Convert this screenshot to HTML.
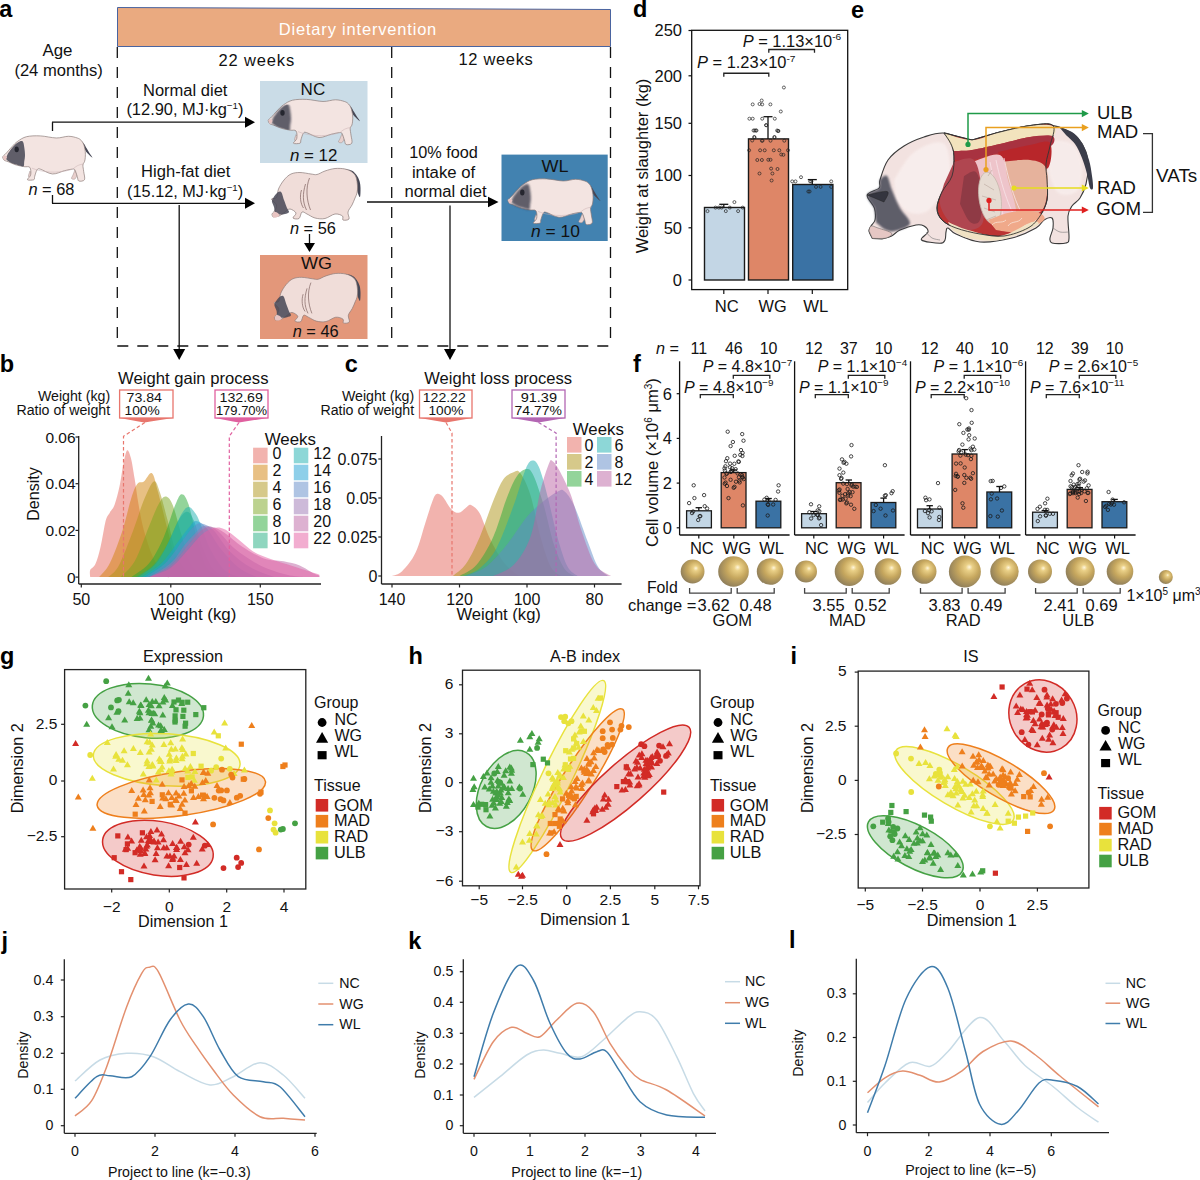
<!DOCTYPE html>
<html><head><meta charset="utf-8"><style>
html,body{margin:0;padding:0;background:#fff;width:1200px;height:1180px;overflow:hidden}
svg{display:block}
text{font-family:"Liberation Sans", sans-serif}
</style></head><body>
<svg width="1200" height="1180" viewBox="0 0 1200 1180" font-family='"Liberation Sans", sans-serif'>
<rect width="1200" height="1180" fill="#fff"/>
<defs><filter id="soft" x="-20%" y="-20%" width="140%" height="140%"><feGaussianBlur stdDeviation="0.8"/></filter></defs>
<text x="-0.7" y="16.8" font-size="23.5" text-anchor="start" fill="#000" font-weight="bold" >a</text>
<path d="M117.5,7.5 L610.5,9.5 L610.5,46.5 L117.5,46.5 Z" fill="#eaaa80" stroke="#4a64a0" stroke-width="1" />
<text x="278.8" y="35.3" font-size="16.5" text-anchor="start" fill="#fff" textLength="157.5" lengthAdjust="spacing" >Dietary intervention</text>
<line x1="117.3" y1="47.0" x2="117.3" y2="346.0" stroke="#111" stroke-width="1.3" stroke-dasharray="11,9"/>
<line x1="391.7" y1="47.0" x2="391.7" y2="346.0" stroke="#111" stroke-width="1.3" stroke-dasharray="11,9"/>
<line x1="610.5" y1="47.0" x2="610.5" y2="346.0" stroke="#111" stroke-width="1.3" stroke-dasharray="11,9"/>
<line x1="117.3" y1="346.0" x2="610.5" y2="346.0" stroke="#111" stroke-width="1.3" stroke-dasharray="11,9"/>
<text x="42.4" y="55.6" font-size="16" text-anchor="start" fill="#111" textLength="30.0" lengthAdjust="spacingAndGlyphs" >Age</text>
<text x="14.4" y="75.6" font-size="16" text-anchor="start" fill="#111" textLength="88.4" lengthAdjust="spacingAndGlyphs" >(24 months)</text>
<text x="218.5" y="65.5" font-size="16.5" text-anchor="start" fill="#111" textLength="75.7" lengthAdjust="spacing" >22 weeks</text>
<text x="458.5" y="65.3" font-size="16.5" text-anchor="start" fill="#111" textLength="74.3" lengthAdjust="spacing" >12 weeks</text>
<text x="143.0" y="95.6" font-size="16" text-anchor="start" fill="#111" textLength="84.4" lengthAdjust="spacingAndGlyphs" >Normal diet</text>
<text x="126.4" y="115.0" font-size="16" text-anchor="start" fill="#111" textLength="117.0" lengthAdjust="spacingAndGlyphs" >(12.90, MJ·kg<tspan font-size="9.5" dy="-6">−1</tspan><tspan dy="6">)</tspan></text>
<text x="141.1" y="177.3" font-size="16" text-anchor="start" fill="#111" textLength="89.3" lengthAdjust="spacingAndGlyphs" >High-fat diet</text>
<text x="127.1" y="197.3" font-size="16" text-anchor="start" fill="#111" textLength="116.0" lengthAdjust="spacingAndGlyphs" >(15.12, MJ·kg<tspan font-size="9.5" dy="-6">−1</tspan><tspan dy="6">)</tspan></text>
<line x1="52.5" y1="131.0" x2="52.5" y2="122.2" stroke="#111" stroke-width="1.3" />
<line x1="52.0" y1="122.2" x2="246.0" y2="122.2" stroke="#111" stroke-width="1.3" /><path d="M245.0,116.7 L255.0,122.2 L245.0,127.7 Z" fill="#000" stroke="none" stroke-width="1" />
<line x1="52.5" y1="195.0" x2="52.5" y2="203.3" stroke="#111" stroke-width="1.3" />
<line x1="52.0" y1="203.3" x2="246.0" y2="203.3" stroke="#111" stroke-width="1.3" /><path d="M245.0,197.8 L255.0,203.3 L245.0,208.8 Z" fill="#000" stroke="none" stroke-width="1" />
<g transform="translate(2.5,135.5) scale(0.9783,0.9891)"><path d="M74.0,34.8 C73.7,35.7 72.6,38.5 72.0,40.0 C71.4,41.5 70.2,42.8 70.5,43.5 C70.8,44.2 73.1,44.6 74.0,44.0 C74.9,43.4 76.0,41.5 76.0,40.0 C76.0,38.5 74.3,35.7 74.0,34.8 Z" fill="#e8cfcc" stroke="#8a7a78" stroke-width="0.4" /><path d="M28.0,36.0 C27.8,36.8 26.5,39.9 26.5,41.0 C26.5,42.1 27.4,42.8 28.0,42.5 C28.6,42.2 30.0,40.1 30.0,39.0 C30.0,37.9 28.3,36.5 28.0,36.0 Z" fill="#e8cfcc" stroke="#8a7a78" stroke-width="0.4" /><path d="M79.0,4.5 C79.7,5.1 81.8,6.6 83.0,8.0 C84.2,9.4 85.0,11.3 86.0,13.0 C87.0,14.7 88.0,16.4 89.0,18.0 C90.0,19.6 91.9,22.0 92.0,22.4 C92.1,22.8 90.5,21.4 89.5,20.5 C88.5,19.6 87.0,18.2 86.0,17.0 C85.0,15.8 84.7,15.1 83.5,13.0 C82.3,10.9 79.8,5.9 79.0,4.5 Z" fill="#464755" stroke="none" stroke-width="1" /><path d="M0.0,21.5 C0.4,21.1 1.5,20.2 2.5,19.2 C3.5,18.2 4.8,16.9 6.0,15.5 C7.2,14.1 8.4,12.6 10.0,11.0 C11.6,9.4 13.2,7.4 15.6,5.8 C18.0,4.2 20.8,2.1 24.6,1.2 C28.4,0.3 33.5,0.2 38.6,0.4 C43.7,0.6 50.2,2.4 55.0,2.5 C59.8,2.6 63.8,0.8 67.4,0.8 C71.0,0.8 74.2,1.8 76.4,2.5 C78.6,3.2 79.4,3.9 80.5,5.0 C81.6,6.1 82.3,7.2 83.0,9.0 C83.7,10.8 84.3,13.8 84.6,16.0 C84.9,18.2 84.7,20.6 84.6,22.4 C84.5,24.1 84.2,25.3 83.8,26.5 C83.4,27.7 82.3,28.1 82.2,29.8 C82.1,31.5 82.7,34.0 83.0,36.5 C83.3,39.0 84.6,43.1 83.8,44.7 C83.0,46.3 79.2,46.5 78.0,46.0 C76.8,45.5 77.1,43.3 76.4,41.4 C75.7,39.5 74.8,36.0 74.0,34.8 C73.2,33.6 73.3,33.9 71.5,34.0 C69.7,34.1 66.7,34.8 63.3,35.6 C59.9,36.4 55.1,39.2 51.0,38.9 C46.9,38.6 41.2,34.7 38.6,34.0 C36.0,33.3 36.2,33.6 35.3,34.8 C34.3,36.0 33.4,39.8 32.9,41.4 C32.4,43.0 33.2,44.2 32.0,44.7 C30.8,45.2 26.0,45.5 25.5,44.7 C25.0,43.9 28.4,41.9 28.8,39.8 C29.2,37.7 29.1,33.7 28.0,32.3 C26.9,30.9 24.5,31.9 22.2,31.5 C19.9,31.1 16.7,30.6 14.0,29.8 C11.3,29.0 7.9,27.3 5.8,26.5 C3.7,25.7 2.6,25.7 1.6,24.9 C0.6,24.1 0.3,22.1 0.0,21.5 Z" fill="#f3e4e1" stroke="#8a7a78" stroke-width="0.7" /><path d="M5.3,18.6 C6.1,17.6 8.2,14.3 9.9,12.4 C11.6,10.5 13.8,8.1 15.6,7.0 C17.4,5.9 19.4,5.0 20.5,5.8 C21.6,6.6 21.8,9.2 22.2,11.6 C22.6,13.9 23.0,17.4 23.0,19.9 C23.0,22.4 22.5,24.6 22.2,26.5 C21.9,28.4 22.5,30.6 21.4,31.1 C20.3,31.7 17.5,30.3 15.6,29.8 C13.7,29.3 11.5,28.8 9.9,28.1 C8.3,27.4 6.8,26.5 5.8,25.7 C4.8,24.9 3.8,24.4 3.7,23.2 C3.6,22.0 5.0,19.4 5.3,18.6 Z" fill="#464755" stroke="none" stroke-width="1" opacity="0.85" filter="url(#soft)"/><ellipse cx="14.5" cy="14" rx="2.2" ry="3" fill="#25262f"/><path d="M0.5,21.5 C2,20 3.5,20.5 4.5,22 C4,24 3,25 1.6,24.9 Z" fill="#e8c4c2" stroke="none" stroke-width="1" /><path d="M30,33 C40,37 55,39 70,34.5 M72,34 C76,30 80,29 83,29" fill="none" stroke="#c8aeb0" stroke-width="0.5" /></g>
<text x="28.4" y="195.3" font-size="16" text-anchor="start" fill="#111" textLength="46.0" lengthAdjust="spacingAndGlyphs" ><tspan font-style="italic">n</tspan> = 68</text>
<rect x="260.0" y="81.0" width="107.5" height="82.0" fill="#cadce7" stroke="none" stroke-width="1" />
<text x="300.6" y="95.0" font-size="16" text-anchor="start" fill="#111" textLength="24.6" lengthAdjust="spacingAndGlyphs" >NC</text>
<g transform="translate(268.0,99.0) scale(1.0000,0.9891)"><path d="M74.0,34.8 C73.7,35.7 72.6,38.5 72.0,40.0 C71.4,41.5 70.2,42.8 70.5,43.5 C70.8,44.2 73.1,44.6 74.0,44.0 C74.9,43.4 76.0,41.5 76.0,40.0 C76.0,38.5 74.3,35.7 74.0,34.8 Z" fill="#e8cfcc" stroke="#8a7a78" stroke-width="0.4" /><path d="M28.0,36.0 C27.8,36.8 26.5,39.9 26.5,41.0 C26.5,42.1 27.4,42.8 28.0,42.5 C28.6,42.2 30.0,40.1 30.0,39.0 C30.0,37.9 28.3,36.5 28.0,36.0 Z" fill="#e8cfcc" stroke="#8a7a78" stroke-width="0.4" /><path d="M79.0,4.5 C79.7,5.1 81.8,6.6 83.0,8.0 C84.2,9.4 85.0,11.3 86.0,13.0 C87.0,14.7 88.0,16.4 89.0,18.0 C90.0,19.6 91.9,22.0 92.0,22.4 C92.1,22.8 90.5,21.4 89.5,20.5 C88.5,19.6 87.0,18.2 86.0,17.0 C85.0,15.8 84.7,15.1 83.5,13.0 C82.3,10.9 79.8,5.9 79.0,4.5 Z" fill="#464755" stroke="none" stroke-width="1" /><path d="M0.0,21.5 C0.4,21.1 1.5,20.2 2.5,19.2 C3.5,18.2 4.8,16.9 6.0,15.5 C7.2,14.1 8.4,12.6 10.0,11.0 C11.6,9.4 13.2,7.4 15.6,5.8 C18.0,4.2 20.8,2.1 24.6,1.2 C28.4,0.3 33.5,0.2 38.6,0.4 C43.7,0.6 50.2,2.4 55.0,2.5 C59.8,2.6 63.8,0.8 67.4,0.8 C71.0,0.8 74.2,1.8 76.4,2.5 C78.6,3.2 79.4,3.9 80.5,5.0 C81.6,6.1 82.3,7.2 83.0,9.0 C83.7,10.8 84.3,13.8 84.6,16.0 C84.9,18.2 84.7,20.6 84.6,22.4 C84.5,24.1 84.2,25.3 83.8,26.5 C83.4,27.7 82.3,28.1 82.2,29.8 C82.1,31.5 82.7,34.0 83.0,36.5 C83.3,39.0 84.6,43.1 83.8,44.7 C83.0,46.3 79.2,46.5 78.0,46.0 C76.8,45.5 77.1,43.3 76.4,41.4 C75.7,39.5 74.8,36.0 74.0,34.8 C73.2,33.6 73.3,33.9 71.5,34.0 C69.7,34.1 66.7,34.8 63.3,35.6 C59.9,36.4 55.1,39.2 51.0,38.9 C46.9,38.6 41.2,34.7 38.6,34.0 C36.0,33.3 36.2,33.6 35.3,34.8 C34.3,36.0 33.4,39.8 32.9,41.4 C32.4,43.0 33.2,44.2 32.0,44.7 C30.8,45.2 26.0,45.5 25.5,44.7 C25.0,43.9 28.4,41.9 28.8,39.8 C29.2,37.7 29.1,33.7 28.0,32.3 C26.9,30.9 24.5,31.9 22.2,31.5 C19.9,31.1 16.7,30.6 14.0,29.8 C11.3,29.0 7.9,27.3 5.8,26.5 C3.7,25.7 2.6,25.7 1.6,24.9 C0.6,24.1 0.3,22.1 0.0,21.5 Z" fill="#f3e4e1" stroke="#8a7a78" stroke-width="0.7" /><path d="M5.3,18.6 C6.1,17.6 8.2,14.3 9.9,12.4 C11.6,10.5 13.8,8.1 15.6,7.0 C17.4,5.9 19.4,5.0 20.5,5.8 C21.6,6.6 21.8,9.2 22.2,11.6 C22.6,13.9 23.0,17.4 23.0,19.9 C23.0,22.4 22.5,24.6 22.2,26.5 C21.9,28.4 22.5,30.6 21.4,31.1 C20.3,31.7 17.5,30.3 15.6,29.8 C13.7,29.3 11.5,28.8 9.9,28.1 C8.3,27.4 6.8,26.5 5.8,25.7 C4.8,24.9 3.8,24.4 3.7,23.2 C3.6,22.0 5.0,19.4 5.3,18.6 Z" fill="#464755" stroke="none" stroke-width="1" opacity="0.85" filter="url(#soft)"/><ellipse cx="14.5" cy="14" rx="2.2" ry="3" fill="#25262f"/><path d="M0.5,21.5 C2,20 3.5,20.5 4.5,22 C4,24 3,25 1.6,24.9 Z" fill="#e8c4c2" stroke="none" stroke-width="1" /><path d="M30,33 C40,37 55,39 70,34.5 M72,34 C76,30 80,29 83,29" fill="none" stroke="#c8aeb0" stroke-width="0.5" /></g>
<text x="289.9" y="161.0" font-size="16" text-anchor="start" fill="#111" textLength="47.5" lengthAdjust="spacingAndGlyphs" ><tspan font-style="italic">n</tspan> = 12</text>
<g transform="translate(271.5,168.0) scale(1.0000,1.0000)"><path d="M72.0,1.0 C73.3,1.2 77.8,1.5 80.0,2.5 C82.2,3.5 83.7,5.2 85.0,7.0 C86.3,8.8 87.3,10.8 88.0,13.0 C88.7,15.2 88.9,17.3 89.0,20.0 C89.1,22.7 89.0,28.3 88.5,29.0 C88.0,29.7 86.7,26.0 86.0,24.0 C85.3,22.0 85.3,19.5 84.5,17.0 C83.7,14.5 82.4,11.0 81.0,9.0 C79.6,7.0 77.5,6.3 76.0,5.0 C74.5,3.7 72.7,1.7 72.0,1.0 Z" fill="#464755" stroke="none" stroke-width="1" /><path d="M1.5,49.0 C1.3,48.5 0.2,47.0 0.5,46.0 C0.8,45.0 2.2,44.5 3.0,43.0 C3.8,41.5 5.5,39.0 5.0,37.0 C4.5,35.0 0.0,32.2 0.0,31.0 C0.0,29.8 3.8,31.2 5.0,29.5 C6.2,27.8 5.8,23.9 7.0,21.0 C8.2,18.1 10.4,14.5 12.5,12.0 C14.6,9.5 16.8,7.2 19.5,6.0 C22.2,4.8 25.2,4.5 28.5,4.5 C31.8,4.5 36.7,5.7 39.5,6.0 C42.3,6.3 43.2,7.0 45.5,6.5 C47.8,6.0 50.5,4.0 53.5,3.0 C56.5,2.0 60.2,0.8 63.5,0.5 C66.8,0.2 70.7,0.4 73.5,1.0 C76.3,1.6 78.7,2.7 80.5,4.0 C82.3,5.3 83.6,6.7 84.5,9.0 C85.4,11.3 85.8,15.3 86.0,18.0 C86.2,20.7 85.9,23.0 85.5,25.0 C85.1,27.0 84.3,28.0 83.5,30.0 C82.7,32.0 81.7,34.7 80.5,37.0 C79.3,39.3 77.0,41.7 76.5,44.0 C76.0,46.3 78.3,49.7 77.5,51.0 C76.7,52.3 72.6,52.5 71.5,52.0 C70.4,51.5 72.3,49.0 71.0,48.0 C69.7,47.0 66.4,45.6 63.5,46.0 C60.6,46.4 56.8,49.8 53.5,50.5 C50.2,51.2 46.5,50.8 43.5,50.0 C40.5,49.2 37.7,47.0 35.5,46.0 C33.3,45.0 31.8,43.2 30.5,44.0 C29.2,44.8 29.0,49.5 27.5,50.5 C26.0,51.5 22.0,50.9 21.5,50.0 C21.0,49.1 25.0,46.5 24.5,45.0 C24.0,43.5 20.3,41.2 18.5,41.0 C16.7,40.8 15.3,42.8 13.5,44.0 C11.7,45.2 9.5,47.2 7.5,48.0 C5.5,48.8 2.5,48.8 1.5,49.0 Z" fill="#f0ddd9" stroke="#8a7a78" stroke-width="0.7" /><path d="M1.0,31.0 C1.7,30.1 3.6,26.7 5.0,25.5 C6.4,24.3 8.2,22.9 9.5,24.0 C10.8,25.1 11.5,29.3 12.5,32.0 C13.5,34.7 14.7,38.0 15.5,40.0 C16.3,42.0 17.8,43.0 17.5,44.0 C17.2,45.0 15.2,45.6 13.5,46.0 C11.8,46.4 9.2,46.8 7.5,46.5 C5.8,46.2 4.3,45.2 3.5,44.0 C2.7,42.8 3.0,40.7 2.5,39.0 C2.0,37.3 0.8,35.3 0.5,34.0 C0.2,32.7 0.9,31.5 1.0,31.0 Z" fill="#464755" stroke="none" stroke-width="1" opacity="0.85"/><path d="M1.5,49 C0.5,47 1,45 3,44 C6,44 8,46 7.5,48 C6,49.5 3,50 1.5,49 Z" fill="#e8c4c2" stroke="none" stroke-width="1" /><path d="M38,10 C34,20 35,32 39,42 M34,16 C31,26 31,34 35,42 M30,22 C28,28 29,36 32,40" fill="none" stroke="#8a6e6c" stroke-width="0.8" /></g>
<text x="289.9" y="233.5" font-size="16" text-anchor="start" fill="#111" textLength="46.0" lengthAdjust="spacingAndGlyphs" ><tspan font-style="italic">n</tspan> = 56</text>
<line x1="309.5" y1="234.0" x2="309.5" y2="244.0" stroke="#111" stroke-width="1.3" /><path d="M304.0,243.0 L309.5,252.0 L315.0,243.0 Z" fill="#000" stroke="none" stroke-width="1" />
<rect x="260.0" y="255.0" width="107.5" height="84.0" fill="#e3977a" stroke="none" stroke-width="1" />
<text x="301.1" y="269.0" font-size="16" text-anchor="start" fill="#111" textLength="31.0" lengthAdjust="spacingAndGlyphs" >WG</text>
<g transform="translate(274.0,273.0) scale(0.9718,0.9615)"><path d="M72.0,1.0 C73.3,1.2 77.8,1.5 80.0,2.5 C82.2,3.5 83.7,5.2 85.0,7.0 C86.3,8.8 87.3,10.8 88.0,13.0 C88.7,15.2 88.9,17.3 89.0,20.0 C89.1,22.7 89.0,28.3 88.5,29.0 C88.0,29.7 86.7,26.0 86.0,24.0 C85.3,22.0 85.3,19.5 84.5,17.0 C83.7,14.5 82.4,11.0 81.0,9.0 C79.6,7.0 77.5,6.3 76.0,5.0 C74.5,3.7 72.7,1.7 72.0,1.0 Z" fill="#464755" stroke="none" stroke-width="1" /><path d="M1.5,49.0 C1.3,48.5 0.2,47.0 0.5,46.0 C0.8,45.0 2.2,44.5 3.0,43.0 C3.8,41.5 5.5,39.0 5.0,37.0 C4.5,35.0 0.0,32.2 0.0,31.0 C0.0,29.8 3.8,31.2 5.0,29.5 C6.2,27.8 5.8,23.9 7.0,21.0 C8.2,18.1 10.4,14.5 12.5,12.0 C14.6,9.5 16.8,7.2 19.5,6.0 C22.2,4.8 25.2,4.5 28.5,4.5 C31.8,4.5 36.7,5.7 39.5,6.0 C42.3,6.3 43.2,7.0 45.5,6.5 C47.8,6.0 50.5,4.0 53.5,3.0 C56.5,2.0 60.2,0.8 63.5,0.5 C66.8,0.2 70.7,0.4 73.5,1.0 C76.3,1.6 78.7,2.7 80.5,4.0 C82.3,5.3 83.6,6.7 84.5,9.0 C85.4,11.3 85.8,15.3 86.0,18.0 C86.2,20.7 85.9,23.0 85.5,25.0 C85.1,27.0 84.3,28.0 83.5,30.0 C82.7,32.0 81.7,34.7 80.5,37.0 C79.3,39.3 77.0,41.7 76.5,44.0 C76.0,46.3 78.3,49.7 77.5,51.0 C76.7,52.3 72.6,52.5 71.5,52.0 C70.4,51.5 72.3,49.0 71.0,48.0 C69.7,47.0 66.4,45.6 63.5,46.0 C60.6,46.4 56.8,49.8 53.5,50.5 C50.2,51.2 46.5,50.8 43.5,50.0 C40.5,49.2 37.7,47.0 35.5,46.0 C33.3,45.0 31.8,43.2 30.5,44.0 C29.2,44.8 29.0,49.5 27.5,50.5 C26.0,51.5 22.0,50.9 21.5,50.0 C21.0,49.1 25.0,46.5 24.5,45.0 C24.0,43.5 20.3,41.2 18.5,41.0 C16.7,40.8 15.3,42.8 13.5,44.0 C11.7,45.2 9.5,47.2 7.5,48.0 C5.5,48.8 2.5,48.8 1.5,49.0 Z" fill="#f0ddd9" stroke="#8a7a78" stroke-width="0.7" /><path d="M1.0,31.0 C1.7,30.1 3.6,26.7 5.0,25.5 C6.4,24.3 8.2,22.9 9.5,24.0 C10.8,25.1 11.5,29.3 12.5,32.0 C13.5,34.7 14.7,38.0 15.5,40.0 C16.3,42.0 17.8,43.0 17.5,44.0 C17.2,45.0 15.2,45.6 13.5,46.0 C11.8,46.4 9.2,46.8 7.5,46.5 C5.8,46.2 4.3,45.2 3.5,44.0 C2.7,42.8 3.0,40.7 2.5,39.0 C2.0,37.3 0.8,35.3 0.5,34.0 C0.2,32.7 0.9,31.5 1.0,31.0 Z" fill="#464755" stroke="none" stroke-width="1" opacity="0.85"/><path d="M1.5,49 C0.5,47 1,45 3,44 C6,44 8,46 7.5,48 C6,49.5 3,50 1.5,49 Z" fill="#e8c4c2" stroke="none" stroke-width="1" /><path d="M38,10 C34,20 35,32 39,42 M34,16 C31,26 31,34 35,42 M30,22 C28,28 29,36 32,40" fill="none" stroke="#8a6e6c" stroke-width="0.8" /></g>
<text x="292.7" y="337.3" font-size="16" text-anchor="start" fill="#111" textLength="46.0" lengthAdjust="spacingAndGlyphs" ><tspan font-style="italic">n</tspan> = 46</text>
<line x1="367.0" y1="202.0" x2="489.0" y2="202.0" stroke="#111" stroke-width="1.3" /><path d="M488.0,196.7 L498.5,202.0 L488.0,207.3 Z" fill="#000" stroke="none" stroke-width="1" />
<text x="409.2" y="157.7" font-size="16" text-anchor="start" fill="#111" textLength="68.7" lengthAdjust="spacingAndGlyphs" >10% food</text>
<text x="411.9" y="177.5" font-size="16" text-anchor="start" fill="#111" textLength="63.3" lengthAdjust="spacingAndGlyphs" >intake of</text>
<text x="404.4" y="196.7" font-size="16" text-anchor="start" fill="#111" textLength="82.2" lengthAdjust="spacingAndGlyphs" >normal diet</text>
<rect x="501.5" y="154.6" width="106.2" height="86.4" fill="#4282b0" stroke="none" stroke-width="1" />
<text x="541.4" y="171.7" font-size="16" text-anchor="start" fill="#111" textLength="27.0" lengthAdjust="spacingAndGlyphs" >WL</text>
<g transform="translate(507.7,178.5) scale(1.0076,0.9978)"><path d="M74.0,34.8 C73.7,35.7 72.6,38.5 72.0,40.0 C71.4,41.5 70.2,42.8 70.5,43.5 C70.8,44.2 73.1,44.6 74.0,44.0 C74.9,43.4 76.0,41.5 76.0,40.0 C76.0,38.5 74.3,35.7 74.0,34.8 Z" fill="#e8cfcc" stroke="#8a7a78" stroke-width="0.4" /><path d="M28.0,36.0 C27.8,36.8 26.5,39.9 26.5,41.0 C26.5,42.1 27.4,42.8 28.0,42.5 C28.6,42.2 30.0,40.1 30.0,39.0 C30.0,37.9 28.3,36.5 28.0,36.0 Z" fill="#e8cfcc" stroke="#8a7a78" stroke-width="0.4" /><path d="M79.0,4.5 C79.7,5.1 81.8,6.6 83.0,8.0 C84.2,9.4 85.0,11.3 86.0,13.0 C87.0,14.7 88.0,16.4 89.0,18.0 C90.0,19.6 91.9,22.0 92.0,22.4 C92.1,22.8 90.5,21.4 89.5,20.5 C88.5,19.6 87.0,18.2 86.0,17.0 C85.0,15.8 84.7,15.1 83.5,13.0 C82.3,10.9 79.8,5.9 79.0,4.5 Z" fill="#464755" stroke="none" stroke-width="1" /><path d="M0.0,21.5 C0.4,21.1 1.5,20.2 2.5,19.2 C3.5,18.2 4.8,16.9 6.0,15.5 C7.2,14.1 8.4,12.6 10.0,11.0 C11.6,9.4 13.2,7.4 15.6,5.8 C18.0,4.2 20.8,2.1 24.6,1.2 C28.4,0.3 33.5,0.2 38.6,0.4 C43.7,0.6 50.2,2.4 55.0,2.5 C59.8,2.6 63.8,0.8 67.4,0.8 C71.0,0.8 74.2,1.8 76.4,2.5 C78.6,3.2 79.4,3.9 80.5,5.0 C81.6,6.1 82.3,7.2 83.0,9.0 C83.7,10.8 84.3,13.8 84.6,16.0 C84.9,18.2 84.7,20.6 84.6,22.4 C84.5,24.1 84.2,25.3 83.8,26.5 C83.4,27.7 82.3,28.1 82.2,29.8 C82.1,31.5 82.7,34.0 83.0,36.5 C83.3,39.0 84.6,43.1 83.8,44.7 C83.0,46.3 79.2,46.5 78.0,46.0 C76.8,45.5 77.1,43.3 76.4,41.4 C75.7,39.5 74.8,36.0 74.0,34.8 C73.2,33.6 73.3,33.9 71.5,34.0 C69.7,34.1 66.7,34.8 63.3,35.6 C59.9,36.4 55.1,39.2 51.0,38.9 C46.9,38.6 41.2,34.7 38.6,34.0 C36.0,33.3 36.2,33.6 35.3,34.8 C34.3,36.0 33.4,39.8 32.9,41.4 C32.4,43.0 33.2,44.2 32.0,44.7 C30.8,45.2 26.0,45.5 25.5,44.7 C25.0,43.9 28.4,41.9 28.8,39.8 C29.2,37.7 29.1,33.7 28.0,32.3 C26.9,30.9 24.5,31.9 22.2,31.5 C19.9,31.1 16.7,30.6 14.0,29.8 C11.3,29.0 7.9,27.3 5.8,26.5 C3.7,25.7 2.6,25.7 1.6,24.9 C0.6,24.1 0.3,22.1 0.0,21.5 Z" fill="#f3e4e1" stroke="#8a7a78" stroke-width="0.7" /><path d="M5.3,18.6 C6.1,17.6 8.2,14.3 9.9,12.4 C11.6,10.5 13.8,8.1 15.6,7.0 C17.4,5.9 19.4,5.0 20.5,5.8 C21.6,6.6 21.8,9.2 22.2,11.6 C22.6,13.9 23.0,17.4 23.0,19.9 C23.0,22.4 22.5,24.6 22.2,26.5 C21.9,28.4 22.5,30.6 21.4,31.1 C20.3,31.7 17.5,30.3 15.6,29.8 C13.7,29.3 11.5,28.8 9.9,28.1 C8.3,27.4 6.8,26.5 5.8,25.7 C4.8,24.9 3.8,24.4 3.7,23.2 C3.6,22.0 5.0,19.4 5.3,18.6 Z" fill="#464755" stroke="none" stroke-width="1" opacity="0.85" filter="url(#soft)"/><ellipse cx="14.5" cy="14" rx="2.2" ry="3" fill="#25262f"/><path d="M0.5,21.5 C2,20 3.5,20.5 4.5,22 C4,24 3,25 1.6,24.9 Z" fill="#e8c4c2" stroke="none" stroke-width="1" /><path d="M30,33 C40,37 55,39 70,34.5 M72,34 C76,30 80,29 83,29" fill="none" stroke="#c8aeb0" stroke-width="0.5" /></g>
<text x="531.1" y="236.9" font-size="16" text-anchor="start" fill="#111" textLength="48.9" lengthAdjust="spacingAndGlyphs" ><tspan font-style="italic">n</tspan> = 10</text>
<line x1="179.2" y1="205.0" x2="179.2" y2="350.0" stroke="#111" stroke-width="1.3" /><path d="M173.2,349.0 L179.2,360.0 L185.2,349.0 Z" fill="#000" stroke="none" stroke-width="1" />
<line x1="450.0" y1="205.6" x2="450.0" y2="350.0" stroke="#111" stroke-width="1.3" /><path d="M444.0,349.0 L450.0,360.0 L456.0,349.0 Z" fill="#000" stroke="none" stroke-width="1" />
<text x="-0.2" y="371.7" font-size="23.5" text-anchor="start" fill="#000" font-weight="bold" >b</text>
<path d="M90.2,577.1 C90.2,575.9 89.4,572.3 90.2,570.1 C91.1,567.9 93.7,567.9 95.4,564.0 C97.2,560.1 98.9,553.9 100.6,546.7 C102.3,539.6 104.2,526.7 105.6,521.1 C107.1,515.4 108.1,515.6 109.6,512.9 C111.1,510.2 112.9,509.2 114.6,504.7 C116.3,500.2 118.1,492.8 119.6,486.0 C121.1,479.2 122.1,469.8 123.4,463.9 C124.6,457.9 125.9,451.3 127.1,450.3 C128.4,449.3 129.6,453.3 130.9,458.0 C132.1,462.7 133.4,470.8 134.6,478.6 C135.9,486.3 137.0,496.1 138.6,504.7 C140.1,513.4 141.6,521.8 143.9,530.4 C146.3,539.0 149.3,548.7 152.5,556.1 C155.8,563.5 160.6,571.3 163.6,574.8 C166.7,578.3 169.6,576.7 170.8,577.1 L170.8,577.1 L90.2,577.1 Z" fill="#e5675d" fill-opacity="0.5" stroke="none"/>
<path d="M99.2,577.1 C101.0,574.8 106.1,570.9 109.9,563.1 C113.8,555.3 118.9,541.3 122.5,530.4 C126.0,519.5 128.9,505.5 131.4,497.7 C133.9,489.9 135.4,486.4 137.5,483.7 C139.6,481.0 141.5,483.1 143.9,481.4 C146.4,479.6 149.6,471.2 152.0,473.2 C154.4,475.1 155.6,483.5 158.3,493.0 C160.9,502.6 164.8,519.1 167.8,530.4 C170.7,541.7 173.0,553.0 176.2,560.8 C179.4,568.5 185.1,574.4 186.9,577.1 L186.9,577.1 L99.2,577.1 Z" fill="#d18109" fill-opacity="0.5" stroke="none"/>
<path d="M108.2,577.1 C109.9,575.2 114.7,573.2 118.9,565.4 C123.1,557.6 129.0,541.3 133.2,530.4 C137.4,519.5 140.5,508.2 143.9,500.0 C147.4,491.9 151.1,482.5 153.8,481.4 C156.5,480.2 157.7,486.4 160.1,493.0 C162.4,499.7 164.8,510.2 167.8,521.1 C170.7,532.0 173.9,549.1 178.0,558.4 C182.0,567.8 189.9,574.0 192.3,577.1 L192.3,577.1 L108.2,577.1 Z" fill="#ad9315" fill-opacity="0.5" stroke="none"/>
<path d="M120.7,577.1 C123.1,574.4 130.2,569.3 135.0,560.8 C139.8,552.2 145.4,535.1 149.3,525.7 C153.2,516.4 155.6,509.6 158.3,504.7 C161.0,499.9 163.0,496.5 165.4,496.5 C167.8,496.5 169.9,498.3 172.6,504.7 C175.3,511.1 178.6,525.3 181.5,535.1 C184.5,544.8 186.9,556.1 190.5,563.1 C194.1,570.1 200.9,574.8 203.0,577.1 L203.0,577.1 L120.7,577.1 Z" fill="#79a51f" fill-opacity="0.5" stroke="none"/>
<path d="M131.4,577.1 C134.4,574.8 143.9,569.7 149.3,563.1 C154.7,556.5 159.5,546.7 163.6,537.4 C167.8,528.1 171.4,514.2 174.4,507.1 C177.4,499.9 179.2,494.6 181.5,494.2 C183.9,493.8 186.0,496.7 188.7,504.7 C191.4,512.7 194.7,531.6 197.7,542.1 C200.6,552.6 203.0,561.9 206.6,567.8 C210.2,573.6 217.0,575.5 219.1,577.1 L219.1,577.1 L131.4,577.1 Z" fill="#27a935" fill-opacity="0.5" stroke="none"/>
<path d="M135.0,577.1 C138.0,575.2 147.5,570.9 152.9,565.4 C158.3,560.0 163.0,551.8 167.2,544.4 C171.4,537.0 174.7,526.5 178.0,521.1 C181.2,515.6 184.2,511.7 186.9,511.7 C189.6,511.7 191.4,514.8 194.1,521.1 C196.8,527.3 199.7,540.9 203.0,549.1 C206.3,557.3 209.6,565.4 213.8,570.1 C217.9,574.8 225.7,575.9 228.1,577.1 L228.1,577.1 L135.0,577.1 Z" fill="#1fad7f" fill-opacity="0.5" stroke="none"/>
<path d="M138.6,577.1 C141.6,574.8 151.1,569.7 156.5,563.1 C161.9,556.5 166.6,545.6 170.8,537.4 C175.0,529.2 178.6,519.1 181.5,514.1 C184.5,509.0 186.3,507.1 188.7,507.1 C191.1,507.1 193.8,510.9 195.9,514.1 C197.9,517.2 198.8,519.9 201.2,525.7 C203.6,531.6 206.3,541.7 210.2,549.1 C214.1,556.5 219.7,565.4 224.5,570.1 C229.3,574.8 236.4,575.9 238.8,577.1 L238.8,577.1 L138.6,577.1 Z" fill="#1bafaf" fill-opacity="0.5" stroke="none"/>
<path d="M142.2,577.1 C145.4,574.8 155.9,568.9 161.8,563.1 C167.8,557.3 173.5,547.9 178.0,542.1 C182.4,536.2 185.7,531.6 188.7,528.1 C191.7,524.6 192.9,521.1 195.9,521.1 C198.8,521.1 202.4,523.4 206.6,528.1 C210.8,532.7 215.6,542.5 220.9,549.1 C226.3,555.7 232.9,563.1 238.8,567.8 C244.8,572.4 253.7,575.5 256.7,577.1 L256.7,577.1 L142.2,577.1 Z" fill="#1d9fd3" fill-opacity="0.5" stroke="none"/>
<path d="M145.7,577.1 C149.0,574.8 159.5,568.9 165.4,563.1 C171.4,557.3 177.1,547.9 181.5,542.1 C186.0,536.2 189.0,531.2 192.3,528.1 C195.6,525.0 197.7,523.0 201.2,523.4 C204.8,523.8 209.0,525.7 213.8,530.4 C218.5,535.1 223.6,545.2 229.9,551.4 C236.1,557.6 243.9,563.5 251.4,567.8 C258.8,572.0 270.7,575.5 274.6,577.1 L274.6,577.1 L145.7,577.1 Z" fill="#5f89c7" fill-opacity="0.5" stroke="none"/>
<path d="M149.3,577.1 C152.9,574.8 164.8,568.5 170.8,563.1 C176.8,557.6 180.9,549.5 185.1,544.4 C189.3,539.4 192.6,535.8 195.9,532.7 C199.1,529.6 201.2,526.1 204.8,525.7 C208.4,525.3 212.3,526.5 217.3,530.4 C222.4,534.3 228.1,543.2 235.2,549.1 C242.4,554.9 251.6,561.1 260.3,565.4 C269.0,569.7 279.7,572.8 287.1,574.8 C294.6,576.7 302.1,576.7 305.1,577.1 L305.1,577.1 L149.3,577.1 Z" fill="#9b75b3" fill-opacity="0.5" stroke="none"/>
<path d="M149.3,577.1 C152.9,575.2 164.2,570.9 170.8,565.4 C177.4,560.0 183.6,550.2 188.7,544.4 C193.8,538.6 197.4,533.3 201.2,530.4 C205.1,527.5 208.1,526.5 212.0,526.9 C215.8,527.3 219.4,529.4 224.5,532.7 C229.6,536.0 235.8,542.5 242.4,546.7 C249.0,551.0 257.0,556.0 263.9,558.4 C270.7,560.8 277.6,560.1 283.6,561.2 C289.5,562.4 294.6,563.4 299.7,565.4 C304.8,567.5 310.7,571.9 314.0,573.6 C317.3,575.3 318.5,575.3 319.4,575.7 L319.4,577.1 L149.3,577.1 Z" fill="#bb63a3" fill-opacity="0.5" stroke="none"/>
<path d="M149.3,577.1 C152.9,575.5 164.2,572.4 170.8,567.8 C177.4,563.1 183.6,554.5 188.7,549.1 C193.8,543.6 197.1,538.6 201.2,535.1 C205.4,531.6 209.9,529.0 213.8,528.1 C217.6,527.1 220.3,527.3 224.5,529.2 C228.7,531.2 234.0,536.0 238.8,539.7 C243.6,543.4 248.1,548.3 253.1,551.4 C258.2,554.5 263.6,556.3 269.2,558.4 C274.9,560.6 281.2,562.3 287.1,564.3 C293.1,566.2 299.7,568.3 305.1,570.1 C310.4,571.8 317.0,574.0 319.4,574.8 L319.4,577.1 L149.3,577.1 Z" fill="#e55ba1" fill-opacity="0.5" stroke="none"/>
<line x1="78.7" y1="436.0" x2="78.7" y2="584.0" stroke="#222" stroke-width="1.3" />
<line x1="78.7" y1="584.0" x2="321.0" y2="584.0" stroke="#222" stroke-width="1.3" />
<line x1="75.5" y1="577.1" x2="78.7" y2="577.1" stroke="#222" stroke-width="1.2" />
<text x="75.6" y="582.6" font-size="15.5" text-anchor="end" fill="#111" >0</text>
<line x1="75.5" y1="530.4" x2="78.7" y2="530.4" stroke="#222" stroke-width="1.2" />
<text x="75.6" y="535.9" font-size="15.5" text-anchor="end" fill="#111" >0.02</text>
<line x1="75.5" y1="483.7" x2="78.7" y2="483.7" stroke="#222" stroke-width="1.2" />
<text x="75.6" y="489.2" font-size="15.5" text-anchor="end" fill="#111" >0.04</text>
<line x1="75.5" y1="437.0" x2="78.7" y2="437.0" stroke="#222" stroke-width="1.2" />
<text x="75.6" y="442.5" font-size="15.5" text-anchor="end" fill="#111" >0.06</text>
<line x1="81.3" y1="584.0" x2="81.3" y2="587.5" stroke="#222" stroke-width="1.2" />
<text x="81.3" y="604.5" font-size="16" text-anchor="middle" fill="#111" >50</text>
<line x1="170.8" y1="584.0" x2="170.8" y2="587.5" stroke="#222" stroke-width="1.2" />
<text x="170.8" y="604.5" font-size="16" text-anchor="middle" fill="#111" >100</text>
<line x1="260.3" y1="584.0" x2="260.3" y2="587.5" stroke="#222" stroke-width="1.2" />
<text x="260.3" y="604.5" font-size="16" text-anchor="middle" fill="#111" >150</text>
<text x="150.4" y="619.5" font-size="16" text-anchor="start" fill="#111" textLength="86.0" lengthAdjust="spacingAndGlyphs" >Weight (kg)</text>
<text x="38.5" y="494.0" font-size="16" text-anchor="middle" fill="#111" textLength="53.6" lengthAdjust="spacingAndGlyphs" transform="rotate(-90 38.5 494)">Density</text>
<text x="118.1" y="383.5" font-size="16.5" text-anchor="start" fill="#111" textLength="150.4" lengthAdjust="spacingAndGlyphs" >Weight gain process</text>
<text x="37.9" y="401.0" font-size="14" text-anchor="start" fill="#111" textLength="72.3" lengthAdjust="spacingAndGlyphs" >Weight (kg)</text>
<text x="16.4" y="414.8" font-size="14" text-anchor="start" fill="#111" textLength="93.8" lengthAdjust="spacingAndGlyphs" >Ratio of weight</text>
<rect x="119.6" y="390.0" width="53.4" height="28.0" fill="#fff" stroke="#e8766d" stroke-width="1.3" />
<path d="M119.6,418.0 L173.0,418.0 L150.5,421.5 L144.5,422.5 L138.5,421.5 Z" fill="#e8766d" stroke="none" stroke-width="1" />
<text x="126.5" y="402.3" font-size="13.5" text-anchor="start" fill="#111" textLength="35.5" lengthAdjust="spacingAndGlyphs" >73.84</text>
<text x="124.5" y="415.3" font-size="13.5" text-anchor="start" fill="#111" textLength="35.3" lengthAdjust="spacingAndGlyphs" >100%</text>
<rect x="215.0" y="390.0" width="53.0" height="28.0" fill="#fff" stroke="#e0609f" stroke-width="1.3" />
<path d="M215.0,418.0 L268.0,418.0 L245.0,421.5 L239.0,422.5 L233.0,421.5 Z" fill="#e0609f" stroke="none" stroke-width="1" />
<text x="219.5" y="402.3" font-size="13.5" text-anchor="start" fill="#111" textLength="43.4" lengthAdjust="spacingAndGlyphs" >132.69</text>
<text x="215.9" y="415.3" font-size="13.5" text-anchor="start" fill="#111" textLength="51.2" lengthAdjust="spacingAndGlyphs" >179.70%</text>
<path d="M144.8,422.5 L123.5,436.3 L123.5,577" fill="none" stroke="#e8766d" stroke-width="1.2" stroke-dasharray="3.5,2.5"/>
<path d="M239,422.5 L229.3,436.3 L229.3,577" fill="none" stroke="#e0609f" stroke-width="1.2" stroke-dasharray="3.5,2.5"/>
<text x="264.7" y="444.9" font-size="16.5" text-anchor="start" fill="#111" textLength="51.3" lengthAdjust="spacingAndGlyphs" >Weeks</text>
<rect x="253.1" y="447.7" width="14.5" height="15.6" fill="#f2b3ae" stroke="none" stroke-width="1" />
<text x="272.6" y="459.3" font-size="16" text-anchor="start" fill="#111" >0</text>
<rect x="253.1" y="464.7" width="14.5" height="15.6" fill="#e8c084" stroke="none" stroke-width="1" />
<text x="272.6" y="476.3" font-size="16" text-anchor="start" fill="#111" >2</text>
<rect x="253.1" y="481.7" width="14.5" height="15.6" fill="#d6c98a" stroke="none" stroke-width="1" />
<text x="272.6" y="493.3" font-size="16" text-anchor="start" fill="#111" >4</text>
<rect x="253.1" y="498.7" width="14.5" height="15.6" fill="#bcd28f" stroke="none" stroke-width="1" />
<text x="272.6" y="510.3" font-size="16" text-anchor="start" fill="#111" >6</text>
<rect x="253.1" y="515.7" width="14.5" height="15.6" fill="#93d49a" stroke="none" stroke-width="1" />
<text x="272.6" y="527.3" font-size="16" text-anchor="start" fill="#111" >8</text>
<rect x="253.1" y="532.7" width="14.5" height="15.6" fill="#8fd6bf" stroke="none" stroke-width="1" />
<text x="272.6" y="544.3" font-size="16" text-anchor="start" fill="#111" >10</text>
<rect x="293.8" y="447.7" width="14.5" height="15.6" fill="#8dd7d7" stroke="none" stroke-width="1" />
<text x="313.3" y="459.3" font-size="16" text-anchor="start" fill="#111" >12</text>
<rect x="293.8" y="464.7" width="14.5" height="15.6" fill="#8ecfe9" stroke="none" stroke-width="1" />
<text x="313.3" y="476.3" font-size="16" text-anchor="start" fill="#111" >14</text>
<rect x="293.8" y="481.7" width="14.5" height="15.6" fill="#afc4e3" stroke="none" stroke-width="1" />
<text x="313.3" y="493.3" font-size="16" text-anchor="start" fill="#111" >16</text>
<rect x="293.8" y="498.7" width="14.5" height="15.6" fill="#cdbad9" stroke="none" stroke-width="1" />
<text x="313.3" y="510.3" font-size="16" text-anchor="start" fill="#111" >18</text>
<rect x="293.8" y="515.7" width="14.5" height="15.6" fill="#ddb1d1" stroke="none" stroke-width="1" />
<text x="313.3" y="527.3" font-size="16" text-anchor="start" fill="#111" >20</text>
<rect x="293.8" y="532.7" width="14.5" height="15.6" fill="#f2add0" stroke="none" stroke-width="1" />
<text x="313.3" y="544.3" font-size="16" text-anchor="start" fill="#111" >22</text>
<text x="344.8" y="372.0" font-size="23.5" text-anchor="start" fill="#000" font-weight="bold" >c</text>
<path d="M392.0,576.0 C393.7,575.2 398.2,575.2 402.1,571.3 C406.1,567.4 411.7,560.9 415.6,552.6 C419.6,544.3 422.9,530.0 425.8,521.4 C428.6,512.8 430.7,505.7 432.5,501.1 C434.3,496.6 434.9,494.9 436.6,494.1 C438.2,493.3 440.2,494.0 442.6,496.4 C445.0,498.9 448.4,506.2 451.1,508.9 C453.8,511.7 456.3,513.1 458.8,512.8 C461.4,512.6 464.2,508.7 466.2,507.4 C468.3,506.1 468.7,504.0 471.0,505.0 C473.2,506.1 476.6,508.0 479.8,513.6 C482.9,519.2 485.9,530.5 489.9,538.6 C493.8,546.6 498.9,556.0 503.4,562.0 C507.9,567.9 513.5,572.1 516.9,574.4 C520.2,576.8 522.5,575.7 523.6,576.0 L523.6,576.0 L392.0,576.0 Z" fill="#e5675d" fill-opacity="0.5" stroke="none"/>
<path d="M452.8,576.0 C455.0,573.9 461.8,570.0 466.2,563.5 C470.8,557.0 475.2,547.4 479.8,537.0 C484.2,526.6 489.3,510.7 493.2,501.1 C497.2,491.5 500.0,484.1 503.4,479.3 C506.8,474.5 510.7,473.3 513.5,472.3 C516.3,471.2 517.4,469.3 520.2,473.0 C523.1,476.8 527.0,484.2 530.4,494.9 C533.8,505.5 537.1,525.0 540.5,537.0 C543.9,549.0 547.2,560.1 550.6,566.6 C554.0,573.1 559.1,574.4 560.8,576.0 L560.8,576.0 L452.8,576.0 Z" fill="#ad9315" fill-opacity="0.5" stroke="none"/>
<path d="M459.5,576.0 C462.3,574.2 470.8,571.6 476.4,565.1 C482.0,558.6 488.2,548.2 493.2,537.0 C498.3,525.8 502.8,508.1 506.8,498.0 C510.7,487.9 513.5,481.0 516.9,476.2 C520.2,471.3 524.2,469.1 527.0,469.1 C529.8,469.1 530.9,470.0 533.8,476.2 C536.6,482.3 540.5,494.4 543.9,505.8 C547.2,517.2 550.6,534.4 554.0,544.8 C557.4,555.2 560.8,563.0 564.1,568.2 C567.5,573.4 572.6,574.7 574.2,576.0 L574.2,576.0 L459.5,576.0 Z" fill="#27a935" fill-opacity="0.5" stroke="none"/>
<path d="M462.9,576.0 C465.7,574.7 474.1,572.9 479.8,568.2 C485.4,563.5 491.0,558.3 496.6,547.9 C502.2,537.5 508.7,518.8 513.5,505.8 C518.3,492.8 522.2,477.5 525.3,469.9 C528.4,462.4 529.8,461.1 532.1,460.6 C534.3,460.0 536.3,461.1 538.8,466.8 C541.3,472.5 544.2,483.2 547.2,494.9 C550.3,506.6 554.0,525.0 557.4,537.0 C560.8,549.0 564.1,560.1 567.5,566.6 C570.9,573.1 575.9,574.4 577.6,576.0 L577.6,576.0 L462.9,576.0 Z" fill="#1bafaf" fill-opacity="0.5" stroke="none"/>
<path d="M466.2,576.0 C469.6,574.4 479.8,571.8 486.5,566.6 C493.2,561.4 500.0,553.1 506.8,544.8 C513.5,536.5 520.8,524.0 527.0,516.7 C533.2,509.4 538.8,505.3 543.9,501.1 C548.9,497.0 554.0,493.4 557.4,491.8 C560.8,490.1 561.3,488.6 564.1,491.0 C566.9,493.3 570.3,497.4 574.2,505.8 C578.2,514.2 583.8,531.5 587.8,541.7 C591.7,551.8 594.5,560.9 597.9,566.6 C601.2,572.4 606.3,574.4 608.0,576.0 L608.0,576.0 L466.2,576.0 Z" fill="#5f89c7" fill-opacity="0.5" stroke="none"/>
<path d="M493.2,576.0 C496.6,574.2 507.3,571.6 513.5,565.1 C519.7,558.6 525.9,549.5 530.4,537.0 C534.9,524.5 537.4,502.4 540.5,490.2 C543.6,478.0 547.0,468.6 548.9,463.7 C550.9,458.8 550.6,459.8 552.3,460.9 C554.0,461.9 556.0,464.3 559.1,469.9 C562.2,475.6 567.2,485.0 570.9,494.9 C574.5,504.8 577.1,517.8 581.0,529.2 C584.9,540.6 590.0,556.0 594.5,563.5 C599.0,571.1 604.9,572.4 608.0,574.4 C611.1,576.5 612.2,575.7 613.1,576.0 L613.1,576.0 L493.2,576.0 Z" fill="#bb63a3" fill-opacity="0.5" stroke="none"/>
<line x1="381.5" y1="436.0" x2="381.5" y2="584.0" stroke="#222" stroke-width="1.3" />
<line x1="381.5" y1="584.0" x2="621.6" y2="584.0" stroke="#222" stroke-width="1.3" />
<line x1="378.3" y1="576.0" x2="381.5" y2="576.0" stroke="#222" stroke-width="1.2" />
<text x="377.5" y="581.5" font-size="16" text-anchor="end" fill="#111" >0</text>
<line x1="378.3" y1="537.0" x2="381.5" y2="537.0" stroke="#222" stroke-width="1.2" />
<text x="377.5" y="542.5" font-size="16" text-anchor="end" fill="#111" >0.025</text>
<line x1="378.3" y1="498.0" x2="381.5" y2="498.0" stroke="#222" stroke-width="1.2" />
<text x="377.5" y="503.5" font-size="16" text-anchor="end" fill="#111" >0.05</text>
<line x1="378.3" y1="459.0" x2="381.5" y2="459.0" stroke="#222" stroke-width="1.2" />
<text x="377.5" y="464.5" font-size="16" text-anchor="end" fill="#111" >0.075</text>
<line x1="392.0" y1="584.0" x2="392.0" y2="587.5" stroke="#222" stroke-width="1.2" />
<text x="392.0" y="604.5" font-size="16" text-anchor="middle" fill="#111" >140</text>
<line x1="459.5" y1="584.0" x2="459.5" y2="587.5" stroke="#222" stroke-width="1.2" />
<text x="459.5" y="604.5" font-size="16" text-anchor="middle" fill="#111" >120</text>
<line x1="527.0" y1="584.0" x2="527.0" y2="587.5" stroke="#222" stroke-width="1.2" />
<text x="527.0" y="604.5" font-size="16" text-anchor="middle" fill="#111" >100</text>
<line x1="594.5" y1="584.0" x2="594.5" y2="587.5" stroke="#222" stroke-width="1.2" />
<text x="594.5" y="604.5" font-size="16" text-anchor="middle" fill="#111" >80</text>
<text x="456.4" y="619.5" font-size="16" text-anchor="start" fill="#111" textLength="84.5" lengthAdjust="spacingAndGlyphs" >Weight (kg)</text>
<text x="424.3" y="383.5" font-size="16.5" text-anchor="start" fill="#111" textLength="147.8" lengthAdjust="spacingAndGlyphs" >Weight loss process</text>
<text x="341.9" y="401.0" font-size="14" text-anchor="start" fill="#111" textLength="72.3" lengthAdjust="spacingAndGlyphs" >Weight (kg)</text>
<text x="320.4" y="414.8" font-size="14" text-anchor="start" fill="#111" textLength="93.8" lengthAdjust="spacingAndGlyphs" >Ratio of weight</text>
<rect x="419.5" y="390.0" width="52.5" height="28.0" fill="#fff" stroke="#e8766d" stroke-width="1.3" />
<path d="M419.5,418.0 L472.0,418.0 L452.0,421.5 L446.0,422.5 L440.0,421.5 Z" fill="#e8766d" stroke="none" stroke-width="1" />
<text x="422.8" y="402.3" font-size="13.5" text-anchor="start" fill="#111" textLength="42.9" lengthAdjust="spacingAndGlyphs" >122.22</text>
<text x="428.5" y="415.3" font-size="13.5" text-anchor="start" fill="#111" textLength="35.0" lengthAdjust="spacingAndGlyphs" >100%</text>
<rect x="512.0" y="390.0" width="53.0" height="28.0" fill="#fff" stroke="#b366b3" stroke-width="1.3" />
<path d="M512.0,418.0 L565.0,418.0 L544.5,421.5 L538.5,422.5 L532.5,421.5 Z" fill="#b366b3" stroke="none" stroke-width="1" />
<text x="520.7" y="402.3" font-size="13.5" text-anchor="start" fill="#111" textLength="36.3" lengthAdjust="spacingAndGlyphs" >91.39</text>
<text x="514.5" y="415.3" font-size="13.5" text-anchor="start" fill="#111" textLength="47.4" lengthAdjust="spacingAndGlyphs" >74.77%</text>
<path d="M446,422.5 L452.0,433 L452.0,576" fill="none" stroke="#e8766d" stroke-width="1.2" stroke-dasharray="3.5,2.5"/>
<path d="M538.5,422.5 L556.1,433 L556.1,576" fill="none" stroke="#b366b3" stroke-width="1.2" stroke-dasharray="3.5,2.5"/>
<text x="572.8" y="435.0" font-size="16.5" text-anchor="start" fill="#111" textLength="51.0" lengthAdjust="spacingAndGlyphs" >Weeks</text>
<rect x="567.0" y="437.0" width="14.5" height="15.6" fill="#f2b3ae" stroke="none" stroke-width="1" />
<text x="584.4" y="451.0" font-size="16" text-anchor="start" fill="#111" >0</text>
<rect x="567.0" y="454.0" width="14.5" height="15.6" fill="#d6c98a" stroke="none" stroke-width="1" />
<text x="584.4" y="468.0" font-size="16" text-anchor="start" fill="#111" >2</text>
<rect x="567.0" y="471.0" width="14.5" height="15.6" fill="#93d49a" stroke="none" stroke-width="1" />
<text x="584.4" y="485.0" font-size="16" text-anchor="start" fill="#111" >4</text>
<rect x="597.0" y="437.0" width="14.5" height="15.6" fill="#8dd7d7" stroke="none" stroke-width="1" />
<text x="614.4" y="451.0" font-size="16" text-anchor="start" fill="#111" >6</text>
<rect x="597.0" y="454.0" width="14.5" height="15.6" fill="#afc4e3" stroke="none" stroke-width="1" />
<text x="614.4" y="468.0" font-size="16" text-anchor="start" fill="#111" >8</text>
<rect x="597.0" y="471.0" width="14.5" height="15.6" fill="#ddb1d1" stroke="none" stroke-width="1" />
<text x="614.4" y="485.0" font-size="16" text-anchor="start" fill="#111" >12</text>
<text x="633.1" y="17.3" font-size="23.5" text-anchor="start" fill="#000" font-weight="bold" >d</text>
<rect x="691.7" y="30.3" width="156.0" height="259.3" fill="none" stroke="#111" stroke-width="1.3" />
<line x1="688.5" y1="280.0" x2="691.7" y2="280.0" stroke="#111" stroke-width="1.2" />
<text x="682.0" y="285.8" font-size="16.5" text-anchor="end" fill="#111" >0</text>
<line x1="688.5" y1="227.8" x2="691.7" y2="227.8" stroke="#111" stroke-width="1.2" />
<text x="682.0" y="233.6" font-size="16.5" text-anchor="end" fill="#111" >50</text>
<line x1="688.5" y1="175.5" x2="691.7" y2="175.5" stroke="#111" stroke-width="1.2" />
<text x="682.0" y="181.3" font-size="16.5" text-anchor="end" fill="#111" >100</text>
<line x1="688.5" y1="123.3" x2="691.7" y2="123.3" stroke="#111" stroke-width="1.2" />
<text x="682.0" y="129.1" font-size="16.5" text-anchor="end" fill="#111" >150</text>
<line x1="688.5" y1="75.8" x2="691.7" y2="75.8" stroke="#111" stroke-width="1.2" />
<text x="682.0" y="81.6" font-size="16.5" text-anchor="end" fill="#111" >200</text>
<line x1="688.5" y1="30.5" x2="691.7" y2="30.5" stroke="#111" stroke-width="1.2" />
<text x="682.0" y="36.3" font-size="16.5" text-anchor="end" fill="#111" >250</text>
<rect x="704.5" y="207.5" width="40.0" height="72.5" fill="#c3d6e5" stroke="#1a1a1a" stroke-width="1.4" />
<line x1="723.8" y1="207.5" x2="723.8" y2="204.3" stroke="#111" stroke-width="1.3" />
<line x1="719.3" y1="204.3" x2="728.3" y2="204.3" stroke="#111" stroke-width="1.3" />
<line x1="723.8" y1="289.6" x2="723.8" y2="294.0" stroke="#111" stroke-width="1.2" />
<rect x="748.5" y="138.9" width="40.0" height="141.1" fill="#de8667" stroke="#1a1a1a" stroke-width="1.4" />
<line x1="768.0" y1="138.9" x2="768.0" y2="116.7" stroke="#111" stroke-width="1.3" />
<line x1="763.5" y1="116.7" x2="772.5" y2="116.7" stroke="#111" stroke-width="1.3" />
<line x1="768.0" y1="289.6" x2="768.0" y2="294.0" stroke="#111" stroke-width="1.2" />
<rect x="792.7" y="184.5" width="40.2" height="95.5" fill="#3a72a4" stroke="#1a1a1a" stroke-width="1.4" />
<line x1="812.3" y1="184.5" x2="812.3" y2="179.6" stroke="#111" stroke-width="1.3" />
<line x1="807.8" y1="179.6" x2="816.8" y2="179.6" stroke="#111" stroke-width="1.3" />
<line x1="812.3" y1="289.6" x2="812.3" y2="294.0" stroke="#111" stroke-width="1.2" />
<text x="714.8" y="311.6" font-size="16.5" text-anchor="start" fill="#111" textLength="24.0" lengthAdjust="spacingAndGlyphs" >NC</text>
<text x="758.5" y="311.6" font-size="16.5" text-anchor="start" fill="#111" textLength="28.1" lengthAdjust="spacingAndGlyphs" >WG</text>
<text x="803.3" y="311.6" font-size="16.5" text-anchor="start" fill="#111" textLength="25.0" lengthAdjust="spacingAndGlyphs" >WL</text>
<text x="648.0" y="166.0" font-size="16.5" text-anchor="middle" fill="#111" textLength="174.7" lengthAdjust="spacingAndGlyphs" transform="rotate(-90 648 166)">Weight at slaughter (kg)</text>
<circle cx="707.5" cy="211.1" r="1.5" fill="none" stroke="#222" stroke-width="0.7"/>
<circle cx="715.5" cy="207.6" r="1.5" fill="none" stroke="#222" stroke-width="0.7"/>
<circle cx="718.8" cy="207.6" r="1.5" fill="none" stroke="#222" stroke-width="0.7"/>
<circle cx="721.6" cy="207.6" r="1.5" fill="none" stroke="#222" stroke-width="0.7"/>
<circle cx="725.8" cy="211.1" r="1.5" fill="none" stroke="#222" stroke-width="0.7"/>
<circle cx="729.8" cy="207.6" r="1.5" fill="none" stroke="#222" stroke-width="0.7"/>
<circle cx="734.4" cy="202.1" r="1.5" fill="none" stroke="#222" stroke-width="0.7"/>
<circle cx="738.1" cy="211.1" r="1.5" fill="none" stroke="#222" stroke-width="0.7"/>
<circle cx="742.7" cy="207.6" r="1.5" fill="none" stroke="#222" stroke-width="0.7"/>
<circle cx="749.1" cy="150.3" r="1.5" fill="none" stroke="#222" stroke-width="0.7"/>
<circle cx="752.2" cy="140.5" r="1.5" fill="none" stroke="#222" stroke-width="0.7"/>
<circle cx="754.6" cy="137.4" r="1.5" fill="none" stroke="#222" stroke-width="0.7"/>
<circle cx="757.3" cy="160.0" r="1.5" fill="none" stroke="#222" stroke-width="0.7"/>
<circle cx="759.5" cy="173.5" r="1.5" fill="none" stroke="#222" stroke-width="0.7"/>
<circle cx="760.1" cy="150.3" r="1.5" fill="none" stroke="#222" stroke-width="0.7"/>
<circle cx="761.9" cy="140.7" r="1.5" fill="none" stroke="#222" stroke-width="0.7"/>
<circle cx="761.9" cy="160.0" r="1.5" fill="none" stroke="#222" stroke-width="0.7"/>
<circle cx="762.5" cy="140.7" r="1.5" fill="none" stroke="#222" stroke-width="0.7"/>
<circle cx="764.7" cy="150.3" r="1.5" fill="none" stroke="#222" stroke-width="0.7"/>
<circle cx="768.3" cy="159.8" r="1.5" fill="none" stroke="#222" stroke-width="0.7"/>
<circle cx="770.5" cy="159.8" r="1.5" fill="none" stroke="#222" stroke-width="0.7"/>
<circle cx="771.1" cy="168.6" r="1.5" fill="none" stroke="#222" stroke-width="0.7"/>
<circle cx="771.6" cy="180.5" r="1.5" fill="none" stroke="#222" stroke-width="0.7"/>
<circle cx="772.4" cy="173.5" r="1.5" fill="none" stroke="#222" stroke-width="0.7"/>
<circle cx="770.5" cy="140.7" r="1.5" fill="none" stroke="#222" stroke-width="0.7"/>
<circle cx="773.8" cy="150.3" r="1.5" fill="none" stroke="#222" stroke-width="0.7"/>
<circle cx="774.4" cy="137.4" r="1.5" fill="none" stroke="#222" stroke-width="0.7"/>
<circle cx="777.5" cy="169.0" r="1.5" fill="none" stroke="#222" stroke-width="0.7"/>
<circle cx="779.3" cy="150.3" r="1.5" fill="none" stroke="#222" stroke-width="0.7"/>
<circle cx="781.2" cy="154.5" r="1.5" fill="none" stroke="#222" stroke-width="0.7"/>
<circle cx="783.4" cy="154.8" r="1.5" fill="none" stroke="#222" stroke-width="0.7"/>
<circle cx="784.3" cy="140.7" r="1.5" fill="none" stroke="#222" stroke-width="0.7"/>
<circle cx="788.0" cy="150.3" r="1.5" fill="none" stroke="#222" stroke-width="0.7"/>
<circle cx="754.6" cy="130.5" r="1.5" fill="none" stroke="#222" stroke-width="0.7"/>
<circle cx="755.9" cy="130.5" r="1.5" fill="none" stroke="#222" stroke-width="0.7"/>
<circle cx="766.1" cy="125.1" r="1.5" fill="none" stroke="#222" stroke-width="0.7"/>
<circle cx="777.1" cy="130.5" r="1.5" fill="none" stroke="#222" stroke-width="0.7"/>
<circle cx="778.4" cy="131.0" r="1.5" fill="none" stroke="#222" stroke-width="0.7"/>
<circle cx="752.7" cy="104.4" r="1.5" fill="none" stroke="#222" stroke-width="0.7"/>
<circle cx="759.5" cy="104.0" r="1.5" fill="none" stroke="#222" stroke-width="0.7"/>
<circle cx="761.7" cy="100.5" r="1.5" fill="none" stroke="#222" stroke-width="0.7"/>
<circle cx="762.2" cy="104.4" r="1.5" fill="none" stroke="#222" stroke-width="0.7"/>
<circle cx="770.4" cy="104.4" r="1.5" fill="none" stroke="#222" stroke-width="0.7"/>
<circle cx="783.9" cy="87.5" r="1.5" fill="none" stroke="#222" stroke-width="0.7"/>
<circle cx="780.8" cy="111.5" r="1.5" fill="none" stroke="#222" stroke-width="0.7"/>
<circle cx="749.4" cy="118.7" r="1.5" fill="none" stroke="#222" stroke-width="0.7"/>
<circle cx="752.7" cy="118.7" r="1.5" fill="none" stroke="#222" stroke-width="0.7"/>
<circle cx="762.2" cy="118.7" r="1.5" fill="none" stroke="#222" stroke-width="0.7"/>
<circle cx="774.8" cy="118.7" r="1.5" fill="none" stroke="#222" stroke-width="0.7"/>
<circle cx="766.2" cy="125.3" r="1.5" fill="none" stroke="#222" stroke-width="0.7"/>
<circle cx="753.5" cy="130.5" r="1.5" fill="none" stroke="#222" stroke-width="0.7"/>
<circle cx="756.5" cy="130.5" r="1.5" fill="none" stroke="#222" stroke-width="0.7"/>
<circle cx="778.2" cy="131.0" r="1.5" fill="none" stroke="#222" stroke-width="0.7"/>
<circle cx="754.2" cy="137.0" r="1.5" fill="none" stroke="#222" stroke-width="0.7"/>
<circle cx="774.5" cy="137.0" r="1.5" fill="none" stroke="#222" stroke-width="0.7"/>
<circle cx="792.2" cy="181.4" r="1.5" fill="none" stroke="#222" stroke-width="0.7"/>
<circle cx="795.5" cy="181.4" r="1.5" fill="none" stroke="#222" stroke-width="0.7"/>
<circle cx="801.0" cy="177.2" r="1.5" fill="none" stroke="#222" stroke-width="0.7"/>
<circle cx="808.3" cy="191.5" r="1.5" fill="none" stroke="#222" stroke-width="0.7"/>
<circle cx="809.6" cy="191.5" r="1.5" fill="none" stroke="#222" stroke-width="0.7"/>
<circle cx="810.1" cy="181.4" r="1.5" fill="none" stroke="#222" stroke-width="0.7"/>
<circle cx="816.0" cy="186.9" r="1.5" fill="none" stroke="#222" stroke-width="0.7"/>
<circle cx="820.6" cy="186.9" r="1.5" fill="none" stroke="#222" stroke-width="0.7"/>
<circle cx="831.2" cy="181.4" r="1.5" fill="none" stroke="#222" stroke-width="0.7"/>
<circle cx="831.2" cy="186.9" r="1.5" fill="none" stroke="#222" stroke-width="0.7"/>
<circle cx="811.4" cy="181.4" r="1.5" fill="none" stroke="#222" stroke-width="0.7"/>
<text x="697.0" y="68.3" font-size="16" text-anchor="start" fill="#111" textLength="98.5" lengthAdjust="spacingAndGlyphs" ><tspan font-style="italic">P</tspan> = 1.23×10<tspan font-size="9.9" dy="-6.7">-7</tspan></text>
<path d="M723.8,76.7 L723.8,73.25 L768.8,73.25 L768.8,76.7" fill="none" stroke="#222" stroke-width="1.3" />
<text x="742.7" y="47.0" font-size="16" text-anchor="start" fill="#111" textLength="98.5" lengthAdjust="spacingAndGlyphs" ><tspan font-style="italic">P</tspan> = 1.13×10<tspan font-size="9.9" dy="-6.7">-6</tspan></text>
<path d="M768.8,52.7 L768.8,49.5 L814.5,49.5 L814.5,52.7" fill="none" stroke="#222" stroke-width="1.3" />
<defs><radialGradient id="sph" cx="0.58" cy="0.42" r="0.66" fx="0.64" fy="0.36"><stop offset="0" stop-color="#fff6dc"/><stop offset="0.16" stop-color="#ead087"/><stop offset="0.5" stop-color="#c6a75e"/><stop offset="1" stop-color="#85775a"/></radialGradient></defs>
<text x="632.9" y="371.7" font-size="23.5" text-anchor="start" fill="#000" font-weight="bold" >f</text>
<text x="656.1" y="354.4" font-size="16" text-anchor="start" fill="#111" textLength="23.0" lengthAdjust="spacingAndGlyphs" ><tspan font-style="italic">n</tspan> =</text>
<line x1="679.6" y1="361.3" x2="679.6" y2="535.0" stroke="#111" stroke-width="1.3" />
<line x1="679.6" y1="535.0" x2="789.6" y2="535.0" stroke="#111" stroke-width="1.3" />
<rect x="686.6" y="510.8" width="24.8" height="17.0" fill="#c3d6e5" stroke="#1a1a1a" stroke-width="1.3" />
<line x1="698.8" y1="535.0" x2="698.8" y2="538.6" stroke="#111" stroke-width="1.2" />
<text x="698.8" y="354.4" font-size="16" text-anchor="middle" fill="#111" >11</text>
<text x="701.8" y="554.3" font-size="16.5" text-anchor="middle" fill="#111" >NC</text>
<circle cx="692.6" cy="571.5" r="11.9" fill="url(#sph)"/>
<rect x="721.2" y="472.6" width="24.8" height="55.2" fill="#de8667" stroke="#1a1a1a" stroke-width="1.3" />
<line x1="733.8" y1="535.0" x2="733.8" y2="538.6" stroke="#111" stroke-width="1.2" />
<text x="733.8" y="354.4" font-size="16" text-anchor="middle" fill="#111" >46</text>
<text x="736.8" y="554.3" font-size="16.5" text-anchor="middle" fill="#111" >WG</text>
<circle cx="733.5" cy="571.5" r="15.3" fill="url(#sph)"/>
<rect x="756.0" y="501.2" width="24.8" height="26.6" fill="#3a72a4" stroke="#1a1a1a" stroke-width="1.3" />
<line x1="768.6" y1="535.0" x2="768.6" y2="538.6" stroke="#111" stroke-width="1.2" />
<text x="768.6" y="354.4" font-size="16" text-anchor="middle" fill="#111" >10</text>
<text x="771.6" y="554.3" font-size="16.5" text-anchor="middle" fill="#111" >WL</text>
<circle cx="770.1" cy="571.5" r="13.3" fill="url(#sph)"/>
<circle cx="698.2" cy="520.0" r="1.7" fill="none" stroke="#1a1a1a" stroke-width="0.8"/>
<circle cx="693.7" cy="485.3" r="1.7" fill="none" stroke="#1a1a1a" stroke-width="0.8"/>
<circle cx="699.7" cy="516.2" r="1.7" fill="none" stroke="#1a1a1a" stroke-width="0.8"/>
<circle cx="700.3" cy="516.1" r="1.7" fill="none" stroke="#1a1a1a" stroke-width="0.8"/>
<circle cx="689.1" cy="503.1" r="1.7" fill="none" stroke="#1a1a1a" stroke-width="0.8"/>
<circle cx="693.1" cy="511.5" r="1.7" fill="none" stroke="#1a1a1a" stroke-width="0.8"/>
<circle cx="694.4" cy="498.1" r="1.7" fill="none" stroke="#1a1a1a" stroke-width="0.8"/>
<circle cx="707.1" cy="508.5" r="1.7" fill="none" stroke="#1a1a1a" stroke-width="0.8"/>
<circle cx="704.1" cy="495.1" r="1.7" fill="none" stroke="#1a1a1a" stroke-width="0.8"/>
<circle cx="692.0" cy="513.1" r="1.7" fill="none" stroke="#1a1a1a" stroke-width="0.8"/>
<circle cx="704.7" cy="506.2" r="1.7" fill="none" stroke="#1a1a1a" stroke-width="0.8"/>
<circle cx="742.9" cy="505.4" r="1.7" fill="none" stroke="#1a1a1a" stroke-width="0.8"/>
<circle cx="727.7" cy="431.7" r="1.7" fill="none" stroke="#1a1a1a" stroke-width="0.8"/>
<circle cx="738.9" cy="477.3" r="1.7" fill="none" stroke="#1a1a1a" stroke-width="0.8"/>
<circle cx="742.4" cy="456.0" r="1.7" fill="none" stroke="#1a1a1a" stroke-width="0.8"/>
<circle cx="742.6" cy="452.9" r="1.7" fill="none" stroke="#1a1a1a" stroke-width="0.8"/>
<circle cx="730.7" cy="471.8" r="1.7" fill="none" stroke="#1a1a1a" stroke-width="0.8"/>
<circle cx="730.9" cy="471.8" r="1.7" fill="none" stroke="#1a1a1a" stroke-width="0.8"/>
<circle cx="734.3" cy="463.8" r="1.7" fill="none" stroke="#1a1a1a" stroke-width="0.8"/>
<circle cx="739.3" cy="480.7" r="1.7" fill="none" stroke="#1a1a1a" stroke-width="0.8"/>
<circle cx="726.0" cy="461.2" r="1.7" fill="none" stroke="#1a1a1a" stroke-width="0.8"/>
<circle cx="738.8" cy="461.9" r="1.7" fill="none" stroke="#1a1a1a" stroke-width="0.8"/>
<circle cx="739.7" cy="482.4" r="1.7" fill="none" stroke="#1a1a1a" stroke-width="0.8"/>
<circle cx="741.0" cy="450.1" r="1.7" fill="none" stroke="#1a1a1a" stroke-width="0.8"/>
<circle cx="724.5" cy="477.5" r="1.7" fill="none" stroke="#1a1a1a" stroke-width="0.8"/>
<circle cx="742.7" cy="477.5" r="1.7" fill="none" stroke="#1a1a1a" stroke-width="0.8"/>
<circle cx="725.6" cy="482.6" r="1.7" fill="none" stroke="#1a1a1a" stroke-width="0.8"/>
<circle cx="730.6" cy="446.1" r="1.7" fill="none" stroke="#1a1a1a" stroke-width="0.8"/>
<circle cx="736.0" cy="481.7" r="1.7" fill="none" stroke="#1a1a1a" stroke-width="0.8"/>
<circle cx="742.2" cy="434.1" r="1.7" fill="none" stroke="#1a1a1a" stroke-width="0.8"/>
<circle cx="730.6" cy="479.8" r="1.7" fill="none" stroke="#1a1a1a" stroke-width="0.8"/>
<circle cx="742.3" cy="477.3" r="1.7" fill="none" stroke="#1a1a1a" stroke-width="0.8"/>
<circle cx="734.7" cy="455.8" r="1.7" fill="none" stroke="#1a1a1a" stroke-width="0.8"/>
<circle cx="730.0" cy="467.3" r="1.7" fill="none" stroke="#1a1a1a" stroke-width="0.8"/>
<circle cx="730.1" cy="463.6" r="1.7" fill="none" stroke="#1a1a1a" stroke-width="0.8"/>
<circle cx="727.3" cy="458.2" r="1.7" fill="none" stroke="#1a1a1a" stroke-width="0.8"/>
<circle cx="725.4" cy="466.3" r="1.7" fill="none" stroke="#1a1a1a" stroke-width="0.8"/>
<circle cx="726.8" cy="473.7" r="1.7" fill="none" stroke="#1a1a1a" stroke-width="0.8"/>
<circle cx="737.6" cy="473.4" r="1.7" fill="none" stroke="#1a1a1a" stroke-width="0.8"/>
<circle cx="743.7" cy="479.1" r="1.7" fill="none" stroke="#1a1a1a" stroke-width="0.8"/>
<circle cx="727.0" cy="486.0" r="1.7" fill="none" stroke="#1a1a1a" stroke-width="0.8"/>
<circle cx="724.8" cy="483.8" r="1.7" fill="none" stroke="#1a1a1a" stroke-width="0.8"/>
<circle cx="743.5" cy="440.7" r="1.7" fill="none" stroke="#1a1a1a" stroke-width="0.8"/>
<circle cx="734.5" cy="486.8" r="1.7" fill="none" stroke="#1a1a1a" stroke-width="0.8"/>
<circle cx="731.9" cy="470.6" r="1.7" fill="none" stroke="#1a1a1a" stroke-width="0.8"/>
<circle cx="728.5" cy="498.1" r="1.7" fill="none" stroke="#1a1a1a" stroke-width="0.8"/>
<circle cx="735.7" cy="469.2" r="1.7" fill="none" stroke="#1a1a1a" stroke-width="0.8"/>
<circle cx="740.3" cy="454.9" r="1.7" fill="none" stroke="#1a1a1a" stroke-width="0.8"/>
<circle cx="732.9" cy="442.0" r="1.7" fill="none" stroke="#1a1a1a" stroke-width="0.8"/>
<circle cx="732.2" cy="468.2" r="1.7" fill="none" stroke="#1a1a1a" stroke-width="0.8"/>
<circle cx="724.9" cy="470.6" r="1.7" fill="none" stroke="#1a1a1a" stroke-width="0.8"/>
<circle cx="742.1" cy="475.2" r="1.7" fill="none" stroke="#1a1a1a" stroke-width="0.8"/>
<circle cx="724.5" cy="468.4" r="1.7" fill="none" stroke="#1a1a1a" stroke-width="0.8"/>
<circle cx="733.7" cy="487.8" r="1.7" fill="none" stroke="#1a1a1a" stroke-width="0.8"/>
<circle cx="740.6" cy="474.5" r="1.7" fill="none" stroke="#1a1a1a" stroke-width="0.8"/>
<circle cx="726.4" cy="473.6" r="1.7" fill="none" stroke="#1a1a1a" stroke-width="0.8"/>
<circle cx="738.4" cy="461.4" r="1.7" fill="none" stroke="#1a1a1a" stroke-width="0.8"/>
<circle cx="767.7" cy="515.5" r="1.7" fill="none" stroke="#1a1a1a" stroke-width="0.8"/>
<circle cx="778.6" cy="485.3" r="1.7" fill="none" stroke="#1a1a1a" stroke-width="0.8"/>
<circle cx="775.6" cy="499.9" r="1.7" fill="none" stroke="#1a1a1a" stroke-width="0.8"/>
<circle cx="778.1" cy="491.5" r="1.7" fill="none" stroke="#1a1a1a" stroke-width="0.8"/>
<circle cx="767.7" cy="504.3" r="1.7" fill="none" stroke="#1a1a1a" stroke-width="0.8"/>
<circle cx="768.4" cy="500.4" r="1.7" fill="none" stroke="#1a1a1a" stroke-width="0.8"/>
<circle cx="773.2" cy="504.5" r="1.7" fill="none" stroke="#1a1a1a" stroke-width="0.8"/>
<circle cx="768.2" cy="504.9" r="1.7" fill="none" stroke="#1a1a1a" stroke-width="0.8"/>
<circle cx="764.4" cy="499.6" r="1.7" fill="none" stroke="#1a1a1a" stroke-width="0.8"/>
<circle cx="766.7" cy="497.8" r="1.7" fill="none" stroke="#1a1a1a" stroke-width="0.8"/>
<line x1="698.8" y1="510.8" x2="698.8" y2="507.7" stroke="#111" stroke-width="1.3" />
<line x1="695.6" y1="507.7" x2="702.0" y2="507.7" stroke="#111" stroke-width="1.3" />
<line x1="733.8" y1="472.6" x2="733.8" y2="469.9" stroke="#111" stroke-width="1.3" />
<line x1="730.6" y1="469.9" x2="737.0" y2="469.9" stroke="#111" stroke-width="1.3" />
<line x1="768.6" y1="501.2" x2="768.6" y2="498.5" stroke="#111" stroke-width="1.3" />
<line x1="765.4" y1="498.5" x2="771.8" y2="498.5" stroke="#111" stroke-width="1.3" />
<text x="702.7" y="372.4" font-size="16" text-anchor="start" fill="#111" ><tspan font-style="italic">P</tspan> = 4.8×10<tspan font-size="9.9" dy="-6.7">−7</tspan></text>
<path d="M733.3,378.7 L733.3,375.3 L769.8,375.3 L769.8,378.7" fill="none" stroke="#222" stroke-width="1.3" />
<text x="684.0" y="392.7" font-size="16" text-anchor="start" fill="#111" ><tspan font-style="italic">P</tspan> = 4.8×10<tspan font-size="9.9" dy="-6.7">−9</tspan></text>
<path d="M700.3,398.3 L700.3,394.7 L733.3,394.7 L733.3,398.3" fill="none" stroke="#222" stroke-width="1.3" />
<path d="M689.6,588.1 L689.6,593.2 L731.2,593.2 L731.2,588.1" fill="none" stroke="#444" stroke-width="1.3" />
<path d="M737.2,588.1 L737.2,593.2 L774.2,593.2 L774.2,588.1" fill="none" stroke="#444" stroke-width="1.3" />
<text x="713.6" y="611.0" font-size="16.5" text-anchor="middle" fill="#111" >3.62</text>
<text x="755.6" y="611.0" font-size="16.5" text-anchor="middle" fill="#111" >0.48</text>
<text x="732.3" y="625.5" font-size="16.5" text-anchor="middle" fill="#111" >GOM</text>
<line x1="794.6" y1="361.3" x2="794.6" y2="535.0" stroke="#111" stroke-width="1.3" />
<line x1="794.6" y1="535.0" x2="904.6" y2="535.0" stroke="#111" stroke-width="1.3" />
<rect x="801.6" y="513.7" width="24.8" height="14.1" fill="#c3d6e5" stroke="#1a1a1a" stroke-width="1.3" />
<line x1="813.8" y1="535.0" x2="813.8" y2="538.6" stroke="#111" stroke-width="1.2" />
<text x="813.8" y="354.4" font-size="16" text-anchor="middle" fill="#111" >12</text>
<text x="816.8" y="554.3" font-size="16.5" text-anchor="middle" fill="#111" >NC</text>
<circle cx="806.0" cy="571.5" r="11.0" fill="url(#sph)"/>
<rect x="836.2" y="482.7" width="24.8" height="45.1" fill="#de8667" stroke="#1a1a1a" stroke-width="1.3" />
<line x1="848.8" y1="535.0" x2="848.8" y2="538.6" stroke="#111" stroke-width="1.2" />
<text x="848.8" y="354.4" font-size="16" text-anchor="middle" fill="#111" >37</text>
<text x="851.8" y="554.3" font-size="16.5" text-anchor="middle" fill="#111" >WG</text>
<circle cx="849.3" cy="571.5" r="14.6" fill="url(#sph)"/>
<rect x="871.0" y="502.5" width="24.8" height="25.3" fill="#3a72a4" stroke="#1a1a1a" stroke-width="1.3" />
<line x1="883.6" y1="535.0" x2="883.6" y2="538.6" stroke="#111" stroke-width="1.2" />
<text x="883.6" y="354.4" font-size="16" text-anchor="middle" fill="#111" >10</text>
<text x="886.6" y="554.3" font-size="16.5" text-anchor="middle" fill="#111" >WL</text>
<circle cx="888.0" cy="571.5" r="13.3" fill="url(#sph)"/>
<circle cx="821.1" cy="525.1" r="1.7" fill="none" stroke="#1a1a1a" stroke-width="0.8"/>
<circle cx="811.0" cy="504.3" r="1.7" fill="none" stroke="#1a1a1a" stroke-width="0.8"/>
<circle cx="819.5" cy="517.7" r="1.7" fill="none" stroke="#1a1a1a" stroke-width="0.8"/>
<circle cx="819.3" cy="511.2" r="1.7" fill="none" stroke="#1a1a1a" stroke-width="0.8"/>
<circle cx="817.7" cy="510.4" r="1.7" fill="none" stroke="#1a1a1a" stroke-width="0.8"/>
<circle cx="817.1" cy="514.8" r="1.7" fill="none" stroke="#1a1a1a" stroke-width="0.8"/>
<circle cx="819.0" cy="518.4" r="1.7" fill="none" stroke="#1a1a1a" stroke-width="0.8"/>
<circle cx="811.1" cy="518.5" r="1.7" fill="none" stroke="#1a1a1a" stroke-width="0.8"/>
<circle cx="817.9" cy="515.0" r="1.7" fill="none" stroke="#1a1a1a" stroke-width="0.8"/>
<circle cx="809.4" cy="512.2" r="1.7" fill="none" stroke="#1a1a1a" stroke-width="0.8"/>
<circle cx="813.5" cy="515.1" r="1.7" fill="none" stroke="#1a1a1a" stroke-width="0.8"/>
<circle cx="819.2" cy="506.3" r="1.7" fill="none" stroke="#1a1a1a" stroke-width="0.8"/>
<circle cx="854.3" cy="508.8" r="1.7" fill="none" stroke="#1a1a1a" stroke-width="0.8"/>
<circle cx="851.5" cy="445.1" r="1.7" fill="none" stroke="#1a1a1a" stroke-width="0.8"/>
<circle cx="853.2" cy="486.6" r="1.7" fill="none" stroke="#1a1a1a" stroke-width="0.8"/>
<circle cx="839.4" cy="492.8" r="1.7" fill="none" stroke="#1a1a1a" stroke-width="0.8"/>
<circle cx="842.0" cy="459.4" r="1.7" fill="none" stroke="#1a1a1a" stroke-width="0.8"/>
<circle cx="847.6" cy="489.0" r="1.7" fill="none" stroke="#1a1a1a" stroke-width="0.8"/>
<circle cx="851.8" cy="484.4" r="1.7" fill="none" stroke="#1a1a1a" stroke-width="0.8"/>
<circle cx="843.2" cy="483.6" r="1.7" fill="none" stroke="#1a1a1a" stroke-width="0.8"/>
<circle cx="852.5" cy="492.2" r="1.7" fill="none" stroke="#1a1a1a" stroke-width="0.8"/>
<circle cx="851.4" cy="485.5" r="1.7" fill="none" stroke="#1a1a1a" stroke-width="0.8"/>
<circle cx="839.6" cy="489.5" r="1.7" fill="none" stroke="#1a1a1a" stroke-width="0.8"/>
<circle cx="848.2" cy="495.5" r="1.7" fill="none" stroke="#1a1a1a" stroke-width="0.8"/>
<circle cx="843.3" cy="472.6" r="1.7" fill="none" stroke="#1a1a1a" stroke-width="0.8"/>
<circle cx="839.9" cy="499.9" r="1.7" fill="none" stroke="#1a1a1a" stroke-width="0.8"/>
<circle cx="841.5" cy="478.0" r="1.7" fill="none" stroke="#1a1a1a" stroke-width="0.8"/>
<circle cx="845.1" cy="494.2" r="1.7" fill="none" stroke="#1a1a1a" stroke-width="0.8"/>
<circle cx="842.4" cy="495.9" r="1.7" fill="none" stroke="#1a1a1a" stroke-width="0.8"/>
<circle cx="842.7" cy="499.5" r="1.7" fill="none" stroke="#1a1a1a" stroke-width="0.8"/>
<circle cx="839.5" cy="475.2" r="1.7" fill="none" stroke="#1a1a1a" stroke-width="0.8"/>
<circle cx="848.1" cy="493.4" r="1.7" fill="none" stroke="#1a1a1a" stroke-width="0.8"/>
<circle cx="846.4" cy="463.7" r="1.7" fill="none" stroke="#1a1a1a" stroke-width="0.8"/>
<circle cx="851.0" cy="504.7" r="1.7" fill="none" stroke="#1a1a1a" stroke-width="0.8"/>
<circle cx="850.6" cy="496.2" r="1.7" fill="none" stroke="#1a1a1a" stroke-width="0.8"/>
<circle cx="843.6" cy="462.8" r="1.7" fill="none" stroke="#1a1a1a" stroke-width="0.8"/>
<circle cx="856.9" cy="486.9" r="1.7" fill="none" stroke="#1a1a1a" stroke-width="0.8"/>
<circle cx="838.8" cy="490.4" r="1.7" fill="none" stroke="#1a1a1a" stroke-width="0.8"/>
<circle cx="846.9" cy="484.1" r="1.7" fill="none" stroke="#1a1a1a" stroke-width="0.8"/>
<circle cx="844.4" cy="461.9" r="1.7" fill="none" stroke="#1a1a1a" stroke-width="0.8"/>
<circle cx="847.0" cy="502.5" r="1.7" fill="none" stroke="#1a1a1a" stroke-width="0.8"/>
<circle cx="841.1" cy="478.9" r="1.7" fill="none" stroke="#1a1a1a" stroke-width="0.8"/>
<circle cx="855.4" cy="486.7" r="1.7" fill="none" stroke="#1a1a1a" stroke-width="0.8"/>
<circle cx="846.3" cy="503.4" r="1.7" fill="none" stroke="#1a1a1a" stroke-width="0.8"/>
<circle cx="839.5" cy="468.6" r="1.7" fill="none" stroke="#1a1a1a" stroke-width="0.8"/>
<circle cx="851.1" cy="456.4" r="1.7" fill="none" stroke="#1a1a1a" stroke-width="0.8"/>
<circle cx="840.7" cy="499.6" r="1.7" fill="none" stroke="#1a1a1a" stroke-width="0.8"/>
<circle cx="849.7" cy="492.1" r="1.7" fill="none" stroke="#1a1a1a" stroke-width="0.8"/>
<circle cx="845.6" cy="498.7" r="1.7" fill="none" stroke="#1a1a1a" stroke-width="0.8"/>
<circle cx="885.5" cy="515.5" r="1.7" fill="none" stroke="#1a1a1a" stroke-width="0.8"/>
<circle cx="884.9" cy="465.2" r="1.7" fill="none" stroke="#1a1a1a" stroke-width="0.8"/>
<circle cx="892.7" cy="491.2" r="1.7" fill="none" stroke="#1a1a1a" stroke-width="0.8"/>
<circle cx="893.0" cy="510.5" r="1.7" fill="none" stroke="#1a1a1a" stroke-width="0.8"/>
<circle cx="885.8" cy="495.2" r="1.7" fill="none" stroke="#1a1a1a" stroke-width="0.8"/>
<circle cx="880.6" cy="508.7" r="1.7" fill="none" stroke="#1a1a1a" stroke-width="0.8"/>
<circle cx="891.5" cy="493.2" r="1.7" fill="none" stroke="#1a1a1a" stroke-width="0.8"/>
<circle cx="873.6" cy="511.1" r="1.7" fill="none" stroke="#1a1a1a" stroke-width="0.8"/>
<circle cx="875.8" cy="505.0" r="1.7" fill="none" stroke="#1a1a1a" stroke-width="0.8"/>
<circle cx="884.9" cy="495.7" r="1.7" fill="none" stroke="#1a1a1a" stroke-width="0.8"/>
<line x1="813.8" y1="513.7" x2="813.8" y2="511.5" stroke="#111" stroke-width="1.3" />
<line x1="810.6" y1="511.5" x2="817.0" y2="511.5" stroke="#111" stroke-width="1.3" />
<line x1="848.8" y1="482.7" x2="848.8" y2="480.0" stroke="#111" stroke-width="1.3" />
<line x1="845.6" y1="480.0" x2="852.0" y2="480.0" stroke="#111" stroke-width="1.3" />
<line x1="883.6" y1="502.5" x2="883.6" y2="498.1" stroke="#111" stroke-width="1.3" />
<line x1="880.4" y1="498.1" x2="886.8" y2="498.1" stroke="#111" stroke-width="1.3" />
<text x="817.7" y="372.4" font-size="16" text-anchor="start" fill="#111" ><tspan font-style="italic">P</tspan> = 1.1×10<tspan font-size="9.9" dy="-6.7">−4</tspan></text>
<path d="M848.3,378.7 L848.3,375.3 L884.8,375.3 L884.8,378.7" fill="none" stroke="#222" stroke-width="1.3" />
<text x="799.0" y="392.7" font-size="16" text-anchor="start" fill="#111" ><tspan font-style="italic">P</tspan> = 1.1×10<tspan font-size="9.9" dy="-6.7">−9</tspan></text>
<path d="M815.3,398.3 L815.3,394.7 L848.3,394.7 L848.3,398.3" fill="none" stroke="#222" stroke-width="1.3" />
<path d="M804.6,588.1 L804.6,593.2 L846.2,593.2 L846.2,588.1" fill="none" stroke="#444" stroke-width="1.3" />
<path d="M852.2,588.1 L852.2,593.2 L889.2,593.2 L889.2,588.1" fill="none" stroke="#444" stroke-width="1.3" />
<text x="828.6" y="611.0" font-size="16.5" text-anchor="middle" fill="#111" >3.55</text>
<text x="870.6" y="611.0" font-size="16.5" text-anchor="middle" fill="#111" >0.52</text>
<text x="847.3" y="625.5" font-size="16.5" text-anchor="middle" fill="#111" >MAD</text>
<line x1="910.5" y1="361.3" x2="910.5" y2="535.0" stroke="#111" stroke-width="1.3" />
<line x1="910.5" y1="535.0" x2="1020.5" y2="535.0" stroke="#111" stroke-width="1.3" />
<rect x="917.5" y="509.0" width="24.8" height="18.8" fill="#c3d6e5" stroke="#1a1a1a" stroke-width="1.3" />
<line x1="929.7" y1="535.0" x2="929.7" y2="538.6" stroke="#111" stroke-width="1.2" />
<text x="929.7" y="354.4" font-size="16" text-anchor="middle" fill="#111" >12</text>
<text x="932.7" y="554.3" font-size="16.5" text-anchor="middle" fill="#111" >NC</text>
<circle cx="924.2" cy="571.5" r="12.3" fill="url(#sph)"/>
<rect x="952.1" y="454.0" width="24.8" height="73.8" fill="#de8667" stroke="#1a1a1a" stroke-width="1.3" />
<line x1="964.7" y1="535.0" x2="964.7" y2="538.6" stroke="#111" stroke-width="1.2" />
<text x="964.7" y="354.4" font-size="16" text-anchor="middle" fill="#111" >40</text>
<text x="967.7" y="554.3" font-size="16.5" text-anchor="middle" fill="#111" >WG</text>
<circle cx="964.9" cy="571.5" r="16.0" fill="url(#sph)"/>
<rect x="986.9" y="492.0" width="24.8" height="35.8" fill="#3a72a4" stroke="#1a1a1a" stroke-width="1.3" />
<line x1="999.5" y1="535.0" x2="999.5" y2="538.6" stroke="#111" stroke-width="1.2" />
<text x="999.5" y="354.4" font-size="16" text-anchor="middle" fill="#111" >10</text>
<text x="1002.5" y="554.3" font-size="16.5" text-anchor="middle" fill="#111" >WL</text>
<circle cx="1004.5" cy="571.5" r="14.2" fill="url(#sph)"/>
<circle cx="938.9" cy="520.0" r="1.7" fill="none" stroke="#1a1a1a" stroke-width="0.8"/>
<circle cx="938.0" cy="483.1" r="1.7" fill="none" stroke="#1a1a1a" stroke-width="0.8"/>
<circle cx="931.6" cy="511.3" r="1.7" fill="none" stroke="#1a1a1a" stroke-width="0.8"/>
<circle cx="924.9" cy="511.0" r="1.7" fill="none" stroke="#1a1a1a" stroke-width="0.8"/>
<circle cx="939.3" cy="517.0" r="1.7" fill="none" stroke="#1a1a1a" stroke-width="0.8"/>
<circle cx="929.6" cy="517.4" r="1.7" fill="none" stroke="#1a1a1a" stroke-width="0.8"/>
<circle cx="928.0" cy="513.2" r="1.7" fill="none" stroke="#1a1a1a" stroke-width="0.8"/>
<circle cx="926.1" cy="500.2" r="1.7" fill="none" stroke="#1a1a1a" stroke-width="0.8"/>
<circle cx="939.4" cy="507.6" r="1.7" fill="none" stroke="#1a1a1a" stroke-width="0.8"/>
<circle cx="929.5" cy="499.4" r="1.7" fill="none" stroke="#1a1a1a" stroke-width="0.8"/>
<circle cx="925.4" cy="497.7" r="1.7" fill="none" stroke="#1a1a1a" stroke-width="0.8"/>
<circle cx="929.2" cy="509.9" r="1.7" fill="none" stroke="#1a1a1a" stroke-width="0.8"/>
<circle cx="963.3" cy="507.7" r="1.7" fill="none" stroke="#1a1a1a" stroke-width="0.8"/>
<circle cx="966.2" cy="398.2" r="1.7" fill="none" stroke="#1a1a1a" stroke-width="0.8"/>
<circle cx="968.9" cy="428.5" r="1.7" fill="none" stroke="#1a1a1a" stroke-width="0.8"/>
<circle cx="967.3" cy="429.5" r="1.7" fill="none" stroke="#1a1a1a" stroke-width="0.8"/>
<circle cx="964.3" cy="475.0" r="1.7" fill="none" stroke="#1a1a1a" stroke-width="0.8"/>
<circle cx="972.9" cy="446.7" r="1.7" fill="none" stroke="#1a1a1a" stroke-width="0.8"/>
<circle cx="962.4" cy="444.6" r="1.7" fill="none" stroke="#1a1a1a" stroke-width="0.8"/>
<circle cx="962.5" cy="503.3" r="1.7" fill="none" stroke="#1a1a1a" stroke-width="0.8"/>
<circle cx="971.7" cy="422.8" r="1.7" fill="none" stroke="#1a1a1a" stroke-width="0.8"/>
<circle cx="958.6" cy="451.4" r="1.7" fill="none" stroke="#1a1a1a" stroke-width="0.8"/>
<circle cx="960.6" cy="463.4" r="1.7" fill="none" stroke="#1a1a1a" stroke-width="0.8"/>
<circle cx="971.3" cy="450.2" r="1.7" fill="none" stroke="#1a1a1a" stroke-width="0.8"/>
<circle cx="956.0" cy="473.8" r="1.7" fill="none" stroke="#1a1a1a" stroke-width="0.8"/>
<circle cx="971.4" cy="455.8" r="1.7" fill="none" stroke="#1a1a1a" stroke-width="0.8"/>
<circle cx="968.6" cy="439.4" r="1.7" fill="none" stroke="#1a1a1a" stroke-width="0.8"/>
<circle cx="963.4" cy="432.9" r="1.7" fill="none" stroke="#1a1a1a" stroke-width="0.8"/>
<circle cx="960.4" cy="455.6" r="1.7" fill="none" stroke="#1a1a1a" stroke-width="0.8"/>
<circle cx="970.3" cy="477.7" r="1.7" fill="none" stroke="#1a1a1a" stroke-width="0.8"/>
<circle cx="972.9" cy="473.2" r="1.7" fill="none" stroke="#1a1a1a" stroke-width="0.8"/>
<circle cx="957.6" cy="476.4" r="1.7" fill="none" stroke="#1a1a1a" stroke-width="0.8"/>
<circle cx="964.3" cy="482.9" r="1.7" fill="none" stroke="#1a1a1a" stroke-width="0.8"/>
<circle cx="965.7" cy="454.6" r="1.7" fill="none" stroke="#1a1a1a" stroke-width="0.8"/>
<circle cx="964.7" cy="467.5" r="1.7" fill="none" stroke="#1a1a1a" stroke-width="0.8"/>
<circle cx="961.3" cy="452.6" r="1.7" fill="none" stroke="#1a1a1a" stroke-width="0.8"/>
<circle cx="957.8" cy="476.7" r="1.7" fill="none" stroke="#1a1a1a" stroke-width="0.8"/>
<circle cx="966.4" cy="477.8" r="1.7" fill="none" stroke="#1a1a1a" stroke-width="0.8"/>
<circle cx="970.9" cy="459.1" r="1.7" fill="none" stroke="#1a1a1a" stroke-width="0.8"/>
<circle cx="956.1" cy="463.6" r="1.7" fill="none" stroke="#1a1a1a" stroke-width="0.8"/>
<circle cx="959.3" cy="424.2" r="1.7" fill="none" stroke="#1a1a1a" stroke-width="0.8"/>
<circle cx="971.1" cy="478.8" r="1.7" fill="none" stroke="#1a1a1a" stroke-width="0.8"/>
<circle cx="970.5" cy="448.7" r="1.7" fill="none" stroke="#1a1a1a" stroke-width="0.8"/>
<circle cx="968.0" cy="455.2" r="1.7" fill="none" stroke="#1a1a1a" stroke-width="0.8"/>
<circle cx="955.2" cy="489.9" r="1.7" fill="none" stroke="#1a1a1a" stroke-width="0.8"/>
<circle cx="969.2" cy="435.2" r="1.7" fill="none" stroke="#1a1a1a" stroke-width="0.8"/>
<circle cx="974.3" cy="449.6" r="1.7" fill="none" stroke="#1a1a1a" stroke-width="0.8"/>
<circle cx="974.7" cy="438.5" r="1.7" fill="none" stroke="#1a1a1a" stroke-width="0.8"/>
<circle cx="968.7" cy="429.7" r="1.7" fill="none" stroke="#1a1a1a" stroke-width="0.8"/>
<circle cx="955.7" cy="475.9" r="1.7" fill="none" stroke="#1a1a1a" stroke-width="0.8"/>
<circle cx="971.5" cy="410.1" r="1.7" fill="none" stroke="#1a1a1a" stroke-width="0.8"/>
<circle cx="959.1" cy="450.0" r="1.7" fill="none" stroke="#1a1a1a" stroke-width="0.8"/>
<circle cx="997.8" cy="516.6" r="1.7" fill="none" stroke="#1a1a1a" stroke-width="0.8"/>
<circle cx="992.7" cy="480.9" r="1.7" fill="none" stroke="#1a1a1a" stroke-width="0.8"/>
<circle cx="1001.9" cy="510.5" r="1.7" fill="none" stroke="#1a1a1a" stroke-width="0.8"/>
<circle cx="990.4" cy="516.1" r="1.7" fill="none" stroke="#1a1a1a" stroke-width="0.8"/>
<circle cx="991.7" cy="493.6" r="1.7" fill="none" stroke="#1a1a1a" stroke-width="0.8"/>
<circle cx="997.1" cy="498.5" r="1.7" fill="none" stroke="#1a1a1a" stroke-width="0.8"/>
<circle cx="990.9" cy="499.3" r="1.7" fill="none" stroke="#1a1a1a" stroke-width="0.8"/>
<circle cx="990.7" cy="481.1" r="1.7" fill="none" stroke="#1a1a1a" stroke-width="0.8"/>
<circle cx="1001.0" cy="487.9" r="1.7" fill="none" stroke="#1a1a1a" stroke-width="0.8"/>
<circle cx="1004.3" cy="486.4" r="1.7" fill="none" stroke="#1a1a1a" stroke-width="0.8"/>
<line x1="929.7" y1="509.0" x2="929.7" y2="505.7" stroke="#111" stroke-width="1.3" />
<line x1="926.5" y1="505.7" x2="932.9" y2="505.7" stroke="#111" stroke-width="1.3" />
<line x1="964.7" y1="454.0" x2="964.7" y2="449.6" stroke="#111" stroke-width="1.3" />
<line x1="961.5" y1="449.6" x2="967.9" y2="449.6" stroke="#111" stroke-width="1.3" />
<line x1="999.5" y1="492.0" x2="999.5" y2="486.5" stroke="#111" stroke-width="1.3" />
<line x1="996.3" y1="486.5" x2="1002.7" y2="486.5" stroke="#111" stroke-width="1.3" />
<text x="933.6" y="372.4" font-size="16" text-anchor="start" fill="#111" ><tspan font-style="italic">P</tspan> = 1.1×10<tspan font-size="9.9" dy="-6.7">−6</tspan></text>
<path d="M964.2,378.7 L964.2,375.3 L1000.7,375.3 L1000.7,378.7" fill="none" stroke="#222" stroke-width="1.3" />
<text x="914.9" y="392.7" font-size="16" text-anchor="start" fill="#111" ><tspan font-style="italic">P</tspan> = 2.2×10<tspan font-size="9.9" dy="-6.7">−10</tspan></text>
<path d="M931.2,398.3 L931.2,394.7 L964.2,394.7 L964.2,398.3" fill="none" stroke="#222" stroke-width="1.3" />
<path d="M920.5,588.1 L920.5,593.2 L962.1,593.2 L962.1,588.1" fill="none" stroke="#444" stroke-width="1.3" />
<path d="M968.1,588.1 L968.1,593.2 L1005.1,593.2 L1005.1,588.1" fill="none" stroke="#444" stroke-width="1.3" />
<text x="944.5" y="611.0" font-size="16.5" text-anchor="middle" fill="#111" >3.83</text>
<text x="986.5" y="611.0" font-size="16.5" text-anchor="middle" fill="#111" >0.49</text>
<text x="963.2" y="625.5" font-size="16.5" text-anchor="middle" fill="#111" >RAD</text>
<line x1="1025.6" y1="361.3" x2="1025.6" y2="535.0" stroke="#111" stroke-width="1.3" />
<line x1="1025.6" y1="535.0" x2="1135.6" y2="535.0" stroke="#111" stroke-width="1.3" />
<rect x="1032.6" y="512.2" width="24.8" height="15.6" fill="#c3d6e5" stroke="#1a1a1a" stroke-width="1.3" />
<line x1="1044.8" y1="535.0" x2="1044.8" y2="538.6" stroke="#111" stroke-width="1.2" />
<text x="1044.8" y="354.4" font-size="16" text-anchor="middle" fill="#111" >12</text>
<text x="1047.8" y="554.3" font-size="16.5" text-anchor="middle" fill="#111" >NC</text>
<circle cx="1040.0" cy="571.5" r="12.0" fill="url(#sph)"/>
<rect x="1067.2" y="489.4" width="24.8" height="38.4" fill="#de8667" stroke="#1a1a1a" stroke-width="1.3" />
<line x1="1079.8" y1="535.0" x2="1079.8" y2="538.6" stroke="#111" stroke-width="1.2" />
<text x="1079.8" y="354.4" font-size="16" text-anchor="middle" fill="#111" >39</text>
<text x="1082.8" y="554.3" font-size="16.5" text-anchor="middle" fill="#111" >WG</text>
<circle cx="1080.2" cy="571.5" r="14.5" fill="url(#sph)"/>
<rect x="1102.0" y="501.7" width="24.8" height="26.1" fill="#3a72a4" stroke="#1a1a1a" stroke-width="1.3" />
<line x1="1114.6" y1="535.0" x2="1114.6" y2="538.6" stroke="#111" stroke-width="1.2" />
<text x="1114.6" y="354.4" font-size="16" text-anchor="middle" fill="#111" >10</text>
<text x="1117.6" y="554.3" font-size="16.5" text-anchor="middle" fill="#111" >WL</text>
<circle cx="1120.0" cy="571.5" r="13.3" fill="url(#sph)"/>
<circle cx="1037.8" cy="521.1" r="1.7" fill="none" stroke="#1a1a1a" stroke-width="0.8"/>
<circle cx="1047.4" cy="498.7" r="1.7" fill="none" stroke="#1a1a1a" stroke-width="0.8"/>
<circle cx="1044.9" cy="509.8" r="1.7" fill="none" stroke="#1a1a1a" stroke-width="0.8"/>
<circle cx="1053.0" cy="513.8" r="1.7" fill="none" stroke="#1a1a1a" stroke-width="0.8"/>
<circle cx="1045.9" cy="515.7" r="1.7" fill="none" stroke="#1a1a1a" stroke-width="0.8"/>
<circle cx="1047.2" cy="509.9" r="1.7" fill="none" stroke="#1a1a1a" stroke-width="0.8"/>
<circle cx="1040.1" cy="516.3" r="1.7" fill="none" stroke="#1a1a1a" stroke-width="0.8"/>
<circle cx="1045.8" cy="515.2" r="1.7" fill="none" stroke="#1a1a1a" stroke-width="0.8"/>
<circle cx="1039.9" cy="506.7" r="1.7" fill="none" stroke="#1a1a1a" stroke-width="0.8"/>
<circle cx="1049.8" cy="513.8" r="1.7" fill="none" stroke="#1a1a1a" stroke-width="0.8"/>
<circle cx="1045.1" cy="503.3" r="1.7" fill="none" stroke="#1a1a1a" stroke-width="0.8"/>
<circle cx="1037.5" cy="508.9" r="1.7" fill="none" stroke="#1a1a1a" stroke-width="0.8"/>
<circle cx="1085.9" cy="501.0" r="1.7" fill="none" stroke="#1a1a1a" stroke-width="0.8"/>
<circle cx="1078.5" cy="465.2" r="1.7" fill="none" stroke="#1a1a1a" stroke-width="0.8"/>
<circle cx="1086.8" cy="488.3" r="1.7" fill="none" stroke="#1a1a1a" stroke-width="0.8"/>
<circle cx="1080.1" cy="478.8" r="1.7" fill="none" stroke="#1a1a1a" stroke-width="0.8"/>
<circle cx="1081.7" cy="489.7" r="1.7" fill="none" stroke="#1a1a1a" stroke-width="0.8"/>
<circle cx="1081.3" cy="493.0" r="1.7" fill="none" stroke="#1a1a1a" stroke-width="0.8"/>
<circle cx="1084.6" cy="491.3" r="1.7" fill="none" stroke="#1a1a1a" stroke-width="0.8"/>
<circle cx="1077.7" cy="497.6" r="1.7" fill="none" stroke="#1a1a1a" stroke-width="0.8"/>
<circle cx="1071.7" cy="475.3" r="1.7" fill="none" stroke="#1a1a1a" stroke-width="0.8"/>
<circle cx="1070.5" cy="481.0" r="1.7" fill="none" stroke="#1a1a1a" stroke-width="0.8"/>
<circle cx="1073.8" cy="484.6" r="1.7" fill="none" stroke="#1a1a1a" stroke-width="0.8"/>
<circle cx="1070.6" cy="486.3" r="1.7" fill="none" stroke="#1a1a1a" stroke-width="0.8"/>
<circle cx="1087.6" cy="492.9" r="1.7" fill="none" stroke="#1a1a1a" stroke-width="0.8"/>
<circle cx="1079.4" cy="491.7" r="1.7" fill="none" stroke="#1a1a1a" stroke-width="0.8"/>
<circle cx="1085.0" cy="480.4" r="1.7" fill="none" stroke="#1a1a1a" stroke-width="0.8"/>
<circle cx="1069.8" cy="494.0" r="1.7" fill="none" stroke="#1a1a1a" stroke-width="0.8"/>
<circle cx="1079.2" cy="494.0" r="1.7" fill="none" stroke="#1a1a1a" stroke-width="0.8"/>
<circle cx="1087.6" cy="471.8" r="1.7" fill="none" stroke="#1a1a1a" stroke-width="0.8"/>
<circle cx="1082.2" cy="472.0" r="1.7" fill="none" stroke="#1a1a1a" stroke-width="0.8"/>
<circle cx="1078.4" cy="486.1" r="1.7" fill="none" stroke="#1a1a1a" stroke-width="0.8"/>
<circle cx="1079.1" cy="483.4" r="1.7" fill="none" stroke="#1a1a1a" stroke-width="0.8"/>
<circle cx="1071.8" cy="487.3" r="1.7" fill="none" stroke="#1a1a1a" stroke-width="0.8"/>
<circle cx="1072.9" cy="473.5" r="1.7" fill="none" stroke="#1a1a1a" stroke-width="0.8"/>
<circle cx="1073.0" cy="492.0" r="1.7" fill="none" stroke="#1a1a1a" stroke-width="0.8"/>
<circle cx="1077.3" cy="488.4" r="1.7" fill="none" stroke="#1a1a1a" stroke-width="0.8"/>
<circle cx="1077.5" cy="484.0" r="1.7" fill="none" stroke="#1a1a1a" stroke-width="0.8"/>
<circle cx="1087.4" cy="473.4" r="1.7" fill="none" stroke="#1a1a1a" stroke-width="0.8"/>
<circle cx="1072.8" cy="490.8" r="1.7" fill="none" stroke="#1a1a1a" stroke-width="0.8"/>
<circle cx="1074.9" cy="486.8" r="1.7" fill="none" stroke="#1a1a1a" stroke-width="0.8"/>
<circle cx="1075.3" cy="492.2" r="1.7" fill="none" stroke="#1a1a1a" stroke-width="0.8"/>
<circle cx="1073.0" cy="493.2" r="1.7" fill="none" stroke="#1a1a1a" stroke-width="0.8"/>
<circle cx="1075.5" cy="493.2" r="1.7" fill="none" stroke="#1a1a1a" stroke-width="0.8"/>
<circle cx="1074.5" cy="488.4" r="1.7" fill="none" stroke="#1a1a1a" stroke-width="0.8"/>
<circle cx="1079.4" cy="479.5" r="1.7" fill="none" stroke="#1a1a1a" stroke-width="0.8"/>
<circle cx="1070.4" cy="493.4" r="1.7" fill="none" stroke="#1a1a1a" stroke-width="0.8"/>
<circle cx="1088.3" cy="492.9" r="1.7" fill="none" stroke="#1a1a1a" stroke-width="0.8"/>
<circle cx="1077.2" cy="491.7" r="1.7" fill="none" stroke="#1a1a1a" stroke-width="0.8"/>
<circle cx="1088.6" cy="485.4" r="1.7" fill="none" stroke="#1a1a1a" stroke-width="0.8"/>
<circle cx="1083.6" cy="481.6" r="1.7" fill="none" stroke="#1a1a1a" stroke-width="0.8"/>
<circle cx="1107.9" cy="509.9" r="1.7" fill="none" stroke="#1a1a1a" stroke-width="0.8"/>
<circle cx="1108.6" cy="492.0" r="1.7" fill="none" stroke="#1a1a1a" stroke-width="0.8"/>
<circle cx="1105.1" cy="506.9" r="1.7" fill="none" stroke="#1a1a1a" stroke-width="0.8"/>
<circle cx="1109.2" cy="503.8" r="1.7" fill="none" stroke="#1a1a1a" stroke-width="0.8"/>
<circle cx="1106.2" cy="505.8" r="1.7" fill="none" stroke="#1a1a1a" stroke-width="0.8"/>
<circle cx="1112.6" cy="499.6" r="1.7" fill="none" stroke="#1a1a1a" stroke-width="0.8"/>
<circle cx="1124.1" cy="502.3" r="1.7" fill="none" stroke="#1a1a1a" stroke-width="0.8"/>
<circle cx="1111.9" cy="503.3" r="1.7" fill="none" stroke="#1a1a1a" stroke-width="0.8"/>
<circle cx="1110.8" cy="504.6" r="1.7" fill="none" stroke="#1a1a1a" stroke-width="0.8"/>
<circle cx="1114.0" cy="504.7" r="1.7" fill="none" stroke="#1a1a1a" stroke-width="0.8"/>
<line x1="1044.8" y1="512.2" x2="1044.8" y2="510.6" stroke="#111" stroke-width="1.3" />
<line x1="1041.6" y1="510.6" x2="1048.0" y2="510.6" stroke="#111" stroke-width="1.3" />
<line x1="1079.8" y1="489.4" x2="1079.8" y2="487.6" stroke="#111" stroke-width="1.3" />
<line x1="1076.6" y1="487.6" x2="1083.0" y2="487.6" stroke="#111" stroke-width="1.3" />
<line x1="1114.6" y1="501.7" x2="1114.6" y2="499.4" stroke="#111" stroke-width="1.3" />
<line x1="1111.4" y1="499.4" x2="1117.8" y2="499.4" stroke="#111" stroke-width="1.3" />
<text x="1048.7" y="372.4" font-size="16" text-anchor="start" fill="#111" ><tspan font-style="italic">P</tspan> = 2.6×10<tspan font-size="9.9" dy="-6.7">−5</tspan></text>
<path d="M1079.3,378.7 L1079.3,375.3 L1115.8,375.3 L1115.8,378.7" fill="none" stroke="#222" stroke-width="1.3" />
<text x="1030.0" y="392.7" font-size="16" text-anchor="start" fill="#111" ><tspan font-style="italic">P</tspan> = 7.6×10<tspan font-size="9.9" dy="-6.7">−11</tspan></text>
<path d="M1046.3,398.3 L1046.3,394.7 L1079.3,394.7 L1079.3,398.3" fill="none" stroke="#222" stroke-width="1.3" />
<path d="M1035.6,588.1 L1035.6,593.2 L1077.2,593.2 L1077.2,588.1" fill="none" stroke="#444" stroke-width="1.3" />
<path d="M1083.2,588.1 L1083.2,593.2 L1120.2,593.2 L1120.2,588.1" fill="none" stroke="#444" stroke-width="1.3" />
<text x="1059.6" y="611.0" font-size="16.5" text-anchor="middle" fill="#111" >2.41</text>
<text x="1101.6" y="611.0" font-size="16.5" text-anchor="middle" fill="#111" >0.69</text>
<text x="1078.3" y="625.5" font-size="16.5" text-anchor="middle" fill="#111" >ULB</text>
<line x1="676.7" y1="527.8" x2="679.6" y2="527.8" stroke="#111" stroke-width="1.2" />
<text x="672.0" y="533.6" font-size="16.5" text-anchor="end" fill="#111" >0</text>
<line x1="676.7" y1="483.1" x2="679.6" y2="483.1" stroke="#111" stroke-width="1.2" />
<text x="672.0" y="488.9" font-size="16.5" text-anchor="end" fill="#111" >2</text>
<line x1="676.7" y1="438.4" x2="679.6" y2="438.4" stroke="#111" stroke-width="1.2" />
<text x="672.0" y="444.2" font-size="16.5" text-anchor="end" fill="#111" >4</text>
<line x1="676.7" y1="393.7" x2="679.6" y2="393.7" stroke="#111" stroke-width="1.2" />
<text x="672.0" y="399.5" font-size="16.5" text-anchor="end" fill="#111" >6</text>
<text x="658.0" y="462.6" font-size="16.5" text-anchor="middle" fill="#111" transform="rotate(-90 658 462.6)">Cell volume (×10<tspan font-size="10" dy="-6">6</tspan><tspan dy="6"> μm</tspan><tspan font-size="10" dy="-6">3</tspan><tspan dy="6">)</tspan></text>
<text x="646.9" y="592.7" font-size="16.5" text-anchor="start" fill="#111" textLength="30.8" lengthAdjust="spacingAndGlyphs" >Fold</text>
<text x="628.0" y="611.0" font-size="16.5" text-anchor="start" fill="#111" >change =</text>
<circle cx="1165.8" cy="577" r="7" fill="url(#sph)"/>
<text x="1126.4" y="600.5" font-size="16" text-anchor="start" fill="#111" >1×10<tspan font-size="10" dy="-6">5</tspan><tspan dy="6"> μm</tspan><tspan font-size="10" dy="-6">3</tspan></text>
<text x="851.1" y="18.0" font-size="23.5" text-anchor="start" fill="#000" font-weight="bold" >e</text>
<path d="M872.4,238.4 C871.8,237.2 869.2,233.1 869.0,231.0 C868.8,228.9 870.0,227.8 871.0,226.0 C872.0,224.2 874.4,223.0 875.0,220.0 C875.6,217.0 875.7,212.2 874.4,208.0 C873.1,203.8 866.4,198.3 867.2,195.0 C868.0,191.7 877.1,190.5 879.2,188.0 C881.3,185.5 878.5,184.7 880.0,180.0 C881.5,175.3 884.0,165.7 888.0,160.0 C892.0,154.3 898.0,149.8 904.0,146.0 C910.0,142.2 917.3,139.2 924.0,137.0 C930.7,134.8 936.0,132.5 944.0,133.0 C952.0,133.5 962.7,140.2 972.0,140.0 C981.3,139.8 990.3,134.4 1000.0,132.0 C1009.7,129.6 1021.2,126.7 1030.0,125.6 C1038.8,124.5 1047.0,124.9 1053.0,125.6 C1059.0,126.3 1061.8,127.9 1066.0,130.0 C1070.2,132.1 1074.7,134.3 1078.0,138.0 C1081.3,141.7 1084.3,147.0 1086.0,152.0 C1087.7,157.0 1088.0,162.7 1088.0,168.0 C1088.0,173.3 1087.3,179.0 1086.0,184.0 C1084.7,189.0 1082.3,194.3 1080.0,198.0 C1077.7,201.7 1074.0,203.0 1072.0,206.0 C1070.0,209.0 1068.5,210.7 1068.0,216.0 C1067.5,221.3 1069.3,233.5 1069.0,238.0 C1068.7,242.5 1068.8,242.2 1066.0,243.0 C1063.2,243.8 1054.7,243.8 1052.0,243.0 C1049.3,242.2 1049.8,240.5 1050.0,238.0 C1050.2,235.5 1052.7,231.3 1053.0,228.0 C1053.3,224.7 1053.5,219.3 1052.0,218.0 C1050.5,216.7 1046.7,218.3 1044.0,220.0 C1041.3,221.7 1041.3,225.0 1036.0,228.0 C1030.7,231.0 1021.3,235.7 1012.0,238.0 C1002.7,240.3 989.3,242.7 980.0,242.0 C970.7,241.3 961.3,236.3 956.0,234.0 C950.7,231.7 949.7,228.3 948.0,228.0 C946.3,227.7 946.5,230.0 946.0,232.0 C945.5,234.0 946.0,238.1 945.0,240.0 C944.0,241.9 943.9,243.2 940.0,243.2 C936.1,243.2 923.6,241.9 921.6,240.0 C919.6,238.1 927.6,234.3 928.0,232.0 C928.4,229.7 926.0,227.2 924.0,226.0 C922.0,224.8 920.0,224.3 916.0,225.0 C912.0,225.7 904.1,228.2 900.0,230.0 C895.9,231.8 894.6,234.5 891.6,236.0 C888.6,237.5 883.6,238.5 882.0,239.0 Z" fill="#f2e2e0" stroke="#3a3a3a" stroke-width="1.1" />
<path d="M894.0,180.0 C896.7,176.0 904.0,162.0 910.0,156.0 C916.0,150.0 924.0,145.7 930.0,144.0 C936.0,142.3 942.7,140.7 946.0,146.0 C949.3,151.3 951.0,167.7 950.0,176.0 C949.0,184.3 944.0,190.0 940.0,196.0 C936.0,202.0 931.3,209.3 926.0,212.0 C920.7,214.7 913.0,214.0 908.0,212.0 C903.0,210.0 898.0,202.0 896.0,200.0 Z" fill="#f9f0ef" stroke="none" stroke-width="1" opacity="0.8" filter="url(#soft)"/>
<path d="M1052.0,140.0 C1055.3,140.7 1067.0,140.0 1072.0,144.0 C1077.0,148.0 1081.0,156.3 1082.0,164.0 C1083.0,171.7 1081.7,185.0 1078.0,190.0 C1074.3,195.0 1064.7,196.3 1060.0,194.0 C1055.3,191.7 1051.8,183.0 1050.0,176.0 C1048.2,169.0 1049.2,156.0 1049.0,152.0 Z" fill="#f9f0ef" stroke="none" stroke-width="1" opacity="0.7" filter="url(#soft)"/>
<path d="M874.4,208.0 C873.2,205.8 866.4,198.3 867.2,195.0 C868.0,191.7 877.1,190.5 879.2,188.0 C881.3,185.5 878.7,182.0 880.0,180.0 C881.3,178.0 885.0,174.3 887.0,176.0 C889.0,177.7 889.8,184.7 892.0,190.0 C894.2,195.3 897.0,202.4 900.0,208.0 C903.0,213.6 910.7,219.6 910.0,223.4 C909.3,227.2 899.8,229.7 895.8,230.8 C891.8,231.9 889.3,231.4 886.0,230.0 C882.7,228.6 877.7,223.7 876.0,222.4 Z" fill="#454755" stroke="none" stroke-width="1" opacity="0.85" filter="url(#soft)"/>
<path d="M869.0,231.0 C869.3,230.2 869.5,226.5 871.0,226.0 C872.5,225.5 874.6,226.8 878.0,228.0 C881.4,229.2 890.3,231.5 891.6,233.2 C892.9,234.9 889.2,237.1 886.0,238.0 C882.8,238.9 874.7,238.3 872.4,238.4 Z" fill="#e6c7c4" stroke="#555" stroke-width="0.5" />
<path d="M867.2,195.0 C870.6,194.4 884.6,190.4 887.4,191.6 C890.2,192.8 884.6,200.3 884.0,202.0 Z" fill="#34353f" stroke="#222" stroke-width="0.5" />
<path d="M1060.0,128.0 C1062.0,128.7 1068.3,129.5 1072.0,132.0 C1075.7,134.5 1079.2,138.3 1082.0,143.0 C1084.8,147.7 1087.3,154.5 1089.0,160.0 C1090.7,165.5 1091.3,171.3 1092.0,176.0 C1092.7,180.7 1093.3,186.0 1093.0,188.0 C1092.7,190.0 1091.0,190.3 1090.0,188.0 C1089.0,185.7 1088.3,179.0 1087.0,174.0 C1085.7,169.0 1084.0,163.0 1082.0,158.0 C1080.0,153.0 1077.7,147.8 1075.0,144.0 C1072.3,140.2 1067.5,136.5 1066.0,135.0 Z" fill="#3b3d4a" stroke="none" stroke-width="1" />
<path d="M926.0,232.0 C927.0,233.0 929.7,236.7 932.0,238.0 C934.3,239.3 938.7,239.7 940.0,240.0" fill="none" stroke="#777" stroke-width="0.6" />
<path d="M1053.0,228.0 C1054.2,228.7 1057.3,231.3 1060.0,232.0 C1062.7,232.7 1067.5,232.0 1069.0,232.0" fill="none" stroke="#777" stroke-width="0.6" />
<path d="M944.0,133.0 C945.2,134.8 949.3,140.2 951.0,144.0 C952.7,147.8 953.8,150.7 954.0,156.0 C954.2,161.3 954.0,170.0 952.0,176.0 C950.0,182.0 944.5,186.7 942.0,192.0 C939.5,197.3 937.0,203.3 937.0,208.0 C937.0,212.7 938.8,216.7 942.0,220.0 C945.2,223.3 949.7,225.7 956.0,228.0 C962.3,230.3 972.0,232.7 980.0,234.0 C988.0,235.3 996.0,237.0 1004.0,236.0 C1012.0,235.0 1022.0,231.3 1028.0,228.0 C1034.0,224.7 1036.8,220.7 1040.0,216.0 C1043.2,211.3 1045.8,206.0 1047.0,200.0 C1048.2,194.0 1047.2,186.0 1047.0,180.0 C1046.8,174.0 1045.5,169.7 1046.0,164.0 C1046.5,158.3 1048.8,152.4 1050.0,146.0 C1051.2,139.6 1056.3,129.0 1053.0,125.6 C1049.7,122.2 1038.8,124.5 1030.0,125.6 C1021.2,126.7 1009.7,129.6 1000.0,132.0 C990.3,134.4 976.7,138.7 972.0,140.0 Z" fill="#bb3434" stroke="#333" stroke-width="1.0" />
<path d="M944.0,133.0 C948.7,134.2 962.7,140.2 972.0,140.0 C981.3,139.8 990.3,134.4 1000.0,132.0 C1009.7,129.6 1021.2,126.6 1030.0,125.6 C1038.8,124.6 1049.3,124.3 1053.0,126.0 C1056.7,127.7 1056.2,134.2 1052.4,136.0 C1048.6,137.8 1038.7,135.7 1030.0,137.0 C1021.3,138.3 1009.7,141.8 1000.0,144.0 C990.3,146.2 979.7,148.8 972.0,150.0 C964.3,151.2 957.0,150.8 954.0,151.0 Z" fill="#f2e3bd" stroke="none" stroke-width="1" />
<path d="M954.0,151.0 C957.0,150.8 964.3,151.2 972.0,150.0 C979.7,148.8 990.3,146.2 1000.0,144.0 C1009.7,141.8 1021.3,138.3 1030.0,137.0 C1038.7,135.7 1048.9,134.5 1052.4,136.0 C1055.9,137.5 1054.7,144.0 1051.0,146.0 C1047.3,148.0 1038.5,146.8 1030.0,148.0 C1021.5,149.2 1009.7,151.0 1000.0,153.0 C990.3,155.0 979.7,158.8 972.0,160.0 C964.3,161.2 957.0,160.0 954.0,160.0 Z" fill="#a83240" stroke="none" stroke-width="1" />
<path d="M998.0,152.0 C1003.3,150.8 1021.3,146.5 1030.0,145.0 C1038.7,143.5 1047.0,139.2 1050.0,143.0 C1053.0,146.8 1051.3,164.2 1048.0,168.0 C1044.7,171.8 1037.3,166.3 1030.0,166.0 C1022.7,165.7 1008.3,166.0 1004.0,166.0 Z" fill="#b8262a" stroke="none" stroke-width="1" />
<path d="M1000.0,162.0 C1005.0,161.7 1022.3,159.0 1030.0,160.0 C1037.7,161.0 1043.2,162.3 1046.0,168.0 C1048.8,173.7 1048.0,186.7 1047.0,194.0 C1046.0,201.3 1045.2,208.3 1040.0,212.0 C1034.8,215.7 1022.7,217.3 1016.0,216.0 C1009.3,214.7 1003.0,210.0 1000.0,204.0 C997.0,198.0 998.3,184.0 998.0,180.0 Z" fill="#e6b29c" stroke="none" stroke-width="1" />
<path d="M972.0,162.0 C976.7,160.8 994.0,152.0 1000.0,155.0 C1006.0,158.0 1005.3,170.2 1008.0,180.0 C1010.7,189.8 1017.3,207.3 1016.0,214.0 C1014.7,220.7 1005.3,220.3 1000.0,220.0 C994.7,219.7 988.0,217.7 984.0,212.0 C980.0,206.3 977.3,190.3 976.0,186.0 Z" fill="#eec4ca" stroke="none" stroke-width="1" />
<path d="M996,160 C1000,180 1008,205 1014,215 M990,162 C994,185 1000,205 1004,218 M1004,158 C1008,178 1014,198 1020,210" fill="none" stroke="#f8e4e8" stroke-width="0.8" />
<path d="M954.0,162.0 C957.3,161.7 969.3,155.3 974.0,160.0 C978.7,164.7 980.5,179.7 982.0,190.0 C983.5,200.3 985.3,215.3 983.0,222.0 C980.7,228.7 973.5,230.0 968.0,230.0 C962.5,230.0 954.7,226.3 950.0,222.0 C945.3,217.7 941.0,210.3 940.0,204.0 C939.0,197.7 943.3,187.3 944.0,184.0 Z" fill="#b04650" stroke="none" stroke-width="1" />
<path d="M964.0,176.0 C966.0,175.3 973.0,169.0 976.0,172.0 C979.0,175.0 981.3,186.0 982.0,194.0 C982.7,202.0 982.0,215.3 980.0,220.0 C978.0,224.7 973.3,224.7 970.0,222.0 C966.7,219.3 961.7,207.0 960.0,204.0 Z" fill="#8f3a45" stroke="none" stroke-width="1" />
<ellipse cx="990.0" cy="198.0" rx="11" ry="26" transform="rotate(-8 990.0 198.0)" fill="#e6dbd2" stroke="#c8b8ae" stroke-width="0.8"/>
<path d="M984,184 L994,190 M982,196 L996,200 M984,208 L995,212 M986,220 L996,216 M988,176 L992,170" fill="none" stroke="#b8a69c" stroke-width="0.6" />
<path d="M988.0,220.0 C992.0,218.7 1004.0,213.3 1012.0,212.0 C1020.0,210.7 1030.7,210.7 1036.0,212.0 C1041.3,213.3 1046.7,216.7 1044.0,220.0 C1041.3,223.3 1028.0,230.3 1020.0,232.0 C1012.0,233.7 1000.0,230.3 996.0,230.0 Z" fill="#f0a98a" stroke="none" stroke-width="1" />
<path d="M992,225 C996,220 1002,224 1006,220 M1008,226 C1012,220 1018,224 1022,218 M1020,230 C1026,222 1032,226 1036,220" fill="none" stroke="#f8d8c8" stroke-width="1.0" />
<path d="M948.0,222.0 C951.3,223.3 959.3,227.7 968.0,230.0 C976.7,232.3 989.3,237.3 1000.0,236.0 C1010.7,234.7 1026.0,223.7 1032.0,222.0 C1038.0,220.3 1041.3,223.0 1036.0,226.0 C1030.7,229.0 1011.3,238.0 1000.0,240.0 C988.7,242.0 976.0,239.7 968.0,238.0 C960.0,236.3 954.7,231.3 952.0,230.0 Z" fill="#f0e2c4" stroke="none" stroke-width="1" />
<path d="M944.0,133.0 C945.2,134.8 949.3,140.2 951.0,144.0 C952.7,147.8 953.8,150.7 954.0,156.0 C954.2,161.3 954.0,170.0 952.0,176.0 C950.0,182.0 944.5,186.7 942.0,192.0 C939.5,197.3 937.0,203.3 937.0,208.0 C937.0,212.7 938.8,216.7 942.0,220.0 C945.2,223.3 949.7,225.7 956.0,228.0 C962.3,230.3 972.0,232.7 980.0,234.0 C988.0,235.3 996.0,237.0 1004.0,236.0 C1012.0,235.0 1022.0,231.3 1028.0,228.0 C1034.0,224.7 1036.8,220.7 1040.0,216.0 C1043.2,211.3 1045.8,206.0 1047.0,200.0 C1048.2,194.0 1047.2,186.0 1047.0,180.0 C1046.8,174.0 1045.5,169.7 1046.0,164.0 C1046.5,158.3 1048.8,152.4 1050.0,146.0 C1051.2,139.6 1056.3,129.0 1053.0,125.6 C1049.7,122.2 1038.8,124.5 1030.0,125.6 C1021.2,126.7 1009.7,129.6 1000.0,132.0 C990.3,134.4 976.7,138.7 972.0,140.0 Z" fill="none" stroke="#333" stroke-width="0.9" />
<path d="M968,144.4 L968,113.6 L1083,113.6" fill="none" stroke="#1f9a48" stroke-width="1.5" />
<path d="M1081.8,110.0 L1088.8,113.6 L1081.8,117.2 Z" fill="#1f9a48" stroke="none" stroke-width="1" />
<circle cx="968" cy="144.4" r="2.6" fill="#1f9a48"/>
<path d="M986,169.6 L986,127.6 L1083,127.6" fill="none" stroke="#e9a01f" stroke-width="1.5" />
<path d="M1081.8,124.0 L1088.8,127.6 L1081.8,131.2 Z" fill="#e9a01f" stroke="none" stroke-width="1" />
<circle cx="986" cy="169.6" r="2.6" fill="#e9a01f"/>
<path d="M1014,188 L1083,188" fill="none" stroke="#e6dc1e" stroke-width="1.5" />
<path d="M1081.8,184.4 L1088.8,188.0 L1081.8,191.6 Z" fill="#e6dc1e" stroke="none" stroke-width="1" />
<circle cx="1014" cy="188" r="2.6" fill="#e6dc1e"/>
<path d="M989,200.4 L989,210 L1083,210" fill="none" stroke="#e0201f" stroke-width="1.5" />
<path d="M1081.8,206.4 L1088.8,210.0 L1081.8,213.6 Z" fill="#e0201f" stroke="none" stroke-width="1" />
<circle cx="989" cy="200.4" r="2.6" fill="#e0201f"/>
<text x="1096.9" y="118.7" font-size="18.5" text-anchor="start" fill="#111" textLength="35.8" lengthAdjust="spacingAndGlyphs" >ULB</text>
<text x="1096.9" y="137.8" font-size="18.5" text-anchor="start" fill="#111" textLength="41.4" lengthAdjust="spacingAndGlyphs" >MAD</text>
<text x="1096.9" y="194.2" font-size="18.5" text-anchor="start" fill="#111" textLength="39.1" lengthAdjust="spacingAndGlyphs" >RAD</text>
<text x="1096.3" y="214.9" font-size="18.5" text-anchor="start" fill="#111" textLength="44.7" lengthAdjust="spacingAndGlyphs" >GOM</text>
<text x="1156.1" y="181.5" font-size="18.5" text-anchor="start" fill="#111" textLength="41.1" lengthAdjust="spacingAndGlyphs" >VATs</text>
<path d="M1143,133.6 L1152.4,133.6 L1152.4,212.4 L1143,212.4" fill="none" stroke="#333" stroke-width="1.3" />
<text x="0.0" y="663.7" font-size="23.5" text-anchor="start" fill="#000" font-weight="bold" >g</text>
<text x="183.0" y="661.7" font-size="16.2" text-anchor="middle" fill="#111" >Expression</text>
<rect x="64.6" y="669.6" width="241.2" height="219.4" fill="none" stroke="#222" stroke-width="1.3" />
<line x1="61.1" y1="724.3" x2="64.6" y2="724.3" stroke="#222" stroke-width="1.2" />
<text x="57.3" y="728.5" font-size="15.5" text-anchor="end" fill="#111" >2.5</text>
<line x1="61.1" y1="781.0" x2="64.6" y2="781.0" stroke="#222" stroke-width="1.2" />
<text x="57.3" y="785.2" font-size="15.5" text-anchor="end" fill="#111" >0</text>
<line x1="61.1" y1="836.7" x2="64.6" y2="836.7" stroke="#222" stroke-width="1.2" />
<text x="57.3" y="840.9" font-size="15.5" text-anchor="end" fill="#111" >−2.5</text>
<line x1="111.7" y1="889.0" x2="111.7" y2="892.5" stroke="#222" stroke-width="1.2" />
<text x="111.7" y="911.7" font-size="15.5" text-anchor="middle" fill="#111" >−2</text>
<line x1="169.3" y1="889.0" x2="169.3" y2="892.5" stroke="#222" stroke-width="1.2" />
<text x="169.3" y="911.7" font-size="15.5" text-anchor="middle" fill="#111" >0</text>
<line x1="226.7" y1="889.0" x2="226.7" y2="892.5" stroke="#222" stroke-width="1.2" />
<text x="226.7" y="911.7" font-size="15.5" text-anchor="middle" fill="#111" >2</text>
<line x1="284.0" y1="889.0" x2="284.0" y2="892.5" stroke="#222" stroke-width="1.2" />
<text x="284.0" y="911.7" font-size="15.5" text-anchor="middle" fill="#111" >4</text>
<text x="183.0" y="926.7" font-size="16.2" text-anchor="middle" fill="#111" >Dimension 1</text>
<text x="23.5" y="768.3" font-size="16.2" text-anchor="middle" fill="#111" transform="rotate(-90 23.5 768.3)">Dimension 2</text>
<ellipse cx="147.9" cy="710.8" rx="55.8" ry="27.0" transform="rotate(5.3 147.9 710.8)" fill="#45a144" fill-opacity="0.25" stroke="#45a144" stroke-width="1.5"/>
<ellipse cx="166.7" cy="759.8" rx="73.5" ry="26.0" transform="rotate(3.7 166.7 759.8)" fill="#e8e23c" fill-opacity="0.25" stroke="#e8e23c" stroke-width="1.5"/>
<ellipse cx="181.3" cy="793.5" rx="85.0" ry="22.0" transform="rotate(-8.1 181.3 793.5)" fill="#ee7f1c" fill-opacity="0.25" stroke="#ee7f1c" stroke-width="1.5"/>
<ellipse cx="157.9" cy="848.3" rx="55.9" ry="27.0" transform="rotate(9.0 157.9 848.3)" fill="#d22b26" fill-opacity="0.25" stroke="#d22b26" stroke-width="1.5"/>
<path d="M116.9,708.8 L120.4,714.8 L113.4,714.8 Z" fill="#45a144"/>
<circle cx="118.5" cy="711.2" r="2.90" fill="#45a144"/>
<path d="M158.6,721.5 L162.1,727.5 L155.1,727.5 Z" fill="#45a144"/>
<path d="M151.3,702.2 L154.8,708.2 L147.8,708.2 Z" fill="#45a144"/>
<rect x="182.5" y="723.6" width="5.2" height="5.2" fill="#45a144"/>
<rect x="181.2" y="707.6" width="5.2" height="5.2" fill="#45a144"/>
<path d="M150.1,709.1 L153.6,715.1 L146.6,715.1 Z" fill="#45a144"/>
<path d="M162.8,711.4 L166.3,717.4 L159.3,717.4 Z" fill="#45a144"/>
<rect x="172.5" y="713.3" width="5.2" height="5.2" fill="#45a144"/>
<path d="M165.6,696.4 L169.1,702.4 L162.1,702.4 Z" fill="#45a144"/>
<circle cx="111.0" cy="707.4" r="2.90" fill="#45a144"/>
<rect x="193.2" y="712.0" width="5.2" height="5.2" fill="#45a144"/>
<path d="M140.0,714.4 L143.5,720.4 L136.5,720.4 Z" fill="#45a144"/>
<rect x="183.0" y="720.6" width="5.2" height="5.2" fill="#45a144"/>
<path d="M162.9,698.6 L166.4,704.6 L159.4,704.6 Z" fill="#45a144"/>
<path d="M148.4,706.8 L151.9,712.8 L144.9,712.8 Z" fill="#45a144"/>
<path d="M172.4,702.0 L175.9,708.0 L168.9,708.0 Z" fill="#45a144"/>
<path d="M139.9,709.2 L143.4,715.2 L136.4,715.2 Z" fill="#45a144"/>
<path d="M152.3,698.0 L155.8,704.0 L148.8,704.0 Z" fill="#45a144"/>
<path d="M149.1,701.1 L152.6,707.1 L145.6,707.1 Z" fill="#45a144"/>
<path d="M154.7,710.3 L158.2,716.3 L151.2,716.3 Z" fill="#45a144"/>
<path d="M160.7,722.3 L164.2,728.3 L157.2,728.3 Z" fill="#45a144"/>
<path d="M161.0,726.7 L164.5,732.7 L157.5,732.7 Z" fill="#45a144"/>
<path d="M140.6,701.6 L144.1,707.6 L137.1,707.6 Z" fill="#45a144"/>
<path d="M151.6,716.8 L155.1,722.8 L148.1,722.8 Z" fill="#45a144"/>
<path d="M155.8,698.0 L159.3,704.0 L152.3,704.0 Z" fill="#45a144"/>
<path d="M152.9,719.4 L156.4,725.4 L149.4,725.4 Z" fill="#45a144"/>
<path d="M141.1,702.1 L144.6,708.1 L137.6,708.1 Z" fill="#45a144"/>
<path d="M151.5,716.6 L155.0,722.6 L148.0,722.6 Z" fill="#45a144"/>
<path d="M137.1,715.1 L140.6,721.1 L133.6,721.1 Z" fill="#45a144"/>
<rect x="172.4" y="719.4" width="5.2" height="5.2" fill="#45a144"/>
<path d="M129.2,698.3 L132.7,704.3 L125.7,704.3 Z" fill="#45a144"/>
<rect x="173.4" y="707.2" width="5.2" height="5.2" fill="#45a144"/>
<path d="M159.1,702.3 L162.6,708.3 L155.6,708.3 Z" fill="#45a144"/>
<rect x="185.1" y="699.6" width="5.2" height="5.2" fill="#45a144"/>
<path d="M161.3,726.9 L164.8,732.9 L157.8,732.9 Z" fill="#45a144"/>
<rect x="171.4" y="699.4" width="5.2" height="5.2" fill="#45a144"/>
<path d="M153.3,709.7 L156.8,715.7 L149.8,715.7 Z" fill="#45a144"/>
<path d="M149.0,726.2 L152.5,732.2 L145.5,732.2 Z" fill="#45a144"/>
<path d="M164.3,693.9 L167.8,699.9 L160.8,699.9 Z" fill="#45a144"/>
<path d="M164.3,726.0 L167.8,732.0 L160.8,732.0 Z" fill="#45a144"/>
<path d="M150.8,722.8 L154.3,728.8 L147.3,728.8 Z" fill="#45a144"/>
<path d="M133.2,699.2 L136.7,705.2 L129.7,705.2 Z" fill="#45a144"/>
<path d="M149.0,709.3 L152.5,715.3 L145.5,715.3 Z" fill="#45a144"/>
<path d="M139.4,707.7 L142.9,713.7 L135.9,713.7 Z" fill="#45a144"/>
<path d="M124.7,716.6 L128.2,722.6 L121.2,722.6 Z" fill="#45a144"/>
<path d="M112.0,723.3 L115.5,729.3 L108.5,729.3 Z" fill="#45a144"/>
<path d="M128.2,689.7 L131.7,695.7 L124.7,695.7 Z" fill="#45a144"/>
<path d="M151.9,710.0 L155.4,716.0 L148.4,716.0 Z" fill="#45a144"/>
<path d="M181.7,700.1 L185.2,706.1 L178.2,706.1 Z" fill="#45a144"/>
<rect x="180.3" y="713.8" width="5.2" height="5.2" fill="#45a144"/>
<path d="M146.2,696.3 L149.7,702.3 L142.7,702.3 Z" fill="#45a144"/>
<rect x="172.6" y="717.7" width="5.2" height="5.2" fill="#45a144"/>
<rect x="179.5" y="699.7" width="5.2" height="5.2" fill="#45a144"/>
<path d="M165.2,682.6 L168.7,688.6 L161.7,688.6 Z" fill="#45a144"/>
<path d="M128.8,681.2 L132.3,687.2 L125.3,687.2 Z" fill="#45a144"/>
<path d="M108.6,714.2 L112.1,720.2 L105.1,720.2 Z" fill="#45a144"/>
<circle cx="117.2" cy="700.4" r="2.90" fill="#45a144"/>
<circle cx="118.9" cy="699.8" r="2.90" fill="#45a144"/>
<rect x="175.9" y="697.5" width="5.2" height="5.2" fill="#45a144"/>
<circle cx="106.2" cy="681.2" r="2.90" fill="#45a144"/>
<circle cx="85.4" cy="705.6" r="2.90" fill="#45a144"/>
<path d="M86.7,720.7 L90.2,726.7 L83.2,726.7 Z" fill="#45a144"/>
<path d="M148.5,674.8 L152.0,680.8 L145.0,680.8 Z" fill="#45a144"/>
<path d="M167.3,679.6 L170.8,685.6 L163.8,685.6 Z" fill="#45a144"/>
<rect x="201.2" y="705.1" width="5.2" height="5.2" fill="#45a144"/>
<circle cx="295.0" cy="823.3" r="2.90" fill="#45a144"/>
<circle cx="280.8" cy="829.6" r="2.90" fill="#45a144"/>
<circle cx="282.9" cy="829.0" r="2.90" fill="#45a144"/>
<path d="M118.8,755.7 L122.3,761.7 L115.3,761.7 Z" fill="#e8e23c"/>
<path d="M169.7,757.6 L173.2,763.6 L166.2,763.6 Z" fill="#e8e23c"/>
<path d="M156.3,776.5 L159.8,782.5 L152.8,782.5 Z" fill="#e8e23c"/>
<path d="M133.4,745.0 L136.9,751.0 L129.9,751.0 Z" fill="#e8e23c"/>
<path d="M187.8,767.4 L191.3,773.4 L184.3,773.4 Z" fill="#e8e23c"/>
<path d="M176.4,754.4 L179.9,760.4 L172.9,760.4 Z" fill="#e8e23c"/>
<circle cx="211.1" cy="770.7" r="2.90" fill="#e8e23c"/>
<path d="M113.5,765.4 L117.0,771.4 L110.0,771.4 Z" fill="#e8e23c"/>
<path d="M234.1,770.1 L237.6,776.1 L230.6,776.1 Z" fill="#e8e23c"/>
<path d="M182.1,755.2 L185.6,761.2 L178.6,761.2 Z" fill="#e8e23c"/>
<path d="M185.1,764.9 L188.6,770.9 L181.6,770.9 Z" fill="#e8e23c"/>
<rect x="189.5" y="774.3" width="5.2" height="5.2" fill="#e8e23c"/>
<path d="M194.3,776.8 L197.8,782.8 L190.8,782.8 Z" fill="#e8e23c"/>
<path d="M127.4,761.2 L130.9,767.2 L123.9,767.2 Z" fill="#e8e23c"/>
<path d="M160.4,757.6 L163.9,763.6 L156.9,763.6 Z" fill="#e8e23c"/>
<path d="M151.3,745.7 L154.8,751.7 L147.8,751.7 Z" fill="#e8e23c"/>
<path d="M149.6,738.7 L153.1,744.7 L146.1,744.7 Z" fill="#e8e23c"/>
<path d="M168.9,767.3 L172.4,773.3 L165.4,773.3 Z" fill="#e8e23c"/>
<path d="M181.9,744.2 L185.4,750.2 L178.4,750.2 Z" fill="#e8e23c"/>
<path d="M182.8,746.0 L186.3,752.0 L179.3,752.0 Z" fill="#e8e23c"/>
<path d="M172.0,768.6 L175.5,774.6 L168.5,774.6 Z" fill="#e8e23c"/>
<path d="M169.2,750.8 L172.7,756.8 L165.7,756.8 Z" fill="#e8e23c"/>
<rect x="185.3" y="774.8" width="5.2" height="5.2" fill="#e8e23c"/>
<path d="M161.0,766.3 L164.5,772.3 L157.5,772.3 Z" fill="#e8e23c"/>
<rect x="198.5" y="763.6" width="5.2" height="5.2" fill="#e8e23c"/>
<path d="M158.4,768.6 L161.9,774.6 L154.9,774.6 Z" fill="#e8e23c"/>
<path d="M152.3,760.9 L155.8,766.9 L148.8,766.9 Z" fill="#e8e23c"/>
<path d="M170.0,755.6 L173.5,761.6 L166.5,761.6 Z" fill="#e8e23c"/>
<path d="M171.3,745.7 L174.8,751.7 L167.8,751.7 Z" fill="#e8e23c"/>
<path d="M176.1,756.9 L179.6,762.9 L172.6,762.9 Z" fill="#e8e23c"/>
<path d="M159.4,755.6 L162.9,761.6 L155.9,761.6 Z" fill="#e8e23c"/>
<path d="M182.6,735.6 L186.1,741.6 L179.1,741.6 Z" fill="#e8e23c"/>
<path d="M171.0,770.6 L174.5,776.6 L167.5,776.6 Z" fill="#e8e23c"/>
<path d="M149.1,748.4 L152.6,754.4 L145.6,754.4 Z" fill="#e8e23c"/>
<path d="M182.4,752.8 L185.9,758.8 L178.9,758.8 Z" fill="#e8e23c"/>
<path d="M185.8,750.5 L189.3,756.5 L182.3,756.5 Z" fill="#e8e23c"/>
<path d="M116.1,751.1 L119.6,757.1 L112.6,757.1 Z" fill="#e8e23c"/>
<path d="M172.1,765.8 L175.6,771.8 L168.6,771.8 Z" fill="#e8e23c"/>
<path d="M147.1,738.3 L150.6,744.3 L143.6,744.3 Z" fill="#e8e23c"/>
<rect x="190.7" y="750.9" width="5.2" height="5.2" fill="#e8e23c"/>
<path d="M124.1,747.3 L127.6,753.3 L120.6,753.3 Z" fill="#e8e23c"/>
<circle cx="221.2" cy="758.6" r="2.90" fill="#e8e23c"/>
<path d="M107.3,738.9 L110.8,744.9 L103.8,744.9 Z" fill="#e8e23c"/>
<path d="M140.3,749.1 L143.8,755.1 L136.8,755.1 Z" fill="#e8e23c"/>
<path d="M163.9,740.9 L167.4,746.9 L160.4,746.9 Z" fill="#e8e23c"/>
<path d="M150.6,730.5 L154.1,736.5 L147.1,736.5 Z" fill="#e8e23c"/>
<path d="M225.7,744.4 L229.2,750.4 L222.2,750.4 Z" fill="#e8e23c"/>
<path d="M175.3,745.5 L178.8,751.5 L171.8,751.5 Z" fill="#e8e23c"/>
<path d="M148.9,763.0 L152.4,769.0 L145.4,769.0 Z" fill="#e8e23c"/>
<path d="M152.2,741.6 L155.7,747.6 L148.7,747.6 Z" fill="#e8e23c"/>
<path d="M194.9,768.1 L198.4,774.1 L191.4,774.1 Z" fill="#e8e23c"/>
<path d="M146.8,760.2 L150.3,766.2 L143.3,766.2 Z" fill="#e8e23c"/>
<path d="M143.3,770.5 L146.8,776.5 L139.8,776.5 Z" fill="#e8e23c"/>
<path d="M190.4,763.1 L193.9,769.1 L186.9,769.1 Z" fill="#e8e23c"/>
<path d="M170.7,739.2 L174.2,745.2 L167.2,745.2 Z" fill="#e8e23c"/>
<path d="M161.2,757.9 L164.7,763.9 L157.7,763.9 Z" fill="#e8e23c"/>
<path d="M147.1,757.4 L150.6,763.4 L143.6,763.4 Z" fill="#e8e23c"/>
<path d="M153.0,762.5 L156.5,768.5 L149.5,768.5 Z" fill="#e8e23c"/>
<path d="M170.6,755.8 L174.1,761.8 L167.1,761.8 Z" fill="#e8e23c"/>
<path d="M162.1,763.5 L165.6,769.5 L158.6,769.5 Z" fill="#e8e23c"/>
<path d="M115.6,752.7 L119.1,758.7 L112.1,758.7 Z" fill="#e8e23c"/>
<path d="M122.5,756.8 L126.0,762.8 L119.0,762.8 Z" fill="#e8e23c"/>
<path d="M224.6,719.6 L228.1,725.6 L221.1,725.6 Z" fill="#e8e23c"/>
<path d="M214.2,728.4 L217.7,734.4 L210.7,734.4 Z" fill="#e8e23c"/>
<rect x="215.7" y="733.2" width="5.2" height="5.2" fill="#e8e23c"/>
<circle cx="90.2" cy="755.0" r="2.90" fill="#e8e23c"/>
<path d="M92.3,774.8 L95.8,780.8 L88.8,780.8 Z" fill="#e8e23c"/>
<path d="M244.4,766.5 L247.9,772.5 L240.9,772.5 Z" fill="#e8e23c"/>
<circle cx="270.0" cy="810.4" r="2.90" fill="#e8e23c"/>
<circle cx="274.6" cy="823.3" r="2.90" fill="#e8e23c"/>
<circle cx="275.6" cy="832.7" r="2.90" fill="#e8e23c"/>
<circle cx="273.5" cy="829.6" r="2.90" fill="#e8e23c"/>
<circle cx="216.2" cy="767.1" r="2.90" fill="#e8e23c"/>
<circle cx="229.8" cy="768.8" r="2.90" fill="#e8e23c"/>
<path d="M180.2,805.1 L183.7,811.1 L176.7,811.1 Z" fill="#ee7f1c"/>
<path d="M194.8,782.7 L198.3,788.7 L191.3,788.7 Z" fill="#ee7f1c"/>
<path d="M198.4,793.1 L201.9,799.1 L194.9,799.1 Z" fill="#ee7f1c"/>
<circle cx="214.4" cy="797.8" r="2.90" fill="#ee7f1c"/>
<path d="M171.6,801.4 L175.1,807.4 L168.1,807.4 Z" fill="#ee7f1c"/>
<path d="M176.1,789.4 L179.6,795.4 L172.6,795.4 Z" fill="#ee7f1c"/>
<path d="M229.9,799.0 L233.4,805.0 L226.4,805.0 Z" fill="#ee7f1c"/>
<path d="M203.3,769.1 L206.8,775.1 L199.8,775.1 Z" fill="#ee7f1c"/>
<circle cx="244.4" cy="779.0" r="2.90" fill="#ee7f1c"/>
<path d="M205.7,777.0 L209.2,783.0 L202.2,783.0 Z" fill="#ee7f1c"/>
<path d="M143.8,791.0 L147.3,797.0 L140.3,797.0 Z" fill="#ee7f1c"/>
<rect x="149.5" y="798.8" width="5.2" height="5.2" fill="#ee7f1c"/>
<path d="M207.8,769.8 L211.3,775.8 L204.3,775.8 Z" fill="#ee7f1c"/>
<path d="M162.2,780.7 L165.7,786.7 L158.7,786.7 Z" fill="#ee7f1c"/>
<circle cx="220.6" cy="799.2" r="2.90" fill="#ee7f1c"/>
<path d="M193.5,794.1 L197.0,800.1 L190.0,800.1 Z" fill="#ee7f1c"/>
<path d="M182.0,800.8 L185.5,806.8 L178.5,806.8 Z" fill="#ee7f1c"/>
<path d="M165.8,795.2 L169.3,801.2 L162.3,801.2 Z" fill="#ee7f1c"/>
<path d="M184.9,796.6 L188.4,802.6 L181.4,802.6 Z" fill="#ee7f1c"/>
<path d="M171.8,794.0 L175.3,800.0 L168.3,800.0 Z" fill="#ee7f1c"/>
<path d="M217.0,781.9 L220.5,787.9 L213.5,787.9 Z" fill="#ee7f1c"/>
<rect x="188.8" y="788.2" width="5.2" height="5.2" fill="#ee7f1c"/>
<path d="M203.7,768.7 L207.2,774.7 L200.2,774.7 Z" fill="#ee7f1c"/>
<path d="M203.5,795.3 L207.0,801.3 L200.0,801.3 Z" fill="#ee7f1c"/>
<circle cx="231.2" cy="774.6" r="2.90" fill="#ee7f1c"/>
<path d="M202.5,779.1 L206.0,785.1 L199.0,785.1 Z" fill="#ee7f1c"/>
<path d="M131.7,787.1 L135.2,793.1 L128.2,793.1 Z" fill="#ee7f1c"/>
<path d="M143.1,786.4 L146.6,792.4 L139.6,792.4 Z" fill="#ee7f1c"/>
<path d="M144.3,807.5 L147.8,813.5 L140.8,813.5 Z" fill="#ee7f1c"/>
<path d="M175.7,796.3 L179.2,802.3 L172.2,802.3 Z" fill="#ee7f1c"/>
<rect x="200.0" y="792.5" width="5.2" height="5.2" fill="#ee7f1c"/>
<path d="M150.0,784.2 L153.5,790.2 L146.5,790.2 Z" fill="#ee7f1c"/>
<circle cx="221.2" cy="790.4" r="2.90" fill="#ee7f1c"/>
<path d="M183.8,789.8 L187.3,795.8 L180.3,795.8 Z" fill="#ee7f1c"/>
<path d="M205.3,792.2 L208.8,798.2 L201.8,798.2 Z" fill="#ee7f1c"/>
<path d="M168.5,789.3 L172.0,795.3 L165.0,795.3 Z" fill="#ee7f1c"/>
<rect x="132.6" y="811.6" width="5.2" height="5.2" fill="#ee7f1c"/>
<path d="M160.2,802.9 L163.7,808.9 L156.7,808.9 Z" fill="#ee7f1c"/>
<path d="M138.4,794.7 L141.9,800.7 L134.9,800.7 Z" fill="#ee7f1c"/>
<path d="M178.9,792.6 L182.4,798.6 L175.4,798.6 Z" fill="#ee7f1c"/>
<circle cx="232.5" cy="777.5" r="2.90" fill="#ee7f1c"/>
<path d="M149.2,776.6 L152.7,782.6 L145.7,782.6 Z" fill="#ee7f1c"/>
<path d="M150.4,789.3 L153.9,795.3 L146.9,795.3 Z" fill="#ee7f1c"/>
<path d="M176.3,797.1 L179.8,803.1 L172.8,803.1 Z" fill="#ee7f1c"/>
<circle cx="218.7" cy="790.6" r="2.90" fill="#ee7f1c"/>
<rect x="179.4" y="777.3" width="5.2" height="5.2" fill="#ee7f1c"/>
<path d="M184.1,783.0 L187.6,789.0 L180.6,789.0 Z" fill="#ee7f1c"/>
<path d="M148.8,791.4 L152.3,797.4 L145.3,797.4 Z" fill="#ee7f1c"/>
<path d="M162.7,794.6 L166.2,800.6 L159.2,800.6 Z" fill="#ee7f1c"/>
<circle cx="236.8" cy="797.7" r="2.90" fill="#ee7f1c"/>
<rect x="167.7" y="801.8" width="5.2" height="5.2" fill="#ee7f1c"/>
<path d="M207.1,792.9 L210.6,798.9 L203.6,798.9 Z" fill="#ee7f1c"/>
<circle cx="226.9" cy="790.4" r="2.90" fill="#ee7f1c"/>
<path d="M191.2,780.0 L194.7,786.0 L187.7,786.0 Z" fill="#ee7f1c"/>
<rect x="159.7" y="792.2" width="5.2" height="5.2" fill="#ee7f1c"/>
<rect x="182.4" y="810.5" width="5.2" height="5.2" fill="#ee7f1c"/>
<path d="M145.3,796.2 L148.8,802.2 L141.8,802.2 Z" fill="#ee7f1c"/>
<path d="M188.8,782.1 L192.3,788.1 L185.3,788.1 Z" fill="#ee7f1c"/>
<path d="M136.0,801.0 L139.5,807.0 L132.5,807.0 Z" fill="#ee7f1c"/>
<circle cx="222.0" cy="769.7" r="2.90" fill="#ee7f1c"/>
<path d="M251.7,722.1 L255.2,728.1 L248.2,728.1 Z" fill="#ee7f1c"/>
<rect x="238.7" y="741.6" width="5.2" height="5.2" fill="#ee7f1c"/>
<rect x="282.4" y="762.4" width="5.2" height="5.2" fill="#ee7f1c"/>
<rect x="280.3" y="763.9" width="5.2" height="5.2" fill="#ee7f1c"/>
<rect x="240.7" y="776.6" width="5.2" height="5.2" fill="#ee7f1c"/>
<rect x="258.4" y="789.5" width="5.2" height="5.2" fill="#ee7f1c"/>
<path d="M78.3,793.6 L81.8,799.6 L74.8,799.6 Z" fill="#ee7f1c"/>
<path d="M92.9,824.8 L96.4,830.8 L89.4,830.8 Z" fill="#ee7f1c"/>
<circle cx="213.1" cy="824.4" r="2.90" fill="#ee7f1c"/>
<circle cx="268.3" cy="818.1" r="2.90" fill="#ee7f1c"/>
<circle cx="259.0" cy="849.4" r="2.90" fill="#ee7f1c"/>
<circle cx="240.2" cy="795.8" r="2.90" fill="#ee7f1c"/>
<circle cx="223.5" cy="800.4" r="2.90" fill="#ee7f1c"/>
<circle cx="260.0" cy="793.8" r="2.90" fill="#ee7f1c"/>
<path d="M186.4,861.0 L189.9,867.0 L182.9,867.0 Z" fill="#d22b26"/>
<path d="M176.8,844.0 L180.3,850.0 L173.3,850.0 Z" fill="#d22b26"/>
<path d="M157.0,826.5 L160.5,832.5 L153.5,832.5 Z" fill="#d22b26"/>
<path d="M149.6,831.9 L153.1,837.9 L146.1,837.9 Z" fill="#d22b26"/>
<path d="M170.0,852.4 L173.5,858.4 L166.5,858.4 Z" fill="#d22b26"/>
<path d="M144.6,849.9 L148.1,855.9 L141.1,855.9 Z" fill="#d22b26"/>
<path d="M149.1,838.0 L152.6,844.0 L145.6,844.0 Z" fill="#d22b26"/>
<path d="M151.2,837.2 L154.7,843.2 L147.7,843.2 Z" fill="#d22b26"/>
<path d="M172.8,854.7 L176.3,860.7 L169.3,860.7 Z" fill="#d22b26"/>
<path d="M125.4,845.8 L128.9,851.8 L121.9,851.8 Z" fill="#d22b26"/>
<path d="M154.1,838.5 L157.6,844.5 L150.6,844.5 Z" fill="#d22b26"/>
<path d="M148.3,837.3 L151.8,843.3 L144.8,843.3 Z" fill="#d22b26"/>
<path d="M180.6,837.7 L184.1,843.7 L177.1,843.7 Z" fill="#d22b26"/>
<path d="M140.8,844.4 L144.3,850.4 L137.3,850.4 Z" fill="#d22b26"/>
<path d="M146.4,842.7 L149.9,848.7 L142.9,848.7 Z" fill="#d22b26"/>
<path d="M174.1,852.5 L177.6,858.5 L170.6,858.5 Z" fill="#d22b26"/>
<path d="M158.1,838.6 L161.6,844.6 L154.6,844.6 Z" fill="#d22b26"/>
<path d="M180.4,855.9 L183.9,861.9 L176.9,861.9 Z" fill="#d22b26"/>
<path d="M131.6,837.5 L135.1,843.5 L128.1,843.5 Z" fill="#d22b26"/>
<rect x="123.5" y="847.0" width="5.2" height="5.2" fill="#d22b26"/>
<path d="M139.7,843.1 L143.2,849.1 L136.2,849.1 Z" fill="#d22b26"/>
<path d="M166.7,844.3 L170.2,850.3 L163.2,850.3 Z" fill="#d22b26"/>
<path d="M150.9,828.1 L154.4,834.1 L147.4,834.1 Z" fill="#d22b26"/>
<path d="M136.8,846.5 L140.3,852.5 L133.3,852.5 Z" fill="#d22b26"/>
<path d="M176.5,843.9 L180.0,849.9 L173.0,849.9 Z" fill="#d22b26"/>
<path d="M168.6,862.3 L172.1,868.3 L165.1,868.3 Z" fill="#d22b26"/>
<path d="M155.1,856.3 L158.6,862.3 L151.6,862.3 Z" fill="#d22b26"/>
<path d="M141.3,836.8 L144.8,842.8 L137.8,842.8 Z" fill="#d22b26"/>
<path d="M144.9,849.8 L148.4,855.8 L141.4,855.8 Z" fill="#d22b26"/>
<path d="M166.9,852.5 L170.4,858.5 L163.4,858.5 Z" fill="#d22b26"/>
<path d="M172.6,840.0 L176.1,846.0 L169.1,846.0 Z" fill="#d22b26"/>
<path d="M144.0,862.5 L147.5,868.5 L140.5,868.5 Z" fill="#d22b26"/>
<path d="M127.9,833.6 L131.4,839.6 L124.4,839.6 Z" fill="#d22b26"/>
<path d="M161.5,830.5 L165.0,836.5 L158.0,836.5 Z" fill="#d22b26"/>
<path d="M140.2,850.8 L143.7,856.8 L136.7,856.8 Z" fill="#d22b26"/>
<rect x="115.2" y="833.3" width="5.2" height="5.2" fill="#d22b26"/>
<circle cx="188.7" cy="844.6" r="2.90" fill="#d22b26"/>
<path d="M184.3,843.2 L187.8,849.2 L180.8,849.2 Z" fill="#d22b26"/>
<path d="M156.1,850.0 L159.6,856.0 L152.6,856.0 Z" fill="#d22b26"/>
<path d="M154.0,837.6 L157.5,843.6 L150.5,843.6 Z" fill="#d22b26"/>
<path d="M127.6,844.8 L131.1,850.8 L124.1,850.8 Z" fill="#d22b26"/>
<path d="M163.5,836.2 L167.0,842.2 L160.0,842.2 Z" fill="#d22b26"/>
<path d="M145.8,845.6 L149.3,851.6 L142.3,851.6 Z" fill="#d22b26"/>
<rect x="177.1" y="864.9" width="5.2" height="5.2" fill="#d22b26"/>
<path d="M150.4,835.8 L153.9,841.8 L146.9,841.8 Z" fill="#d22b26"/>
<path d="M146.5,833.2 L150.0,839.2 L143.0,839.2 Z" fill="#d22b26"/>
<rect x="139.8" y="830.2" width="5.2" height="5.2" fill="#d22b26"/>
<path d="M140.8,847.2 L144.3,853.2 L137.3,853.2 Z" fill="#d22b26"/>
<circle cx="204.8" cy="845.7" r="2.90" fill="#d22b26"/>
<path d="M147.3,841.4 L150.8,847.4 L143.8,847.4 Z" fill="#d22b26"/>
<path d="M193.3,833.8 L196.8,839.8 L189.8,839.8 Z" fill="#d22b26"/>
<path d="M196.7,859.8 L200.2,865.8 L193.2,865.8 Z" fill="#d22b26"/>
<path d="M172.5,855.9 L176.0,861.9 L169.0,861.9 Z" fill="#d22b26"/>
<path d="M185.0,849.3 L188.5,855.3 L181.5,855.3 Z" fill="#d22b26"/>
<rect x="124.8" y="841.3" width="5.2" height="5.2" fill="#d22b26"/>
<path d="M176.6,845.9 L180.1,851.9 L173.1,851.9 Z" fill="#d22b26"/>
<path d="M157.4,844.2 L160.9,850.2 L153.9,850.2 Z" fill="#d22b26"/>
<path d="M207.8,841.0 L211.3,847.0 L204.3,847.0 Z" fill="#d22b26"/>
<rect x="132.5" y="850.1" width="5.2" height="5.2" fill="#d22b26"/>
<path d="M163.7,844.3 L167.2,850.3 L160.2,850.3 Z" fill="#d22b26"/>
<path d="M202.2,845.6 L205.7,851.6 L198.7,851.6 Z" fill="#d22b26"/>
<path d="M188.0,846.3 L191.5,852.3 L184.5,852.3 Z" fill="#d22b26"/>
<path d="M75.6,740.0 L79.1,746.0 L72.1,746.0 Z" fill="#d22b26"/>
<path d="M195.4,818.6 L198.9,824.6 L191.9,824.6 Z" fill="#d22b26"/>
<circle cx="223.5" cy="868.1" r="2.90" fill="#d22b26"/>
<circle cx="236.7" cy="857.7" r="2.90" fill="#d22b26"/>
<circle cx="238.1" cy="867.1" r="2.90" fill="#d22b26"/>
<circle cx="241.2" cy="862.9" r="2.90" fill="#d22b26"/>
<rect x="118.9" y="869.1" width="5.2" height="5.2" fill="#d22b26"/>
<rect x="128.2" y="877.0" width="5.2" height="5.2" fill="#d22b26"/>
<rect x="181.4" y="875.3" width="5.2" height="5.2" fill="#d22b26"/>
<rect x="111.6" y="855.1" width="5.2" height="5.2" fill="#d22b26"/>
<text x="314.0" y="708.3" font-size="16" text-anchor="start" fill="#111" >Group</text>
<circle cx="322.1" cy="722.5" r="4.4" fill="#000"/>
<text x="334.4" y="725.4" font-size="16" text-anchor="start" fill="#111" >NC</text>
<path d="M322.1,732.1 L328.2,742.7 L316.0,742.7 Z" fill="#000"/>
<text x="334.4" y="741.1" font-size="16" text-anchor="start" fill="#111" >WG</text>
<rect x="317.6" y="751.1" width="9.0" height="8.2" fill="#000" stroke="none" stroke-width="1" />
<text x="334.4" y="757.1" font-size="16" text-anchor="start" fill="#111" >WL</text>
<text x="314.0" y="791.0" font-size="16" text-anchor="start" fill="#111" >Tissue</text>
<rect x="315.7" y="799.0" width="12.5" height="12.6" fill="#d22b26" stroke="none" stroke-width="1" />
<text x="333.9" y="810.5" font-size="16.3" text-anchor="start" fill="#111" >GOM</text>
<rect x="315.7" y="814.9" width="12.5" height="12.6" fill="#ee7f1c" stroke="none" stroke-width="1" />
<text x="333.9" y="826.4" font-size="16.3" text-anchor="start" fill="#111" >MAD</text>
<rect x="315.7" y="830.9" width="12.5" height="12.6" fill="#e8e23c" stroke="none" stroke-width="1" />
<text x="333.9" y="842.4" font-size="16.3" text-anchor="start" fill="#111" >RAD</text>
<rect x="315.7" y="846.8" width="12.5" height="12.6" fill="#45a144" stroke="none" stroke-width="1" />
<text x="333.9" y="858.3" font-size="16.3" text-anchor="start" fill="#111" >ULB</text>
<text x="408.4" y="663.7" font-size="23.5" text-anchor="start" fill="#000" font-weight="bold" >h</text>
<text x="585.0" y="661.7" font-size="16.2" text-anchor="middle" fill="#111" >A-B index</text>
<rect x="462.5" y="670.2" width="237.5" height="215.6" fill="none" stroke="#222" stroke-width="1.3" />
<line x1="459.0" y1="684.8" x2="462.5" y2="684.8" stroke="#222" stroke-width="1.2" />
<text x="453.3" y="689.0" font-size="15.5" text-anchor="end" fill="#111" >6</text>
<line x1="459.0" y1="733.8" x2="462.5" y2="733.8" stroke="#222" stroke-width="1.2" />
<text x="453.3" y="738.0" font-size="15.5" text-anchor="end" fill="#111" >3</text>
<line x1="459.0" y1="782.7" x2="462.5" y2="782.7" stroke="#222" stroke-width="1.2" />
<text x="453.3" y="786.9" font-size="15.5" text-anchor="end" fill="#111" >0</text>
<line x1="459.0" y1="831.7" x2="462.5" y2="831.7" stroke="#222" stroke-width="1.2" />
<text x="453.3" y="835.9" font-size="15.5" text-anchor="end" fill="#111" >−3</text>
<line x1="459.0" y1="881.2" x2="462.5" y2="881.2" stroke="#222" stroke-width="1.2" />
<text x="453.3" y="885.5" font-size="15.5" text-anchor="end" fill="#111" >−6</text>
<line x1="479.2" y1="885.8" x2="479.2" y2="889.3" stroke="#222" stroke-width="1.2" />
<text x="479.2" y="905.0" font-size="15.5" text-anchor="middle" fill="#111" >−5</text>
<line x1="522.5" y1="885.8" x2="522.5" y2="889.3" stroke="#222" stroke-width="1.2" />
<text x="522.5" y="905.0" font-size="15.5" text-anchor="middle" fill="#111" >−2.5</text>
<line x1="566.7" y1="885.8" x2="566.7" y2="889.3" stroke="#222" stroke-width="1.2" />
<text x="566.7" y="905.0" font-size="15.5" text-anchor="middle" fill="#111" >0</text>
<line x1="610.4" y1="885.8" x2="610.4" y2="889.3" stroke="#222" stroke-width="1.2" />
<text x="610.4" y="905.0" font-size="15.5" text-anchor="middle" fill="#111" >2.5</text>
<line x1="654.8" y1="885.8" x2="654.8" y2="889.3" stroke="#222" stroke-width="1.2" />
<text x="654.8" y="905.0" font-size="15.5" text-anchor="middle" fill="#111" >5</text>
<line x1="698.5" y1="885.8" x2="698.5" y2="889.3" stroke="#222" stroke-width="1.2" />
<text x="698.5" y="905.0" font-size="15.5" text-anchor="middle" fill="#111" >7.5</text>
<text x="585.0" y="925.0" font-size="16.2" text-anchor="middle" fill="#111" >Dimension 1</text>
<text x="431.0" y="768.0" font-size="16.2" text-anchor="middle" fill="#111" transform="rotate(-90 431 768)">Dimension 2</text>
<ellipse cx="506.2" cy="789.4" rx="42.0" ry="25.5" transform="rotate(-62.0 506.2 789.4)" fill="#45a144" fill-opacity="0.25" stroke="#45a144" stroke-width="1.5"/>
<ellipse cx="557.3" cy="776.5" rx="106.5" ry="15.0" transform="rotate(-64.2 557.3 776.5)" fill="#e8e23c" fill-opacity="0.25" stroke="#e8e23c" stroke-width="1.5"/>
<ellipse cx="577.7" cy="779.8" rx="83.6" ry="15.0" transform="rotate(-57.6 577.7 779.8)" fill="#ee7f1c" fill-opacity="0.25" stroke="#ee7f1c" stroke-width="1.5"/>
<ellipse cx="625.6" cy="783.1" rx="84.5" ry="21.3" transform="rotate(-41.3 625.6 783.1)" fill="#d22b26" fill-opacity="0.25" stroke="#d22b26" stroke-width="1.5"/>
<path d="M519.4,783.4 L522.9,789.4 L515.9,789.4 Z" fill="#45a144"/>
<path d="M496.1,796.0 L499.6,802.0 L492.6,802.0 Z" fill="#45a144"/>
<path d="M491.1,774.3 L494.6,780.3 L487.6,780.3 Z" fill="#45a144"/>
<path d="M500.9,786.6 L504.4,792.6 L497.4,792.6 Z" fill="#45a144"/>
<path d="M495.7,789.5 L499.2,795.5 L492.2,795.5 Z" fill="#45a144"/>
<path d="M508.2,789.3 L511.7,795.3 L504.7,795.3 Z" fill="#45a144"/>
<path d="M511.3,764.4 L514.8,770.4 L507.8,770.4 Z" fill="#45a144"/>
<path d="M496.8,787.9 L500.3,793.9 L493.3,793.9 Z" fill="#45a144"/>
<path d="M496.6,792.9 L500.1,798.9 L493.1,798.9 Z" fill="#45a144"/>
<path d="M501.8,793.9 L505.3,799.9 L498.3,799.9 Z" fill="#45a144"/>
<path d="M495.4,804.4 L498.9,810.4 L491.9,810.4 Z" fill="#45a144"/>
<path d="M496.1,795.1 L499.6,801.1 L492.6,801.1 Z" fill="#45a144"/>
<path d="M497.6,776.8 L501.1,782.8 L494.1,782.8 Z" fill="#45a144"/>
<path d="M498.3,763.0 L501.8,769.0 L494.8,769.0 Z" fill="#45a144"/>
<rect x="479.1" y="801.7" width="5.2" height="5.2" fill="#45a144"/>
<path d="M489.9,812.4 L493.4,818.4 L486.4,818.4 Z" fill="#45a144"/>
<path d="M499.8,799.8 L503.3,805.8 L496.3,805.8 Z" fill="#45a144"/>
<path d="M500.4,789.5 L503.9,795.5 L496.9,795.5 Z" fill="#45a144"/>
<path d="M492.1,801.8 L495.6,807.8 L488.6,807.8 Z" fill="#45a144"/>
<path d="M492.4,782.4 L495.9,788.4 L488.9,788.4 Z" fill="#45a144"/>
<rect x="483.0" y="802.0" width="5.2" height="5.2" fill="#45a144"/>
<path d="M511.7,785.0 L515.2,791.0 L508.2,791.0 Z" fill="#45a144"/>
<path d="M506.3,802.7 L509.8,808.7 L502.8,808.7 Z" fill="#45a144"/>
<path d="M504.4,783.6 L507.9,789.6 L500.9,789.6 Z" fill="#45a144"/>
<path d="M491.0,778.7 L494.5,784.7 L487.5,784.7 Z" fill="#45a144"/>
<path d="M504.1,771.7 L507.6,777.7 L500.6,777.7 Z" fill="#45a144"/>
<path d="M505.7,767.3 L509.2,773.3 L502.2,773.3 Z" fill="#45a144"/>
<path d="M493.8,799.4 L497.3,805.4 L490.3,805.4 Z" fill="#45a144"/>
<circle cx="498.6" cy="782.0" r="2.90" fill="#45a144"/>
<path d="M487.0,769.4 L490.5,775.4 L483.5,775.4 Z" fill="#45a144"/>
<path d="M498.2,782.5 L501.7,788.5 L494.7,788.5 Z" fill="#45a144"/>
<path d="M508.9,795.4 L512.4,801.4 L505.4,801.4 Z" fill="#45a144"/>
<path d="M509.9,777.5 L513.4,783.5 L506.4,783.5 Z" fill="#45a144"/>
<path d="M509.8,763.5 L513.3,769.5 L506.3,769.5 Z" fill="#45a144"/>
<rect x="483.4" y="807.1" width="5.2" height="5.2" fill="#45a144"/>
<path d="M522.8,790.8 L526.3,796.8 L519.3,796.8 Z" fill="#45a144"/>
<path d="M497.3,767.9 L500.8,773.9 L493.8,773.9 Z" fill="#45a144"/>
<rect x="475.4" y="804.5" width="5.2" height="5.2" fill="#45a144"/>
<path d="M492.6,795.7 L496.1,801.7 L489.1,801.7 Z" fill="#45a144"/>
<path d="M511.7,766.7 L515.2,772.7 L508.2,772.7 Z" fill="#45a144"/>
<path d="M511.4,769.8 L514.9,775.8 L507.9,775.8 Z" fill="#45a144"/>
<circle cx="494.3" cy="773.5" r="2.90" fill="#45a144"/>
<circle cx="500.0" cy="782.4" r="2.90" fill="#45a144"/>
<path d="M502.7,784.5 L506.2,790.5 L499.2,790.5 Z" fill="#45a144"/>
<path d="M493.4,787.7 L496.9,793.7 L489.9,793.7 Z" fill="#45a144"/>
<path d="M507.3,799.1 L510.8,805.1 L503.8,805.1 Z" fill="#45a144"/>
<path d="M508.1,785.1 L511.6,791.1 L504.6,791.1 Z" fill="#45a144"/>
<path d="M484.8,783.5 L488.3,789.5 L481.3,789.5 Z" fill="#45a144"/>
<path d="M483.4,772.9 L486.9,778.9 L479.9,778.9 Z" fill="#45a144"/>
<path d="M498.4,791.4 L501.9,797.4 L494.9,797.4 Z" fill="#45a144"/>
<circle cx="519.9" cy="788.5" r="2.90" fill="#45a144"/>
<path d="M489.3,785.4 L492.8,791.4 L485.8,791.4 Z" fill="#45a144"/>
<path d="M501.2,798.1 L504.7,804.1 L497.7,804.1 Z" fill="#45a144"/>
<path d="M509.7,797.1 L513.2,803.1 L506.2,803.1 Z" fill="#45a144"/>
<path d="M501.5,779.7 L505.0,785.7 L498.0,785.7 Z" fill="#45a144"/>
<path d="M520.4,736.7 L523.9,742.7 L516.9,742.7 Z" fill="#45a144"/>
<path d="M529.8,733.2 L533.3,739.2 L526.3,739.2 Z" fill="#45a144"/>
<path d="M531.9,730.0 L535.4,736.0 L528.4,736.0 Z" fill="#45a144"/>
<path d="M539.2,735.2 L542.7,741.2 L535.7,741.2 Z" fill="#45a144"/>
<path d="M538.1,738.8 L541.6,744.8 L534.6,744.8 Z" fill="#45a144"/>
<path d="M529.8,745.7 L533.3,751.7 L526.3,751.7 Z" fill="#45a144"/>
<circle cx="537.1" cy="747.9" r="2.90" fill="#45a144"/>
<rect x="530.3" y="762.0" width="5.2" height="5.2" fill="#45a144"/>
<rect x="540.7" y="756.6" width="5.2" height="5.2" fill="#45a144"/>
<rect x="544.9" y="760.3" width="5.2" height="5.2" fill="#45a144"/>
<path d="M473.5,774.8 L477.0,780.8 L470.0,780.8 Z" fill="#45a144"/>
<path d="M474.2,783.2 L477.7,789.2 L470.7,789.2 Z" fill="#45a144"/>
<path d="M472.9,785.9 L476.4,791.9 L469.4,791.9 Z" fill="#45a144"/>
<path d="M473.5,800.9 L477.0,806.9 L470.0,806.9 Z" fill="#45a144"/>
<path d="M478.8,799.8 L482.2,805.8 L475.2,805.8 Z" fill="#45a144"/>
<rect x="571.2" y="745.4" width="5.2" height="5.2" fill="#e8e23c"/>
<rect x="574.1" y="740.9" width="5.2" height="5.2" fill="#e8e23c"/>
<path d="M548.1,790.5 L551.6,796.5 L544.6,796.5 Z" fill="#e8e23c"/>
<path d="M556.1,796.5 L559.6,802.5 L552.6,802.5 Z" fill="#e8e23c"/>
<path d="M559.9,771.3 L563.4,777.3 L556.4,777.3 Z" fill="#e8e23c"/>
<path d="M545.2,799.8 L548.7,805.8 L541.7,805.8 Z" fill="#e8e23c"/>
<path d="M574.9,731.4 L578.4,737.4 L571.4,737.4 Z" fill="#e8e23c"/>
<path d="M529.7,830.0 L533.2,836.0 L526.2,836.0 Z" fill="#e8e23c"/>
<path d="M555.8,801.5 L559.3,807.5 L552.3,807.5 Z" fill="#e8e23c"/>
<path d="M554.0,781.7 L557.5,787.7 L550.5,787.7 Z" fill="#e8e23c"/>
<path d="M553.7,781.2 L557.2,787.2 L550.2,787.2 Z" fill="#e8e23c"/>
<path d="M557.4,779.4 L560.9,785.4 L553.9,785.4 Z" fill="#e8e23c"/>
<path d="M536.8,821.9 L540.3,827.9 L533.3,827.9 Z" fill="#e8e23c"/>
<path d="M559.7,785.4 L563.2,791.4 L556.2,791.4 Z" fill="#e8e23c"/>
<path d="M560.2,788.6 L563.7,794.6 L556.7,794.6 Z" fill="#e8e23c"/>
<path d="M536.3,830.5 L539.8,836.5 L532.8,836.5 Z" fill="#e8e23c"/>
<path d="M552.6,799.3 L556.1,805.3 L549.1,805.3 Z" fill="#e8e23c"/>
<path d="M540.9,813.1 L544.4,819.1 L537.4,819.1 Z" fill="#e8e23c"/>
<path d="M571.8,745.8 L575.3,751.8 L568.3,751.8 Z" fill="#e8e23c"/>
<path d="M555.0,793.0 L558.5,799.0 L551.5,799.0 Z" fill="#e8e23c"/>
<path d="M566.3,764.4 L569.8,770.4 L562.8,770.4 Z" fill="#e8e23c"/>
<rect x="563.1" y="748.1" width="5.2" height="5.2" fill="#e8e23c"/>
<path d="M559.2,772.7 L562.7,778.7 L555.7,778.7 Z" fill="#e8e23c"/>
<path d="M536.8,822.6 L540.3,828.6 L533.3,828.6 Z" fill="#e8e23c"/>
<path d="M598.1,694.7 L601.6,700.7 L594.6,700.7 Z" fill="#e8e23c"/>
<path d="M552.3,774.3 L555.8,780.3 L548.8,780.3 Z" fill="#e8e23c"/>
<path d="M588.8,716.4 L592.3,722.4 L585.3,722.4 Z" fill="#e8e23c"/>
<path d="M558.2,784.1 L561.7,790.1 L554.7,790.1 Z" fill="#e8e23c"/>
<path d="M548.8,801.3 L552.3,807.3 L545.3,807.3 Z" fill="#e8e23c"/>
<rect x="579.2" y="728.3" width="5.2" height="5.2" fill="#e8e23c"/>
<path d="M569.8,762.7 L573.3,768.7 L566.3,768.7 Z" fill="#e8e23c"/>
<rect x="571.0" y="755.8" width="5.2" height="5.2" fill="#e8e23c"/>
<path d="M549.1,798.4 L552.6,804.4 L545.6,804.4 Z" fill="#e8e23c"/>
<path d="M565.0,761.5 L568.5,767.5 L561.5,767.5 Z" fill="#e8e23c"/>
<rect x="562.7" y="762.2" width="5.2" height="5.2" fill="#e8e23c"/>
<path d="M542.2,812.1 L545.7,818.1 L538.7,818.1 Z" fill="#e8e23c"/>
<path d="M553.3,775.8 L556.8,781.8 L549.8,781.8 Z" fill="#e8e23c"/>
<rect x="565.9" y="766.8" width="5.2" height="5.2" fill="#e8e23c"/>
<path d="M554.4,780.4 L557.9,786.4 L550.9,786.4 Z" fill="#e8e23c"/>
<path d="M557.3,777.0 L560.8,783.0 L553.8,783.0 Z" fill="#e8e23c"/>
<path d="M557.2,778.3 L560.7,784.3 L553.7,784.3 Z" fill="#e8e23c"/>
<rect x="597.9" y="695.4" width="5.2" height="5.2" fill="#e8e23c"/>
<path d="M569.3,748.5 L572.8,754.5 L565.8,754.5 Z" fill="#e8e23c"/>
<path d="M578.7,743.8 L582.2,749.8 L575.2,749.8 Z" fill="#e8e23c"/>
<path d="M563.7,765.5 L567.2,771.5 L560.2,771.5 Z" fill="#e8e23c"/>
<path d="M552.3,784.9 L555.8,790.9 L548.8,790.9 Z" fill="#e8e23c"/>
<path d="M580.8,722.4 L584.3,728.4 L577.3,728.4 Z" fill="#e8e23c"/>
<rect x="571.0" y="736.3" width="5.2" height="5.2" fill="#e8e23c"/>
<path d="M563.4,774.1 L566.9,780.1 L559.9,780.1 Z" fill="#e8e23c"/>
<path d="M529.4,836.8 L532.9,842.8 L525.9,842.8 Z" fill="#e8e23c"/>
<path d="M576.3,739.5 L579.8,745.5 L572.8,745.5 Z" fill="#e8e23c"/>
<path d="M583.3,712.6 L586.8,718.6 L579.8,718.6 Z" fill="#e8e23c"/>
<path d="M552.6,783.5 L556.1,789.5 L549.1,789.5 Z" fill="#e8e23c"/>
<rect x="581.8" y="728.7" width="5.2" height="5.2" fill="#e8e23c"/>
<path d="M583.4,737.9 L586.9,743.9 L579.9,743.9 Z" fill="#e8e23c"/>
<path d="M538.4,811.2 L541.9,817.2 L534.9,817.2 Z" fill="#e8e23c"/>
<path d="M540.4,796.1 L543.9,802.1 L536.9,802.1 Z" fill="#e8e23c"/>
<rect x="567.9" y="756.4" width="5.2" height="5.2" fill="#e8e23c"/>
<path d="M579.2,728.4 L582.7,734.4 L575.7,734.4 Z" fill="#e8e23c"/>
<path d="M557.8,768.9 L561.3,774.9 L554.3,774.9 Z" fill="#e8e23c"/>
<circle cx="561.0" cy="717.1" r="2.90" fill="#e8e23c"/>
<circle cx="565.2" cy="716.7" r="2.90" fill="#e8e23c"/>
<circle cx="564.2" cy="721.2" r="2.90" fill="#e8e23c"/>
<circle cx="568.3" cy="723.3" r="2.90" fill="#e8e23c"/>
<circle cx="571.5" cy="721.2" r="2.90" fill="#e8e23c"/>
<circle cx="548.5" cy="773.3" r="2.90" fill="#e8e23c"/>
<path d="M593.3,704.0 L596.8,710.0 L589.8,710.0 Z" fill="#e8e23c"/>
<path d="M596.5,707.1 L600.0,713.1 L593.0,713.1 Z" fill="#e8e23c"/>
<path d="M516.2,863.4 L519.8,869.4 L512.8,869.4 Z" fill="#e8e23c"/>
<path d="M522.5,838.4 L526.0,844.4 L519.0,844.4 Z" fill="#e8e23c"/>
<path d="M586.8,765.7 L590.3,771.7 L583.3,771.7 Z" fill="#ee7f1c"/>
<rect x="557.6" y="816.4" width="5.2" height="5.2" fill="#ee7f1c"/>
<path d="M593.4,767.0 L596.9,773.0 L589.9,773.0 Z" fill="#ee7f1c"/>
<path d="M576.7,784.6 L580.2,790.6 L573.2,790.6 Z" fill="#ee7f1c"/>
<path d="M571.2,783.3 L574.7,789.3 L567.7,789.3 Z" fill="#ee7f1c"/>
<path d="M575.1,777.9 L578.6,783.9 L571.6,783.9 Z" fill="#ee7f1c"/>
<path d="M581.4,764.6 L584.9,770.6 L577.9,770.6 Z" fill="#ee7f1c"/>
<path d="M563.0,817.4 L566.5,823.4 L559.5,823.4 Z" fill="#ee7f1c"/>
<rect x="547.7" y="820.9" width="5.2" height="5.2" fill="#ee7f1c"/>
<path d="M604.1,746.3 L607.6,752.3 L600.6,752.3 Z" fill="#ee7f1c"/>
<path d="M559.1,806.4 L562.6,812.4 L555.6,812.4 Z" fill="#ee7f1c"/>
<path d="M588.9,770.1 L592.4,776.1 L585.4,776.1 Z" fill="#ee7f1c"/>
<path d="M584.1,766.8 L587.6,772.8 L580.6,772.8 Z" fill="#ee7f1c"/>
<path d="M586.6,770.0 L590.1,776.0 L583.1,776.0 Z" fill="#ee7f1c"/>
<rect x="572.0" y="796.2" width="5.2" height="5.2" fill="#ee7f1c"/>
<path d="M575.4,801.2 L578.9,807.2 L571.9,807.2 Z" fill="#ee7f1c"/>
<path d="M582.5,779.4 L586.0,785.4 L579.0,785.4 Z" fill="#ee7f1c"/>
<path d="M588.2,777.4 L591.7,783.4 L584.7,783.4 Z" fill="#ee7f1c"/>
<circle cx="603.2" cy="749.4" r="2.90" fill="#ee7f1c"/>
<path d="M586.9,754.9 L590.4,760.9 L583.4,760.9 Z" fill="#ee7f1c"/>
<path d="M577.0,775.0 L580.5,781.0 L573.5,781.0 Z" fill="#ee7f1c"/>
<rect x="570.4" y="795.3" width="5.2" height="5.2" fill="#ee7f1c"/>
<path d="M567.9,799.3 L571.4,805.3 L564.4,805.3 Z" fill="#ee7f1c"/>
<path d="M594.2,754.5 L597.7,760.5 L590.7,760.5 Z" fill="#ee7f1c"/>
<path d="M567.8,797.0 L571.3,803.0 L564.3,803.0 Z" fill="#ee7f1c"/>
<path d="M584.3,765.6 L587.8,771.6 L580.8,771.6 Z" fill="#ee7f1c"/>
<path d="M597.0,746.1 L600.5,752.1 L593.5,752.1 Z" fill="#ee7f1c"/>
<circle cx="602.7" cy="738.2" r="2.90" fill="#ee7f1c"/>
<rect x="566.0" y="792.7" width="5.2" height="5.2" fill="#ee7f1c"/>
<path d="M554.1,828.2 L557.6,834.2 L550.6,834.2 Z" fill="#ee7f1c"/>
<circle cx="608.0" cy="746.7" r="2.90" fill="#ee7f1c"/>
<circle cx="607.6" cy="744.8" r="2.90" fill="#ee7f1c"/>
<path d="M588.9,776.7 L592.4,782.7 L585.4,782.7 Z" fill="#ee7f1c"/>
<rect x="548.4" y="830.3" width="5.2" height="5.2" fill="#ee7f1c"/>
<rect x="556.8" y="823.7" width="5.2" height="5.2" fill="#ee7f1c"/>
<path d="M588.5,760.8 L592.0,766.8 L585.0,766.8 Z" fill="#ee7f1c"/>
<path d="M595.8,762.9 L599.3,768.9 L592.3,768.9 Z" fill="#ee7f1c"/>
<circle cx="612.8" cy="737.9" r="2.90" fill="#ee7f1c"/>
<path d="M566.3,789.8 L569.8,795.8 L562.8,795.8 Z" fill="#ee7f1c"/>
<path d="M562.8,804.7 L566.3,810.7 L559.3,810.7 Z" fill="#ee7f1c"/>
<path d="M593.6,749.3 L597.1,755.3 L590.1,755.3 Z" fill="#ee7f1c"/>
<rect x="560.0" y="796.3" width="5.2" height="5.2" fill="#ee7f1c"/>
<rect x="573.6" y="793.8" width="5.2" height="5.2" fill="#ee7f1c"/>
<path d="M598.8,747.1 L602.3,753.1 L595.3,753.1 Z" fill="#ee7f1c"/>
<rect x="552.4" y="820.9" width="5.2" height="5.2" fill="#ee7f1c"/>
<path d="M581.2,780.9 L584.7,786.9 L577.7,786.9 Z" fill="#ee7f1c"/>
<path d="M570.7,793.4 L574.2,799.4 L567.2,799.4 Z" fill="#ee7f1c"/>
<circle cx="604.6" cy="752.0" r="2.90" fill="#ee7f1c"/>
<path d="M588.8,759.4 L592.3,765.4 L585.3,765.4 Z" fill="#ee7f1c"/>
<path d="M575.9,783.3 L579.4,789.3 L572.4,789.3 Z" fill="#ee7f1c"/>
<path d="M581.7,784.9 L585.2,790.9 L578.2,790.9 Z" fill="#ee7f1c"/>
<path d="M584.3,768.7 L587.8,774.7 L580.8,774.7 Z" fill="#ee7f1c"/>
<rect x="556.9" y="820.8" width="5.2" height="5.2" fill="#ee7f1c"/>
<path d="M571.6,787.4 L575.1,793.4 L568.1,793.4 Z" fill="#ee7f1c"/>
<path d="M591.1,758.3 L594.6,764.3 L587.6,764.3 Z" fill="#ee7f1c"/>
<path d="M570.6,790.4 L574.1,796.4 L567.1,796.4 Z" fill="#ee7f1c"/>
<path d="M549.6,829.6 L553.1,835.6 L546.1,835.6 Z" fill="#ee7f1c"/>
<rect x="552.4" y="812.0" width="5.2" height="5.2" fill="#ee7f1c"/>
<path d="M588.6,768.3 L592.1,774.3 L585.1,774.3 Z" fill="#ee7f1c"/>
<path d="M591.3,770.4 L594.8,776.4 L587.8,776.4 Z" fill="#ee7f1c"/>
<path d="M558.3,805.2 L561.8,811.2 L554.8,811.2 Z" fill="#ee7f1c"/>
<path d="M564.0,807.4 L567.5,813.4 L560.5,813.4 Z" fill="#ee7f1c"/>
<circle cx="610.0" cy="722.3" r="2.90" fill="#ee7f1c"/>
<circle cx="612.1" cy="729.6" r="2.90" fill="#ee7f1c"/>
<circle cx="621.5" cy="725.8" r="2.90" fill="#ee7f1c"/>
<circle cx="628.8" cy="727.1" r="2.90" fill="#ee7f1c"/>
<circle cx="620.4" cy="729.6" r="2.90" fill="#ee7f1c"/>
<circle cx="602.7" cy="731.2" r="2.90" fill="#ee7f1c"/>
<circle cx="612.1" cy="744.6" r="2.90" fill="#ee7f1c"/>
<circle cx="546.5" cy="854.2" r="2.90" fill="#ee7f1c"/>
<rect x="623.7" y="764.2" width="5.2" height="5.2" fill="#d22b26"/>
<path d="M650.8,757.6 L654.3,763.6 L647.3,763.6 Z" fill="#d22b26"/>
<circle cx="666.1" cy="755.9" r="2.90" fill="#d22b26"/>
<path d="M627.9,764.4 L631.4,770.4 L624.4,770.4 Z" fill="#d22b26"/>
<path d="M648.3,759.6 L651.8,765.6 L644.8,765.6 Z" fill="#d22b26"/>
<path d="M663.0,743.3 L666.5,749.3 L659.5,749.3 Z" fill="#d22b26"/>
<path d="M666.6,751.3 L670.1,757.3 L663.1,757.3 Z" fill="#d22b26"/>
<path d="M651.5,763.5 L655.0,769.5 L648.0,769.5 Z" fill="#d22b26"/>
<path d="M626.1,777.2 L629.6,783.2 L622.6,783.2 Z" fill="#d22b26"/>
<path d="M651.0,754.1 L654.5,760.1 L647.5,760.1 Z" fill="#d22b26"/>
<path d="M648.0,761.8 L651.5,767.8 L644.5,767.8 Z" fill="#d22b26"/>
<path d="M641.9,750.3 L645.4,756.3 L638.4,756.3 Z" fill="#d22b26"/>
<path d="M645.9,756.7 L649.4,762.7 L642.4,762.7 Z" fill="#d22b26"/>
<path d="M646.1,760.1 L649.6,766.1 L642.6,766.1 Z" fill="#d22b26"/>
<path d="M647.7,764.4 L651.2,770.4 L644.2,770.4 Z" fill="#d22b26"/>
<path d="M656.8,759.9 L660.3,765.9 L653.3,765.9 Z" fill="#d22b26"/>
<path d="M637.5,758.8 L641.0,764.8 L634.0,764.8 Z" fill="#d22b26"/>
<path d="M630.6,770.5 L634.1,776.5 L627.1,776.5 Z" fill="#d22b26"/>
<path d="M628.7,770.2 L632.2,776.2 L625.2,776.2 Z" fill="#d22b26"/>
<path d="M629.9,781.6 L633.4,787.6 L626.4,787.6 Z" fill="#d22b26"/>
<path d="M643.7,769.4 L647.2,775.4 L640.2,775.4 Z" fill="#d22b26"/>
<path d="M645.2,770.9 L648.7,776.9 L641.7,776.9 Z" fill="#d22b26"/>
<path d="M629.7,778.5 L633.2,784.5 L626.2,784.5 Z" fill="#d22b26"/>
<path d="M640.2,764.6 L643.7,770.6 L636.7,770.6 Z" fill="#d22b26"/>
<path d="M626.8,763.4 L630.3,769.4 L623.3,769.4 Z" fill="#d22b26"/>
<path d="M625.3,776.0 L628.8,782.0 L621.8,782.0 Z" fill="#d22b26"/>
<path d="M646.9,768.3 L650.4,774.3 L643.4,774.3 Z" fill="#d22b26"/>
<path d="M641.6,753.9 L645.1,759.9 L638.1,759.9 Z" fill="#d22b26"/>
<path d="M644.9,773.7 L648.4,779.7 L641.4,779.7 Z" fill="#d22b26"/>
<path d="M625.4,786.0 L628.9,792.0 L621.9,792.0 Z" fill="#d22b26"/>
<path d="M643.6,772.5 L647.1,778.5 L640.1,778.5 Z" fill="#d22b26"/>
<path d="M637.2,782.2 L640.7,788.2 L633.7,788.2 Z" fill="#d22b26"/>
<circle cx="658.2" cy="756.1" r="2.90" fill="#d22b26"/>
<path d="M639.2,751.6 L642.7,757.6 L635.7,757.6 Z" fill="#d22b26"/>
<path d="M647.6,756.9 L651.1,762.9 L644.1,762.9 Z" fill="#d22b26"/>
<path d="M644.3,765.8 L647.8,771.8 L640.8,771.8 Z" fill="#d22b26"/>
<rect x="614.2" y="784.0" width="5.2" height="5.2" fill="#d22b26"/>
<circle cx="659.1" cy="745.6" r="2.90" fill="#d22b26"/>
<path d="M646.5,765.8 L650.0,771.8 L643.0,771.8 Z" fill="#d22b26"/>
<path d="M668.3,749.6 L671.8,755.6 L664.8,755.6 Z" fill="#d22b26"/>
<path d="M634.6,765.6 L638.1,771.6 L631.1,771.6 Z" fill="#d22b26"/>
<path d="M622.0,786.6 L625.5,792.6 L618.5,792.6 Z" fill="#d22b26"/>
<path d="M669.5,740.2 L673.0,746.2 L666.0,746.2 Z" fill="#d22b26"/>
<path d="M638.0,773.6 L641.5,779.6 L634.5,779.6 Z" fill="#d22b26"/>
<path d="M649.3,771.0 L652.8,777.0 L645.8,777.0 Z" fill="#d22b26"/>
<path d="M638.9,781.6 L642.4,787.6 L635.4,787.6 Z" fill="#d22b26"/>
<path d="M650.4,755.9 L653.9,761.9 L646.9,761.9 Z" fill="#d22b26"/>
<path d="M651.8,759.1 L655.3,765.1 L648.3,765.1 Z" fill="#d22b26"/>
<rect x="620.8" y="779.0" width="5.2" height="5.2" fill="#d22b26"/>
<path d="M635.9,757.6 L639.4,763.6 L632.4,763.6 Z" fill="#d22b26"/>
<path d="M650.6,759.3 L654.1,765.3 L647.1,765.3 Z" fill="#d22b26"/>
<path d="M636.8,763.8 L640.3,769.8 L633.3,769.8 Z" fill="#d22b26"/>
<path d="M639.1,780.2 L642.6,786.2 L635.6,786.2 Z" fill="#d22b26"/>
<path d="M645.8,769.8 L649.3,775.8 L642.3,775.8 Z" fill="#d22b26"/>
<path d="M657.1,748.5 L660.6,754.5 L653.6,754.5 Z" fill="#d22b26"/>
<path d="M648.1,772.3 L651.6,778.3 L644.6,778.3 Z" fill="#d22b26"/>
<path d="M652.3,752.9 L655.8,758.9 L648.8,758.9 Z" fill="#d22b26"/>
<rect x="624.7" y="779.0" width="5.2" height="5.2" fill="#d22b26"/>
<path d="M603.4,795.6 L606.9,801.6 L599.9,801.6 Z" fill="#d22b26"/>
<path d="M596.7,803.8 L600.2,809.8 L593.2,809.8 Z" fill="#d22b26"/>
<path d="M602.3,805.7 L605.8,811.7 L598.8,811.7 Z" fill="#d22b26"/>
<path d="M593.2,806.5 L596.7,812.5 L589.7,812.5 Z" fill="#d22b26"/>
<path d="M604.7,791.5 L608.2,797.5 L601.2,797.5 Z" fill="#d22b26"/>
<path d="M608.1,800.7 L611.6,806.7 L604.6,806.7 Z" fill="#d22b26"/>
<path d="M594.9,804.6 L598.4,810.6 L591.4,810.6 Z" fill="#d22b26"/>
<rect x="590.9" y="811.2" width="5.2" height="5.2" fill="#d22b26"/>
<path d="M595.3,807.0 L598.8,813.0 L591.8,813.0 Z" fill="#d22b26"/>
<path d="M592.8,808.3 L596.3,814.3 L589.3,814.3 Z" fill="#d22b26"/>
<path d="M608.5,795.8 L612.0,801.8 L605.0,801.8 Z" fill="#d22b26"/>
<path d="M605.9,803.7 L609.4,809.7 L602.4,809.7 Z" fill="#d22b26"/>
<path d="M586.9,816.7 L590.4,822.7 L583.4,822.7 Z" fill="#d22b26"/>
<path d="M595.5,806.5 L599.0,812.5 L592.0,812.5 Z" fill="#d22b26"/>
<path d="M518.3,870.7 L521.8,876.7 L514.8,876.7 Z" fill="#d22b26"/>
<path d="M521.5,872.7 L525.0,878.7 L518.0,878.7 Z" fill="#d22b26"/>
<path d="M522.5,871.7 L526.0,877.7 L519.0,877.7 Z" fill="#d22b26"/>
<path d="M560.0,840.9 L563.5,846.9 L556.5,846.9 Z" fill="#d22b26"/>
<rect x="661.1" y="789.5" width="5.2" height="5.2" fill="#d22b26"/>
<circle cx="641.2" cy="744.2" r="2.90" fill="#d22b26"/>
<circle cx="644.4" cy="746.2" r="2.90" fill="#d22b26"/>
<circle cx="656.9" cy="756.2" r="2.90" fill="#d22b26"/>
<circle cx="660.0" cy="760.8" r="2.90" fill="#d22b26"/>
<text x="709.9" y="708.3" font-size="16" text-anchor="start" fill="#111" >Group</text>
<circle cx="718.0" cy="722.5" r="4.4" fill="#000"/>
<text x="730.3" y="725.4" font-size="16" text-anchor="start" fill="#111" >NC</text>
<path d="M718.0,732.1 L724.1,742.7 L711.9,742.7 Z" fill="#000"/>
<text x="730.3" y="741.1" font-size="16" text-anchor="start" fill="#111" >WG</text>
<rect x="713.5" y="751.1" width="9.0" height="8.2" fill="#000" stroke="none" stroke-width="1" />
<text x="730.3" y="757.1" font-size="16" text-anchor="start" fill="#111" >WL</text>
<text x="709.9" y="791.0" font-size="16" text-anchor="start" fill="#111" >Tissue</text>
<rect x="711.6" y="799.0" width="12.5" height="12.6" fill="#d22b26" stroke="none" stroke-width="1" />
<text x="729.8" y="810.5" font-size="16.3" text-anchor="start" fill="#111" >GOM</text>
<rect x="711.6" y="814.9" width="12.5" height="12.6" fill="#ee7f1c" stroke="none" stroke-width="1" />
<text x="729.8" y="826.4" font-size="16.3" text-anchor="start" fill="#111" >MAD</text>
<rect x="711.6" y="830.9" width="12.5" height="12.6" fill="#e8e23c" stroke="none" stroke-width="1" />
<text x="729.8" y="842.4" font-size="16.3" text-anchor="start" fill="#111" >RAD</text>
<rect x="711.6" y="846.8" width="12.5" height="12.6" fill="#45a144" stroke="none" stroke-width="1" />
<text x="729.8" y="858.3" font-size="16.3" text-anchor="start" fill="#111" >ULB</text>
<text x="790.4" y="664.0" font-size="23.5" text-anchor="start" fill="#000" font-weight="bold" >i</text>
<text x="970.8" y="661.7" font-size="16.2" text-anchor="middle" fill="#111" >IS</text>
<rect x="858.2" y="671.1" width="230.7" height="216.9" fill="none" stroke="#222" stroke-width="1.3" />
<line x1="854.7" y1="672.1" x2="858.2" y2="672.1" stroke="#222" stroke-width="1.2" />
<text x="846.5" y="676.3" font-size="15.5" text-anchor="end" fill="#111" >5</text>
<line x1="854.7" y1="726.2" x2="858.2" y2="726.2" stroke="#222" stroke-width="1.2" />
<text x="846.5" y="730.5" font-size="15.5" text-anchor="end" fill="#111" >2.5</text>
<line x1="854.7" y1="780.4" x2="858.2" y2="780.4" stroke="#222" stroke-width="1.2" />
<text x="846.5" y="784.6" font-size="15.5" text-anchor="end" fill="#111" >0</text>
<line x1="854.7" y1="834.5" x2="858.2" y2="834.5" stroke="#222" stroke-width="1.2" />
<text x="846.5" y="838.7" font-size="15.5" text-anchor="end" fill="#111" >−2.5</text>
<line x1="865.3" y1="888.0" x2="865.3" y2="891.5" stroke="#222" stroke-width="1.2" />
<text x="865.3" y="909.7" font-size="15.5" text-anchor="middle" fill="#111" >−5</text>
<line x1="922.5" y1="888.0" x2="922.5" y2="891.5" stroke="#222" stroke-width="1.2" />
<text x="922.5" y="909.7" font-size="15.5" text-anchor="middle" fill="#111" >−2.5</text>
<line x1="980.0" y1="888.0" x2="980.0" y2="891.5" stroke="#222" stroke-width="1.2" />
<text x="980.0" y="909.7" font-size="15.5" text-anchor="middle" fill="#111" >0</text>
<line x1="1037.4" y1="888.0" x2="1037.4" y2="891.5" stroke="#222" stroke-width="1.2" />
<text x="1037.4" y="909.7" font-size="15.5" text-anchor="middle" fill="#111" >2.5</text>
<text x="971.8" y="925.5" font-size="16.2" text-anchor="middle" fill="#111" >Dimension 1</text>
<text x="813.0" y="768.0" font-size="16.2" text-anchor="middle" fill="#111" transform="rotate(-90 813 768)">Dimension 2</text>
<ellipse cx="1042.9" cy="716.0" rx="37.0" ry="33.0" transform="rotate(60.0 1042.9 716.0)" fill="#d22b26" fill-opacity="0.25" stroke="#d22b26" stroke-width="1.5"/>
<ellipse cx="954.5" cy="785.5" rx="68.2" ry="20.2" transform="rotate(30.6 954.5 785.5)" fill="#e8e23c" fill-opacity="0.25" stroke="#e8e23c" stroke-width="1.5"/>
<ellipse cx="1001.0" cy="778.7" rx="61.5" ry="18.0" transform="rotate(30.4 1001.0 778.7)" fill="#ee7f1c" fill-opacity="0.25" stroke="#ee7f1c" stroke-width="1.5"/>
<ellipse cx="915.3" cy="846.7" rx="53.0" ry="21.0" transform="rotate(28.0 915.3 846.7)" fill="#45a144" fill-opacity="0.25" stroke="#45a144" stroke-width="1.5"/>
<path d="M969.2,793.9 L972.7,799.9 L965.7,799.9 Z" fill="#e8e23c"/>
<path d="M982.7,791.2 L986.2,797.2 L979.2,797.2 Z" fill="#e8e23c"/>
<path d="M976.7,802.3 L980.2,808.3 L973.2,808.3 Z" fill="#e8e23c"/>
<path d="M976.3,787.8 L979.8,793.8 L972.8,793.8 Z" fill="#e8e23c"/>
<path d="M957.4,778.0 L960.9,784.0 L953.9,784.0 Z" fill="#e8e23c"/>
<path d="M957.2,763.2 L960.7,769.2 L953.7,769.2 Z" fill="#e8e23c"/>
<path d="M972.4,790.3 L975.9,796.3 L968.9,796.3 Z" fill="#e8e23c"/>
<path d="M964.6,791.8 L968.1,797.8 L961.1,797.8 Z" fill="#e8e23c"/>
<path d="M961.1,786.6 L964.6,792.6 L957.6,792.6 Z" fill="#e8e23c"/>
<path d="M962.9,794.5 L966.4,800.5 L959.4,800.5 Z" fill="#e8e23c"/>
<path d="M971.1,808.5 L974.6,814.5 L967.6,814.5 Z" fill="#e8e23c"/>
<path d="M925.6,758.9 L929.1,764.9 L922.1,764.9 Z" fill="#e8e23c"/>
<circle cx="940.0" cy="772.9" r="2.90" fill="#e8e23c"/>
<path d="M950.8,790.3 L954.3,796.3 L947.3,796.3 Z" fill="#e8e23c"/>
<path d="M944.7,777.8 L948.2,783.8 L941.2,783.8 Z" fill="#e8e23c"/>
<path d="M970.2,780.4 L973.7,786.4 L966.7,786.4 Z" fill="#e8e23c"/>
<path d="M961.6,788.0 L965.1,794.0 L958.1,794.0 Z" fill="#e8e23c"/>
<path d="M974.7,796.4 L978.2,802.4 L971.2,802.4 Z" fill="#e8e23c"/>
<path d="M955.8,785.3 L959.3,791.3 L952.3,791.3 Z" fill="#e8e23c"/>
<path d="M995.1,801.0 L998.6,807.0 L991.6,807.0 Z" fill="#e8e23c"/>
<path d="M983.2,787.6 L986.7,793.6 L979.7,793.6 Z" fill="#e8e23c"/>
<circle cx="935.8" cy="774.0" r="2.90" fill="#e8e23c"/>
<path d="M954.6,775.0 L958.1,781.0 L951.1,781.0 Z" fill="#e8e23c"/>
<path d="M919.0,759.9 L922.5,765.9 L915.5,765.9 Z" fill="#e8e23c"/>
<path d="M947.8,773.2 L951.3,779.2 L944.3,779.2 Z" fill="#e8e23c"/>
<path d="M960.7,785.5 L964.2,791.5 L957.2,791.5 Z" fill="#e8e23c"/>
<path d="M962.9,777.7 L966.4,783.7 L959.4,783.7 Z" fill="#e8e23c"/>
<path d="M982.7,793.0 L986.2,799.0 L979.2,799.0 Z" fill="#e8e23c"/>
<path d="M945.3,782.1 L948.8,788.1 L941.8,788.1 Z" fill="#e8e23c"/>
<path d="M987.1,809.4 L990.6,815.4 L983.6,815.4 Z" fill="#e8e23c"/>
<path d="M957.9,801.6 L961.4,807.6 L954.4,807.6 Z" fill="#e8e23c"/>
<circle cx="896.1" cy="753.5" r="2.90" fill="#e8e23c"/>
<path d="M958.6,781.7 L962.1,787.7 L955.1,787.7 Z" fill="#e8e23c"/>
<path d="M955.1,783.0 L958.6,789.0 L951.6,789.0 Z" fill="#e8e23c"/>
<path d="M954.3,766.1 L957.8,772.1 L950.8,772.1 Z" fill="#e8e23c"/>
<path d="M943.6,778.9 L947.1,784.9 L940.1,784.9 Z" fill="#e8e23c"/>
<path d="M953.1,792.3 L956.6,798.3 L949.6,798.3 Z" fill="#e8e23c"/>
<path d="M957.1,782.7 L960.6,788.7 L953.6,788.7 Z" fill="#e8e23c"/>
<path d="M947.9,791.2 L951.4,797.2 L944.4,797.2 Z" fill="#e8e23c"/>
<path d="M996.9,817.9 L1000.4,823.9 L993.4,823.9 Z" fill="#e8e23c"/>
<path d="M1008.2,809.8 L1011.7,815.8 L1004.7,815.8 Z" fill="#e8e23c"/>
<path d="M983.1,805.1 L986.6,811.1 L979.6,811.1 Z" fill="#e8e23c"/>
<path d="M944.8,776.0 L948.3,782.0 L941.3,782.0 Z" fill="#e8e23c"/>
<path d="M950.9,788.9 L954.4,794.9 L947.4,794.9 Z" fill="#e8e23c"/>
<path d="M937.7,771.5 L941.2,777.5 L934.2,777.5 Z" fill="#e8e23c"/>
<circle cx="939.3" cy="769.6" r="2.90" fill="#e8e23c"/>
<circle cx="911.0" cy="758.6" r="2.90" fill="#e8e23c"/>
<path d="M986.8,809.7 L990.3,815.7 L983.3,815.7 Z" fill="#e8e23c"/>
<path d="M929.4,775.3 L932.9,781.3 L925.9,781.3 Z" fill="#e8e23c"/>
<circle cx="941.1" cy="776.9" r="2.90" fill="#e8e23c"/>
<path d="M956.3,789.6 L959.8,795.6 L952.8,795.6 Z" fill="#e8e23c"/>
<path d="M938.0,776.7 L941.5,782.7 L934.5,782.7 Z" fill="#e8e23c"/>
<path d="M965.7,780.7 L969.2,786.7 L962.2,786.7 Z" fill="#e8e23c"/>
<path d="M929.9,762.0 L933.4,768.0 L926.4,768.0 Z" fill="#e8e23c"/>
<path d="M973.8,802.3 L977.3,808.3 L970.3,808.3 Z" fill="#e8e23c"/>
<path d="M934.2,772.5 L937.7,778.5 L930.7,778.5 Z" fill="#e8e23c"/>
<path d="M947.0,725.2 L950.5,731.2 L943.5,731.2 Z" fill="#e8e23c"/>
<path d="M955.1,731.7 L958.6,737.7 L951.6,737.7 Z" fill="#e8e23c"/>
<path d="M956.2,733.1 L959.7,739.1 L952.7,739.1 Z" fill="#e8e23c"/>
<circle cx="911.2" cy="792.0" r="2.90" fill="#e8e23c"/>
<rect x="1005.6" y="818.6" width="5.2" height="5.2" fill="#e8e23c"/>
<rect x="1011.8" y="820.6" width="5.2" height="5.2" fill="#e8e23c"/>
<rect x="1015.8" y="814.5" width="5.2" height="5.2" fill="#e8e23c"/>
<rect x="1023.0" y="813.5" width="5.2" height="5.2" fill="#e8e23c"/>
<rect x="1030.1" y="810.4" width="5.2" height="5.2" fill="#e8e23c"/>
<path d="M1000.1,824.6 L1003.6,830.6 L996.6,830.6 Z" fill="#e8e23c"/>
<circle cx="989.9" cy="826.3" r="2.90" fill="#e8e23c"/>
<path d="M973.0,752.8 L976.5,758.8 L969.5,758.8 Z" fill="#ee7f1c"/>
<path d="M989.2,781.5 L992.7,787.5 L985.7,787.5 Z" fill="#ee7f1c"/>
<path d="M1015.3,780.1 L1018.8,786.1 L1011.8,786.1 Z" fill="#ee7f1c"/>
<path d="M983.3,757.1 L986.8,763.1 L979.8,763.1 Z" fill="#ee7f1c"/>
<path d="M976.3,758.7 L979.8,764.7 L972.8,764.7 Z" fill="#ee7f1c"/>
<path d="M990.3,762.7 L993.8,768.7 L986.8,768.7 Z" fill="#ee7f1c"/>
<path d="M993.1,770.4 L996.6,776.4 L989.6,776.4 Z" fill="#ee7f1c"/>
<path d="M1003.1,766.3 L1006.6,772.3 L999.6,772.3 Z" fill="#ee7f1c"/>
<path d="M1030.6,787.1 L1034.1,793.1 L1027.1,793.1 Z" fill="#ee7f1c"/>
<path d="M1006.1,780.1 L1009.6,786.1 L1002.6,786.1 Z" fill="#ee7f1c"/>
<path d="M994.7,777.6 L998.2,783.6 L991.2,783.6 Z" fill="#ee7f1c"/>
<path d="M1003.1,771.4 L1006.6,777.4 L999.6,777.4 Z" fill="#ee7f1c"/>
<circle cx="998.6" cy="784.8" r="2.90" fill="#ee7f1c"/>
<path d="M981.4,762.3 L984.9,768.3 L977.9,768.3 Z" fill="#ee7f1c"/>
<circle cx="1003.7" cy="784.5" r="2.90" fill="#ee7f1c"/>
<path d="M1033.5,782.9 L1037.0,788.9 L1030.0,788.9 Z" fill="#ee7f1c"/>
<circle cx="1009.0" cy="787.2" r="2.90" fill="#ee7f1c"/>
<path d="M996.4,775.2 L999.9,781.2 L992.9,781.2 Z" fill="#ee7f1c"/>
<path d="M1003.0,782.0 L1006.5,788.0 L999.5,788.0 Z" fill="#ee7f1c"/>
<path d="M973.7,761.7 L977.2,767.7 L970.2,767.7 Z" fill="#ee7f1c"/>
<path d="M962.1,748.2 L965.6,754.2 L958.6,754.2 Z" fill="#ee7f1c"/>
<rect x="1021.1" y="794.0" width="5.2" height="5.2" fill="#ee7f1c"/>
<path d="M1005.2,772.9 L1008.7,778.9 L1001.7,778.9 Z" fill="#ee7f1c"/>
<rect x="1027.6" y="794.3" width="5.2" height="5.2" fill="#ee7f1c"/>
<path d="M973.2,776.7 L976.7,782.7 L969.7,782.7 Z" fill="#ee7f1c"/>
<path d="M1011.4,790.5 L1014.9,796.5 L1007.9,796.5 Z" fill="#ee7f1c"/>
<path d="M1010.6,781.5 L1014.1,787.5 L1007.1,787.5 Z" fill="#ee7f1c"/>
<path d="M1002.1,765.3 L1005.6,771.3 L998.6,771.3 Z" fill="#ee7f1c"/>
<path d="M982.6,763.9 L986.1,769.9 L979.1,769.9 Z" fill="#ee7f1c"/>
<circle cx="1028.7" cy="792.4" r="2.90" fill="#ee7f1c"/>
<path d="M962.2,762.4 L965.7,768.4 L958.7,768.4 Z" fill="#ee7f1c"/>
<path d="M1011.4,784.8 L1014.9,790.8 L1007.9,790.8 Z" fill="#ee7f1c"/>
<path d="M989.2,762.7 L992.7,768.7 L985.7,768.7 Z" fill="#ee7f1c"/>
<path d="M1017.3,775.8 L1020.8,781.8 L1013.8,781.8 Z" fill="#ee7f1c"/>
<path d="M1047.7,793.8 L1051.2,799.8 L1044.2,799.8 Z" fill="#ee7f1c"/>
<path d="M979.1,756.3 L982.6,762.3 L975.6,762.3 Z" fill="#ee7f1c"/>
<path d="M978.7,751.3 L982.2,757.3 L975.2,757.3 Z" fill="#ee7f1c"/>
<path d="M1015.1,787.3 L1018.6,793.3 L1011.6,793.3 Z" fill="#ee7f1c"/>
<path d="M988.0,764.6 L991.5,770.6 L984.5,770.6 Z" fill="#ee7f1c"/>
<path d="M1010.2,779.3 L1013.7,785.3 L1006.7,785.3 Z" fill="#ee7f1c"/>
<path d="M1010.6,768.5 L1014.1,774.5 L1007.1,774.5 Z" fill="#ee7f1c"/>
<path d="M1000.2,773.5 L1003.7,779.5 L996.7,779.5 Z" fill="#ee7f1c"/>
<circle cx="1008.1" cy="778.2" r="2.90" fill="#ee7f1c"/>
<path d="M1041.3,800.8 L1044.8,806.8 L1037.8,806.8 Z" fill="#ee7f1c"/>
<path d="M1000.6,779.3 L1004.1,785.3 L997.1,785.3 Z" fill="#ee7f1c"/>
<path d="M1019.4,771.1 L1022.9,777.1 L1015.9,777.1 Z" fill="#ee7f1c"/>
<path d="M1041.6,795.7 L1045.1,801.7 L1038.1,801.7 Z" fill="#ee7f1c"/>
<path d="M1003.7,776.6 L1007.2,782.6 L1000.2,782.6 Z" fill="#ee7f1c"/>
<path d="M987.9,761.6 L991.4,767.6 L984.4,767.6 Z" fill="#ee7f1c"/>
<path d="M987.0,774.2 L990.5,780.2 L983.5,780.2 Z" fill="#ee7f1c"/>
<path d="M984.9,767.5 L988.4,773.5 L981.4,773.5 Z" fill="#ee7f1c"/>
<circle cx="1002.6" cy="784.3" r="2.90" fill="#ee7f1c"/>
<path d="M989.1,770.5 L992.6,776.5 L985.6,776.5 Z" fill="#ee7f1c"/>
<path d="M976.8,757.9 L980.3,763.9 L973.3,763.9 Z" fill="#ee7f1c"/>
<circle cx="1000.6" cy="780.5" r="2.90" fill="#ee7f1c"/>
<path d="M985.9,773.7 L989.4,779.7 L982.4,779.7 Z" fill="#ee7f1c"/>
<path d="M978.0,778.2 L981.5,784.2 L974.5,784.2 Z" fill="#ee7f1c"/>
<path d="M977.5,764.1 L981.0,770.1 L974.0,770.1 Z" fill="#ee7f1c"/>
<path d="M924.5,726.2 L928.0,732.2 L921.0,732.2 Z" fill="#ee7f1c"/>
<path d="M925.1,733.1 L928.6,739.1 L921.6,739.1 Z" fill="#ee7f1c"/>
<path d="M920.4,743.4 L923.9,749.4 L916.9,749.4 Z" fill="#ee7f1c"/>
<circle cx="1044.0" cy="773.2" r="2.90" fill="#ee7f1c"/>
<circle cx="1050.1" cy="826.3" r="2.90" fill="#ee7f1c"/>
<rect x="1025.0" y="828.8" width="5.2" height="5.2" fill="#ee7f1c"/>
<circle cx="938.8" cy="786.5" r="2.90" fill="#ee7f1c"/>
<path d="M888.9,826.4 L892.4,832.4 L885.4,832.4 Z" fill="#45a144"/>
<path d="M955.8,851.3 L959.3,857.3 L952.3,857.3 Z" fill="#45a144"/>
<path d="M937.8,851.4 L941.3,857.4 L934.3,857.4 Z" fill="#45a144"/>
<path d="M933.2,859.7 L936.7,865.7 L929.7,865.7 Z" fill="#45a144"/>
<path d="M904.9,852.0 L908.4,858.0 L901.4,858.0 Z" fill="#45a144"/>
<path d="M917.3,839.5 L920.8,845.5 L913.8,845.5 Z" fill="#45a144"/>
<path d="M908.8,853.1 L912.3,859.1 L905.3,859.1 Z" fill="#45a144"/>
<circle cx="893.2" cy="826.9" r="2.90" fill="#45a144"/>
<path d="M906.9,845.2 L910.4,851.2 L903.4,851.2 Z" fill="#45a144"/>
<circle cx="897.4" cy="828.5" r="2.90" fill="#45a144"/>
<path d="M899.6,838.4 L903.1,844.4 L896.1,844.4 Z" fill="#45a144"/>
<path d="M888.3,820.0 L891.8,826.0 L884.8,826.0 Z" fill="#45a144"/>
<path d="M911.1,846.0 L914.6,852.0 L907.6,852.0 Z" fill="#45a144"/>
<path d="M950.8,851.4 L954.3,857.4 L947.3,857.4 Z" fill="#45a144"/>
<path d="M922.5,837.2 L926.0,843.2 L919.0,843.2 Z" fill="#45a144"/>
<path d="M940.6,865.9 L944.1,871.9 L937.1,871.9 Z" fill="#45a144"/>
<circle cx="892.4" cy="840.2" r="2.90" fill="#45a144"/>
<path d="M909.7,847.7 L913.2,853.7 L906.2,853.7 Z" fill="#45a144"/>
<path d="M929.9,854.5 L933.4,860.5 L926.4,860.5 Z" fill="#45a144"/>
<circle cx="894.7" cy="834.1" r="2.90" fill="#45a144"/>
<path d="M933.6,849.5 L937.1,855.5 L930.1,855.5 Z" fill="#45a144"/>
<path d="M947.9,849.2 L951.4,855.2 L944.4,855.2 Z" fill="#45a144"/>
<circle cx="888.1" cy="818.5" r="2.90" fill="#45a144"/>
<path d="M917.4,834.5 L920.9,840.5 L913.9,840.5 Z" fill="#45a144"/>
<path d="M926.8,831.6 L930.3,837.6 L923.3,837.6 Z" fill="#45a144"/>
<path d="M901.5,842.2 L905.0,848.2 L898.0,848.2 Z" fill="#45a144"/>
<path d="M905.3,832.2 L908.8,838.2 L901.8,838.2 Z" fill="#45a144"/>
<path d="M929.7,853.6 L933.2,859.6 L926.2,859.6 Z" fill="#45a144"/>
<path d="M957.8,862.0 L961.3,868.0 L954.3,868.0 Z" fill="#45a144"/>
<path d="M920.0,837.3 L923.5,843.3 L916.5,843.3 Z" fill="#45a144"/>
<path d="M927.5,849.3 L931.0,855.3 L924.0,855.3 Z" fill="#45a144"/>
<path d="M935.8,852.9 L939.3,858.9 L932.3,858.9 Z" fill="#45a144"/>
<path d="M927.4,849.0 L930.9,855.0 L923.9,855.0 Z" fill="#45a144"/>
<circle cx="888.6" cy="821.9" r="2.90" fill="#45a144"/>
<path d="M922.6,830.2 L926.1,836.2 L919.1,836.2 Z" fill="#45a144"/>
<path d="M920.0,824.3 L923.5,830.3 L916.5,830.3 Z" fill="#45a144"/>
<circle cx="894.0" cy="832.2" r="2.90" fill="#45a144"/>
<circle cx="890.2" cy="836.3" r="2.90" fill="#45a144"/>
<path d="M924.8,856.5 L928.3,862.5 L921.3,862.5 Z" fill="#45a144"/>
<path d="M931.0,841.1 L934.5,847.1 L927.5,847.1 Z" fill="#45a144"/>
<path d="M897.5,848.3 L901.0,854.3 L894.0,854.3 Z" fill="#45a144"/>
<path d="M909.1,836.0 L912.6,842.0 L905.6,842.0 Z" fill="#45a144"/>
<path d="M916.2,828.5 L919.7,834.5 L912.7,834.5 Z" fill="#45a144"/>
<path d="M898.0,855.4 L901.5,861.4 L894.5,861.4 Z" fill="#45a144"/>
<circle cx="873.3" cy="826.3" r="2.90" fill="#45a144"/>
<path d="M891.4,827.6 L894.9,833.6 L887.9,833.6 Z" fill="#45a144"/>
<path d="M934.6,849.5 L938.1,855.5 L931.1,855.5 Z" fill="#45a144"/>
<path d="M893.7,852.7 L897.2,858.7 L890.2,858.7 Z" fill="#45a144"/>
<path d="M914.0,839.7 L917.5,845.7 L910.5,845.7 Z" fill="#45a144"/>
<path d="M922.5,858.0 L926.0,864.0 L919.0,864.0 Z" fill="#45a144"/>
<rect x="889.3" y="802.9" width="5.2" height="5.2" fill="#45a144"/>
<rect x="888.2" y="809.8" width="5.2" height="5.2" fill="#45a144"/>
<rect x="903.5" y="809.0" width="5.2" height="5.2" fill="#45a144"/>
<rect x="921.9" y="812.5" width="5.2" height="5.2" fill="#45a144"/>
<rect x="928.0" y="814.5" width="5.2" height="5.2" fill="#45a144"/>
<rect x="928.7" y="818.6" width="5.2" height="5.2" fill="#45a144"/>
<rect x="880.1" y="819.6" width="5.2" height="5.2" fill="#45a144"/>
<path d="M963.3,871.6 L966.8,877.6 L959.8,877.6 Z" fill="#45a144"/>
<path d="M972.5,870.5 L976.0,876.5 L969.0,876.5 Z" fill="#45a144"/>
<path d="M980.7,868.5 L984.2,874.5 L977.2,874.5 Z" fill="#45a144"/>
<rect x="980.1" y="868.2" width="5.2" height="5.2" fill="#45a144"/>
<path d="M1046.7,720.1 L1050.2,726.1 L1043.2,726.1 Z" fill="#d22b26"/>
<circle cx="1047.8" cy="708.6" r="2.90" fill="#d22b26"/>
<circle cx="1021.7" cy="732.2" r="2.90" fill="#d22b26"/>
<circle cx="1062.3" cy="703.0" r="2.90" fill="#d22b26"/>
<path d="M1036.8,694.0 L1040.3,700.0 L1033.3,700.0 Z" fill="#d22b26"/>
<circle cx="1047.0" cy="722.7" r="2.90" fill="#d22b26"/>
<path d="M1056.4,723.8 L1059.9,729.8 L1052.9,729.8 Z" fill="#d22b26"/>
<path d="M1027.4,711.8 L1030.9,717.8 L1023.9,717.8 Z" fill="#d22b26"/>
<path d="M1035.1,720.3 L1038.6,726.3 L1031.6,726.3 Z" fill="#d22b26"/>
<rect x="1055.6" y="714.7" width="5.2" height="5.2" fill="#d22b26"/>
<path d="M1052.9,739.3 L1056.4,745.3 L1049.4,745.3 Z" fill="#d22b26"/>
<path d="M1047.1,701.5 L1050.6,707.5 L1043.6,707.5 Z" fill="#d22b26"/>
<path d="M1051.1,705.8 L1054.6,711.8 L1047.6,711.8 Z" fill="#d22b26"/>
<path d="M1039.5,715.4 L1043.0,721.4 L1036.0,721.4 Z" fill="#d22b26"/>
<path d="M1026.5,711.3 L1030.0,717.3 L1023.0,717.3 Z" fill="#d22b26"/>
<rect x="1053.5" y="710.1" width="5.2" height="5.2" fill="#d22b26"/>
<path d="M1047.0,691.5 L1050.5,697.5 L1043.5,697.5 Z" fill="#d22b26"/>
<path d="M1042.8,723.5 L1046.3,729.5 L1039.3,729.5 Z" fill="#d22b26"/>
<circle cx="1044.5" cy="689.7" r="2.90" fill="#d22b26"/>
<path d="M1031.8,726.1 L1035.3,732.1 L1028.3,732.1 Z" fill="#d22b26"/>
<path d="M1019.9,691.5 L1023.4,697.5 L1016.4,697.5 Z" fill="#d22b26"/>
<path d="M1041.7,719.9 L1045.2,725.9 L1038.2,725.9 Z" fill="#d22b26"/>
<path d="M1041.0,723.2 L1044.5,729.2 L1037.5,729.2 Z" fill="#d22b26"/>
<path d="M1065.1,690.3 L1068.6,696.3 L1061.6,696.3 Z" fill="#d22b26"/>
<rect x="1024.4" y="686.5" width="5.2" height="5.2" fill="#d22b26"/>
<path d="M1020.8,705.4 L1024.3,711.4 L1017.3,711.4 Z" fill="#d22b26"/>
<circle cx="1045.5" cy="724.2" r="2.90" fill="#d22b26"/>
<path d="M1061.6,696.6 L1065.1,702.6 L1058.1,702.6 Z" fill="#d22b26"/>
<path d="M1054.1,707.5 L1057.6,713.5 L1050.6,713.5 Z" fill="#d22b26"/>
<circle cx="1052.3" cy="729.5" r="2.90" fill="#d22b26"/>
<rect x="1027.3" y="709.1" width="5.2" height="5.2" fill="#d22b26"/>
<path d="M1045.3,721.1 L1048.8,727.1 L1041.8,727.1 Z" fill="#d22b26"/>
<path d="M1048.7,735.8 L1052.2,741.8 L1045.2,741.8 Z" fill="#d22b26"/>
<path d="M1024.8,736.0 L1028.3,742.0 L1021.3,742.0 Z" fill="#d22b26"/>
<path d="M1033.0,727.1 L1036.5,733.1 L1029.5,733.1 Z" fill="#d22b26"/>
<path d="M1029.7,679.8 L1033.2,685.8 L1026.2,685.8 Z" fill="#d22b26"/>
<path d="M1032.2,686.2 L1035.7,692.2 L1028.7,692.2 Z" fill="#d22b26"/>
<circle cx="1055.9" cy="703.8" r="2.90" fill="#d22b26"/>
<path d="M1037.2,741.2 L1040.7,747.2 L1033.7,747.2 Z" fill="#d22b26"/>
<path d="M1063.0,730.0 L1066.5,736.0 L1059.5,736.0 Z" fill="#d22b26"/>
<circle cx="1028.4" cy="744.6" r="2.90" fill="#d22b26"/>
<path d="M1035.1,706.7 L1038.6,712.7 L1031.6,712.7 Z" fill="#d22b26"/>
<path d="M1026.1,714.4 L1029.6,720.4 L1022.6,720.4 Z" fill="#d22b26"/>
<path d="M1039.1,699.7 L1042.6,705.7 L1035.6,705.7 Z" fill="#d22b26"/>
<circle cx="1066.9" cy="698.5" r="2.90" fill="#d22b26"/>
<path d="M1033.4,717.0 L1036.9,723.0 L1029.9,723.0 Z" fill="#d22b26"/>
<path d="M1026.5,708.1 L1030.0,714.1 L1023.0,714.1 Z" fill="#d22b26"/>
<rect x="1029.8" y="709.3" width="5.2" height="5.2" fill="#d22b26"/>
<path d="M1017.6,708.9 L1021.1,714.9 L1014.1,714.9 Z" fill="#d22b26"/>
<rect x="1045.8" y="711.2" width="5.2" height="5.2" fill="#d22b26"/>
<path d="M1046.8,693.4 L1050.3,699.4 L1043.3,699.4 Z" fill="#d22b26"/>
<path d="M1053.8,721.2 L1057.3,727.2 L1050.3,727.2 Z" fill="#d22b26"/>
<path d="M1049.6,731.5 L1053.1,737.5 L1046.1,737.5 Z" fill="#d22b26"/>
<circle cx="1041.7" cy="714.5" r="2.90" fill="#d22b26"/>
<path d="M1016.2,702.6 L1019.7,708.6 L1012.7,708.6 Z" fill="#d22b26"/>
<path d="M1062.3,724.1 L1065.8,730.1 L1058.8,730.1 Z" fill="#d22b26"/>
<path d="M1053.8,708.5 L1057.3,714.5 L1050.3,714.5 Z" fill="#d22b26"/>
<path d="M1063.3,715.1 L1066.8,721.1 L1059.8,721.1 Z" fill="#d22b26"/>
<path d="M1042.3,734.7 L1045.8,740.7 L1038.8,740.7 Z" fill="#d22b26"/>
<path d="M1022.9,705.9 L1026.4,711.9 L1019.4,711.9 Z" fill="#d22b26"/>
<path d="M1052.6,695.2 L1056.1,701.2 L1049.1,701.2 Z" fill="#d22b26"/>
<path d="M1027.1,714.1 L1030.6,720.1 L1023.6,720.1 Z" fill="#d22b26"/>
<path d="M1040.2,700.1 L1043.7,706.1 L1036.7,706.1 Z" fill="#d22b26"/>
<path d="M1055.0,712.1 L1058.5,718.1 L1051.5,718.1 Z" fill="#d22b26"/>
<path d="M1050.8,700.4 L1054.3,706.4 L1047.3,706.4 Z" fill="#d22b26"/>
<rect x="1045.9" y="712.3" width="5.2" height="5.2" fill="#d22b26"/>
<rect x="999.5" y="684.4" width="5.2" height="5.2" fill="#d22b26"/>
<path d="M993.9,692.9 L997.4,698.9 L990.4,698.9 Z" fill="#d22b26"/>
<path d="M1049.1,773.6 L1052.6,779.6 L1045.6,779.6 Z" fill="#d22b26"/>
<rect x="992.8" y="870.6" width="5.2" height="5.2" fill="#d22b26"/>
<text x="1097.5" y="716.2" font-size="16" text-anchor="start" fill="#111" >Group</text>
<circle cx="1105.6" cy="730.4" r="4.4" fill="#000"/>
<text x="1117.9" y="733.3" font-size="16" text-anchor="start" fill="#111" >NC</text>
<path d="M1105.6,740.0 L1111.7,750.6 L1099.5,750.6 Z" fill="#000"/>
<text x="1117.9" y="749.0" font-size="16" text-anchor="start" fill="#111" >WG</text>
<rect x="1101.1" y="759.0" width="9.0" height="8.2" fill="#000" stroke="none" stroke-width="1" />
<text x="1117.9" y="765.0" font-size="16" text-anchor="start" fill="#111" >WL</text>
<text x="1097.5" y="798.9" font-size="16" text-anchor="start" fill="#111" >Tissue</text>
<rect x="1099.2" y="806.9" width="12.5" height="12.6" fill="#d22b26" stroke="none" stroke-width="1" />
<text x="1117.4" y="818.4" font-size="16.3" text-anchor="start" fill="#111" >GOM</text>
<rect x="1099.2" y="822.8" width="12.5" height="12.6" fill="#ee7f1c" stroke="none" stroke-width="1" />
<text x="1117.4" y="834.3" font-size="16.3" text-anchor="start" fill="#111" >MAD</text>
<rect x="1099.2" y="838.8" width="12.5" height="12.6" fill="#e8e23c" stroke="none" stroke-width="1" />
<text x="1117.4" y="850.3" font-size="16.3" text-anchor="start" fill="#111" >RAD</text>
<rect x="1099.2" y="854.7" width="12.5" height="12.6" fill="#45a144" stroke="none" stroke-width="1" />
<text x="1117.4" y="866.2" font-size="16.3" text-anchor="start" fill="#111" >ULB</text>
<text x="1.4" y="948.7" font-size="23.5" text-anchor="start" fill="#000" font-weight="bold" >j</text>
<line x1="64.3" y1="959.3" x2="64.3" y2="1133.3" stroke="#222" stroke-width="1.3" />
<line x1="64.3" y1="1133.3" x2="316.7" y2="1133.3" stroke="#222" stroke-width="1.3" />
<line x1="60.8" y1="980.0" x2="64.3" y2="980.0" stroke="#222" stroke-width="1.2" />
<text x="53.3" y="984.6" font-size="14.2" text-anchor="end" fill="#111" >0.4</text>
<line x1="60.8" y1="1016.7" x2="64.3" y2="1016.7" stroke="#222" stroke-width="1.2" />
<text x="53.3" y="1021.3" font-size="14.2" text-anchor="end" fill="#111" >0.3</text>
<line x1="60.8" y1="1053.3" x2="64.3" y2="1053.3" stroke="#222" stroke-width="1.2" />
<text x="53.3" y="1057.9" font-size="14.2" text-anchor="end" fill="#111" >0.2</text>
<line x1="60.8" y1="1089.3" x2="64.3" y2="1089.3" stroke="#222" stroke-width="1.2" />
<text x="53.3" y="1093.9" font-size="14.2" text-anchor="end" fill="#111" >0.1</text>
<line x1="60.8" y1="1125.7" x2="64.3" y2="1125.7" stroke="#222" stroke-width="1.2" />
<text x="53.3" y="1130.3" font-size="14.2" text-anchor="end" fill="#111" >0</text>
<line x1="75.0" y1="1133.3" x2="75.0" y2="1136.8" stroke="#222" stroke-width="1.2" />
<text x="75.0" y="1156.0" font-size="14.2" text-anchor="middle" fill="#111" >0</text>
<line x1="155.0" y1="1133.3" x2="155.0" y2="1136.8" stroke="#222" stroke-width="1.2" />
<text x="155.0" y="1156.0" font-size="14.2" text-anchor="middle" fill="#111" >2</text>
<line x1="235.0" y1="1133.3" x2="235.0" y2="1136.8" stroke="#222" stroke-width="1.2" />
<text x="235.0" y="1156.0" font-size="14.2" text-anchor="middle" fill="#111" >4</text>
<line x1="315.0" y1="1133.3" x2="315.0" y2="1136.8" stroke="#222" stroke-width="1.2" />
<text x="315.0" y="1156.0" font-size="14.2" text-anchor="middle" fill="#111" >6</text>
<text x="179.3" y="1176.7" font-size="14.2" text-anchor="middle" fill="#111" >Project to line (k=−0.3)</text>
<text x="28.0" y="1055.0" font-size="14.2" text-anchor="middle" fill="#111" transform="rotate(-90 28 1055)">Density</text>
<path d="M75.0,1081.0 C79.2,1077.5 91.4,1064.6 100.0,1060.0 C108.6,1055.4 117.8,1053.9 126.7,1053.3 C135.6,1052.8 144.4,1053.6 153.3,1056.7 C162.2,1059.7 170.6,1066.9 180.0,1071.7 C189.4,1076.4 201.1,1084.2 210.0,1085.0 C218.9,1085.8 225.0,1080.4 233.3,1076.7 C241.7,1072.9 251.7,1062.9 260.0,1062.7 C268.3,1062.4 275.8,1069.1 283.3,1075.0 C290.8,1080.9 301.4,1094.4 305.0,1098.3" fill="none" stroke="#c7dbe6" stroke-width="1.5" />
<path d="M75.0,1116.0 C77.8,1113.4 86.4,1108.9 91.7,1100.7 C96.9,1092.4 100.8,1082.3 106.7,1066.7 C112.5,1051.0 120.8,1022.2 126.7,1006.7 C132.5,991.1 137.9,979.9 141.7,973.3 C145.4,966.8 146.6,967.6 149.3,967.3 C152.1,967.1 153.2,962.9 158.3,971.7 C163.4,980.4 173.6,1007.5 180.0,1020.0 C186.4,1032.5 191.1,1038.3 196.7,1046.7 C202.2,1055.0 207.2,1061.9 213.3,1070.0 C219.4,1078.1 225.6,1087.2 233.3,1095.0 C241.1,1102.8 251.7,1112.8 260.0,1116.7 C268.3,1120.6 275.8,1117.8 283.3,1118.3 C290.8,1118.9 301.4,1119.7 305.0,1120.0" fill="none" stroke="#e3906f" stroke-width="1.5" />
<path d="M75.0,1098.3 C78.6,1094.7 90.8,1080.4 96.7,1076.7 C102.5,1072.9 104.2,1075.7 110.0,1075.7 C115.8,1075.7 125.0,1079.8 131.7,1076.7 C138.3,1073.5 143.6,1066.1 150.0,1056.7 C156.4,1047.2 163.6,1028.8 170.0,1020.0 C176.4,1011.2 182.8,1004.6 188.3,1004.0 C193.9,1003.4 198.1,1009.0 203.3,1016.7 C208.6,1024.3 214.2,1040.0 220.0,1050.0 C225.8,1060.0 231.1,1071.4 238.3,1076.7 C245.6,1081.9 256.4,1080.0 263.3,1081.7 C270.3,1083.3 273.1,1080.8 280.0,1086.7 C286.9,1092.5 300.8,1111.7 305.0,1116.7" fill="none" stroke="#3f7cab" stroke-width="1.5" />
<line x1="318.3" y1="983.3" x2="333.3" y2="983.3" stroke="#c7dbe6" stroke-width="1.5" />
<text x="339.3" y="987.9" font-size="14.2" text-anchor="start" fill="#111" >NC</text>
<line x1="318.3" y1="1004.0" x2="333.3" y2="1004.0" stroke="#e3906f" stroke-width="1.5" />
<text x="339.3" y="1008.6" font-size="14.2" text-anchor="start" fill="#111" >WG</text>
<line x1="318.3" y1="1024.7" x2="333.3" y2="1024.7" stroke="#3f7cab" stroke-width="1.5" />
<text x="339.3" y="1029.3" font-size="14.2" text-anchor="start" fill="#111" >WL</text>
<text x="408.2" y="948.7" font-size="23.5" text-anchor="start" fill="#000" font-weight="bold" >k</text>
<line x1="463.3" y1="959.3" x2="463.3" y2="1133.3" stroke="#222" stroke-width="1.3" />
<line x1="463.3" y1="1133.3" x2="716.0" y2="1133.3" stroke="#222" stroke-width="1.3" />
<line x1="459.8" y1="971.7" x2="463.3" y2="971.7" stroke="#222" stroke-width="1.2" />
<text x="453.3" y="976.3" font-size="14.2" text-anchor="end" fill="#111" >0.5</text>
<line x1="459.8" y1="1002.3" x2="463.3" y2="1002.3" stroke="#222" stroke-width="1.2" />
<text x="453.3" y="1006.9" font-size="14.2" text-anchor="end" fill="#111" >0.4</text>
<line x1="459.8" y1="1033.3" x2="463.3" y2="1033.3" stroke="#222" stroke-width="1.2" />
<text x="453.3" y="1037.9" font-size="14.2" text-anchor="end" fill="#111" >0.3</text>
<line x1="459.8" y1="1064.0" x2="463.3" y2="1064.0" stroke="#222" stroke-width="1.2" />
<text x="453.3" y="1068.6" font-size="14.2" text-anchor="end" fill="#111" >0.2</text>
<line x1="459.8" y1="1095.0" x2="463.3" y2="1095.0" stroke="#222" stroke-width="1.2" />
<text x="453.3" y="1099.6" font-size="14.2" text-anchor="end" fill="#111" >0.1</text>
<line x1="459.8" y1="1125.7" x2="463.3" y2="1125.7" stroke="#222" stroke-width="1.2" />
<text x="453.3" y="1130.3" font-size="14.2" text-anchor="end" fill="#111" >0</text>
<line x1="474.0" y1="1133.3" x2="474.0" y2="1136.8" stroke="#222" stroke-width="1.2" />
<text x="474.0" y="1156.0" font-size="14.2" text-anchor="middle" fill="#111" >0</text>
<line x1="530.0" y1="1133.3" x2="530.0" y2="1136.8" stroke="#222" stroke-width="1.2" />
<text x="530.0" y="1156.0" font-size="14.2" text-anchor="middle" fill="#111" >1</text>
<line x1="585.0" y1="1133.3" x2="585.0" y2="1136.8" stroke="#222" stroke-width="1.2" />
<text x="585.0" y="1156.0" font-size="14.2" text-anchor="middle" fill="#111" >2</text>
<line x1="640.7" y1="1133.3" x2="640.7" y2="1136.8" stroke="#222" stroke-width="1.2" />
<text x="640.7" y="1156.0" font-size="14.2" text-anchor="middle" fill="#111" >3</text>
<line x1="696.0" y1="1133.3" x2="696.0" y2="1136.8" stroke="#222" stroke-width="1.2" />
<text x="696.0" y="1156.0" font-size="14.2" text-anchor="middle" fill="#111" >4</text>
<text x="576.7" y="1176.7" font-size="14.2" text-anchor="middle" fill="#111" >Project to line (k=−1)</text>
<text x="424.5" y="1055.0" font-size="14.2" text-anchor="middle" fill="#111" transform="rotate(-90 424.5 1055)">Density</text>
<path d="M474.0,1097.3 C478.3,1093.9 491.2,1083.7 500.0,1076.7 C508.8,1069.6 519.4,1059.4 526.7,1055.0 C533.9,1050.6 537.8,1050.3 543.3,1050.0 C548.9,1049.7 553.6,1052.2 560.0,1053.3 C566.4,1054.4 574.4,1058.9 581.7,1056.7 C588.9,1054.4 595.8,1046.4 603.3,1040.0 C610.8,1033.6 620.6,1023.1 626.7,1018.3 C632.8,1013.6 635.0,1011.4 640.0,1011.7 C645.0,1011.9 650.6,1012.5 656.7,1020.0 C662.8,1027.5 670.6,1044.4 676.7,1056.7 C682.8,1068.9 688.6,1084.3 693.3,1093.3 C698.1,1102.4 703.1,1108.1 705.0,1111.0" fill="none" stroke="#c7dbe6" stroke-width="1.5" />
<path d="M474.0,1079.3 C477.2,1073.1 487.1,1050.3 493.3,1041.7 C499.6,1033.0 506.1,1028.7 511.7,1027.3 C517.2,1025.9 521.9,1031.8 526.7,1033.3 C531.4,1034.9 535.0,1038.9 540.0,1036.7 C545.0,1034.4 550.6,1025.6 556.7,1020.0 C562.8,1014.4 570.6,1004.7 576.7,1003.3 C582.8,1001.9 587.8,1005.0 593.3,1011.7 C598.9,1018.3 604.4,1034.2 610.0,1043.3 C615.6,1052.5 621.7,1060.7 626.7,1066.7 C631.7,1072.7 633.3,1075.4 640.0,1079.3 C646.7,1083.2 655.8,1083.9 666.7,1090.0 C677.5,1096.1 698.6,1111.7 705.0,1116.0" fill="none" stroke="#e3906f" stroke-width="1.5" />
<path d="M474.0,1076.7 C477.2,1066.1 486.2,1031.7 493.3,1013.3 C500.4,995.0 510.0,972.2 516.7,966.7 C523.3,961.1 527.8,970.6 533.3,980.0 C538.9,989.4 544.4,1011.1 550.0,1023.3 C555.6,1035.6 561.7,1047.4 566.7,1053.3 C571.7,1059.3 575.0,1059.3 580.0,1059.0 C585.0,1058.7 592.2,1052.9 596.7,1051.7 C601.1,1050.4 602.8,1048.3 606.7,1051.7 C610.6,1055.0 614.4,1063.3 620.0,1071.7 C625.6,1080.0 632.2,1094.4 640.0,1101.7 C647.8,1108.9 655.8,1112.4 666.7,1115.0 C677.5,1117.6 698.6,1116.9 705.0,1117.3" fill="none" stroke="#3f7cab" stroke-width="1.5" />
<line x1="725.0" y1="981.7" x2="740.0" y2="981.7" stroke="#c7dbe6" stroke-width="1.5" />
<text x="745.0" y="986.3" font-size="14.2" text-anchor="start" fill="#111" >NC</text>
<line x1="725.0" y1="1002.7" x2="740.0" y2="1002.7" stroke="#e3906f" stroke-width="1.5" />
<text x="745.0" y="1007.3" font-size="14.2" text-anchor="start" fill="#111" >WG</text>
<line x1="725.0" y1="1023.3" x2="740.0" y2="1023.3" stroke="#3f7cab" stroke-width="1.5" />
<text x="745.0" y="1027.9" font-size="14.2" text-anchor="start" fill="#111" >WL</text>
<text x="788.9" y="948.3" font-size="23.5" text-anchor="start" fill="#000" font-weight="bold" >l</text>
<line x1="856.3" y1="958.8" x2="856.3" y2="1132.7" stroke="#222" stroke-width="1.3" />
<line x1="856.3" y1="1132.7" x2="1109.0" y2="1132.7" stroke="#222" stroke-width="1.3" />
<line x1="852.8" y1="993.8" x2="856.3" y2="993.8" stroke="#222" stroke-width="1.2" />
<text x="846.5" y="998.4" font-size="14.2" text-anchor="end" fill="#111" >0.3</text>
<line x1="852.8" y1="1037.5" x2="856.3" y2="1037.5" stroke="#222" stroke-width="1.2" />
<text x="846.5" y="1042.1" font-size="14.2" text-anchor="end" fill="#111" >0.2</text>
<line x1="852.8" y1="1081.3" x2="856.3" y2="1081.3" stroke="#222" stroke-width="1.2" />
<text x="846.5" y="1085.9" font-size="14.2" text-anchor="end" fill="#111" >0.1</text>
<line x1="852.8" y1="1125.0" x2="856.3" y2="1125.0" stroke="#222" stroke-width="1.2" />
<text x="846.5" y="1129.6" font-size="14.2" text-anchor="end" fill="#111" >0</text>
<line x1="867.5" y1="1132.7" x2="867.5" y2="1136.2" stroke="#222" stroke-width="1.2" />
<text x="867.5" y="1155.8" font-size="14.2" text-anchor="middle" fill="#111" >0</text>
<line x1="928.8" y1="1132.7" x2="928.8" y2="1136.2" stroke="#222" stroke-width="1.2" />
<text x="928.8" y="1155.8" font-size="14.2" text-anchor="middle" fill="#111" >2</text>
<line x1="990.0" y1="1132.7" x2="990.0" y2="1136.2" stroke="#222" stroke-width="1.2" />
<text x="990.0" y="1155.8" font-size="14.2" text-anchor="middle" fill="#111" >4</text>
<line x1="1051.3" y1="1132.7" x2="1051.3" y2="1136.2" stroke="#222" stroke-width="1.2" />
<text x="1051.3" y="1155.8" font-size="14.2" text-anchor="middle" fill="#111" >6</text>
<text x="970.8" y="1175.0" font-size="14.2" text-anchor="middle" fill="#111" >Project to line (k=−5)</text>
<text x="803.0" y="1053.0" font-size="14.2" text-anchor="middle" fill="#111" transform="rotate(-90 803 1053)">Density</text>
<path d="M867.5,1102.6 C870.4,1099.3 878.0,1089.7 885.0,1083.0 C892.0,1076.4 901.9,1065.5 909.5,1062.7 C917.1,1059.9 924.1,1068.1 930.5,1066.2 C936.9,1064.3 939.8,1059.6 948.0,1051.5 C956.2,1043.4 970.2,1019.3 979.5,1017.6 C988.8,1015.8 996.4,1033.0 1004.0,1041.0 C1011.6,1049.0 1016.8,1057.9 1025.0,1065.5 C1033.2,1073.1 1044.3,1079.5 1053.0,1086.5 C1061.8,1093.5 1069.9,1101.6 1077.5,1107.5 C1085.1,1113.5 1095.0,1119.8 1098.5,1122.2" fill="none" stroke="#c7dbe6" stroke-width="1.5" />
<path d="M867.5,1092.8 C870.4,1090.3 879.2,1081.4 885.0,1077.8 C890.8,1074.1 896.7,1071.5 902.5,1071.1 C908.3,1070.7 913.9,1073.5 920.0,1075.3 C926.1,1077.1 932.3,1082.7 939.3,1082.0 C946.3,1081.2 954.7,1075.8 962.0,1070.8 C969.3,1065.7 974.8,1056.5 983.0,1051.5 C991.2,1046.5 1002.3,1040.4 1011.0,1041.0 C1019.8,1041.6 1027.3,1049.2 1035.5,1055.0 C1043.7,1060.8 1049.5,1067.4 1060.0,1076.0 C1070.5,1084.6 1092.1,1101.7 1098.5,1106.8" fill="none" stroke="#e3906f" stroke-width="1.5" />
<path d="M867.5,1112.8 C870.4,1104.9 878.6,1084.5 885.0,1065.5 C891.4,1046.5 898.4,1015.5 906.0,999.0 C913.6,982.6 923.5,968.6 930.5,966.8 C937.5,965.1 942.2,974.4 948.0,988.5 C953.8,1002.6 960.3,1032.3 965.5,1051.5 C970.8,1070.8 973.7,1091.9 979.5,1104.0 C985.3,1116.1 994.1,1123.1 1000.5,1124.3 C1006.9,1125.5 1011.6,1117.9 1018.0,1111.0 C1024.4,1104.1 1033.2,1088.1 1039.0,1083.0 C1044.8,1077.9 1046.6,1079.6 1053.0,1080.2 C1059.4,1080.8 1069.9,1082.5 1077.5,1086.5 C1085.1,1090.5 1095.0,1101.1 1098.5,1104.0" fill="none" stroke="#3f7cab" stroke-width="1.5" />
<line x1="1105.5" y1="983.3" x2="1120.2" y2="983.3" stroke="#c7dbe6" stroke-width="1.5" />
<text x="1125.8" y="987.9" font-size="14.2" text-anchor="start" fill="#111" >NC</text>
<line x1="1105.5" y1="1003.2" x2="1120.2" y2="1003.2" stroke="#e3906f" stroke-width="1.5" />
<text x="1125.8" y="1007.8" font-size="14.2" text-anchor="start" fill="#111" >WG</text>
<line x1="1105.5" y1="1023.5" x2="1120.2" y2="1023.5" stroke="#3f7cab" stroke-width="1.5" />
<text x="1125.8" y="1028.1" font-size="14.2" text-anchor="start" fill="#111" >WL</text>
</svg></body></html>
